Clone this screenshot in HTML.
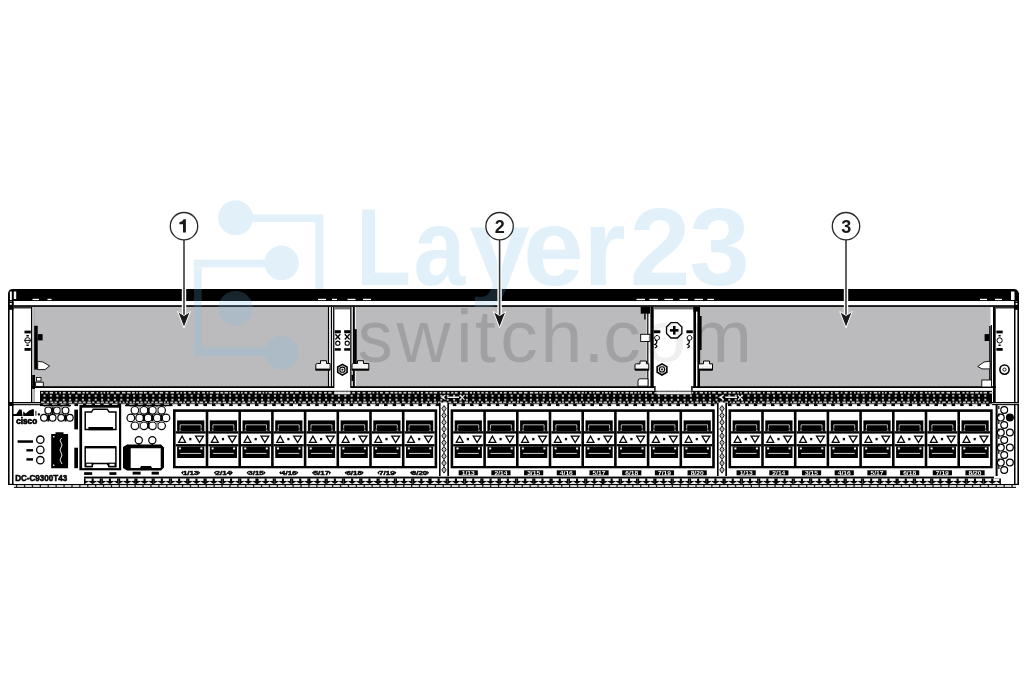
<!DOCTYPE html>
<html><head><meta charset="utf-8"><title>Switch front panel</title>
<style>html,body{margin:0;padding:0;background:#fff;overflow:hidden;}svg{display:block;will-change:transform;}
text{font-family:"Liberation Sans",sans-serif;}</style></head>
<body><svg width="1024" height="683" viewBox="0 0 1024 683">
<rect width="1024" height="683" fill="#fff"/>
<path d="M8,293.5 Q8.5,289.1 13,289.1 L1014,289.1 Q1018.5,289.1 1019,293.5 L1019,301.1 L8,301.1 Z" fill="#000"/>
<rect x="9.80" y="291.50" width="2.00" height="8.50" fill="#fff" />
<rect x="13.80" y="291.50" width="2.40" height="7.50" fill="#fff" />
<rect x="1011.00" y="291.50" width="3.50" height="8.50" fill="#fff" />
<rect x="32.50" y="298.80" width="6.50" height="1.30" fill="#fff" />
<rect x="47.50" y="298.80" width="4.00" height="1.30" fill="#fff" />
<rect x="318.00" y="298.80" width="8.00" height="1.30" fill="#fff" />
<rect x="332.00" y="298.80" width="5.00" height="1.30" fill="#fff" />
<rect x="347.50" y="298.80" width="8.00" height="1.30" fill="#fff" />
<rect x="363.00" y="298.80" width="8.00" height="1.30" fill="#fff" />
<rect x="636.50" y="298.80" width="8.50" height="1.30" fill="#fff" />
<rect x="649.40" y="298.80" width="8.60" height="1.30" fill="#fff" />
<rect x="664.40" y="298.80" width="8.60" height="1.30" fill="#fff" />
<rect x="679.50" y="298.80" width="8.50" height="1.30" fill="#fff" />
<rect x="694.50" y="298.80" width="8.50" height="1.30" fill="#fff" />
<rect x="707.40" y="298.80" width="6.60" height="1.30" fill="#fff" />
<rect x="980.00" y="298.80" width="7.00" height="1.30" fill="#fff" />
<rect x="995.00" y="298.80" width="7.00" height="1.30" fill="#fff" />
<rect x="13.40" y="301.10" width="1001.80" height="4.00" fill="#fff" />
<rect x="13.40" y="305.10" width="1001.80" height="1.90" fill="#1a1a1a" />
<rect x="8.00" y="293.00" width="1.60" height="192.00" fill="#000" />
<rect x="12.00" y="301.00" width="1.50" height="184.00" fill="#000" />
<rect x="8.00" y="483.80" width="6.00" height="1.20" fill="#000" />
<rect x="8.00" y="301.50" width="5.50" height="8.30" fill="#000" />
<rect x="9.80" y="303.00" width="2.00" height="1.80" fill="#fff" />
<rect x="13.50" y="307.20" width="17.50" height="1.20" fill="#000" />
<rect x="1017.40" y="293.00" width="1.60" height="192.00" fill="#000" />
<rect x="1014.00" y="301.00" width="1.50" height="184.00" fill="#000" />
<rect x="1014.00" y="483.80" width="5.00" height="1.20" fill="#000" />
<rect x="1014.00" y="301.50" width="5.00" height="8.30" fill="#000" />
<rect x="1015.60" y="303.00" width="1.80" height="1.80" fill="#fff" />
<rect x="996.00" y="307.20" width="18.00" height="1.20" fill="#000" />
<rect x="35.00" y="307.00" width="293.00" height="79.60" fill="#bbbbbe" />
<rect x="355.50" y="307.00" width="291.30" height="79.60" fill="#bbbbbe" />
<rect x="700.00" y="307.00" width="290.50" height="79.60" fill="#bbbbbe" />
<rect x="31.00" y="307.00" width="1.30" height="95.50" fill="#000" />
<rect x="33.40" y="307.00" width="1.40" height="95.50" fill="#999" />
<rect x="327.50" y="307.00" width="28.00" height="83.00" fill="#fff" />
<rect x="327.80" y="307.00" width="1.30" height="83.00" fill="#000" />
<rect x="330.80" y="307.00" width="1.30" height="83.00" fill="#000" />
<rect x="333.10" y="307.00" width="1.30" height="83.00" fill="#000" />
<rect x="350.20" y="307.00" width="1.30" height="83.00" fill="#000" />
<rect x="352.80" y="307.00" width="2.00" height="83.00" fill="#000" />
<rect x="334.40" y="306.90" width="15.80" height="2.50" fill="#777" />
<rect x="646.80" y="307.00" width="53.20" height="83.00" fill="#fff" />
<rect x="647.20" y="307.00" width="1.20" height="83.00" fill="#000" />
<rect x="650.40" y="307.00" width="3.30" height="83.00" fill="#000" />
<rect x="693.40" y="307.00" width="2.60" height="83.00" fill="#000" />
<rect x="697.40" y="307.00" width="2.60" height="83.00" fill="#000" />
<rect x="653.70" y="306.90" width="39.70" height="2.50" fill="#777" />
<rect x="990.80" y="325.00" width="1.10" height="61.00" fill="#000" />
<rect x="993.00" y="307.00" width="2.70" height="95.50" fill="#000" />
<rect x="31.00" y="386.20" width="965.00" height="1.80" fill="#000" />
<rect x="35.00" y="388.00" width="958.00" height="2.80" fill="#fff" />
<rect x="334.40" y="386.00" width="15.80" height="4.80" fill="#fff" />
<rect x="654.20" y="386.00" width="38.30" height="4.80" fill="#fff" />
<rect x="654.20" y="386.00" width="1.40" height="4.80" fill="#000" />
<rect x="691.20" y="386.00" width="1.40" height="4.80" fill="#000" />
<rect x="40.00" y="390.80" width="952.00" height="13.00" fill="#000" />
<rect x="41.00" y="391.90" width="2.20" height="1.70" fill="#c8c8c8" />
<rect x="45.60" y="391.90" width="2.20" height="1.70" fill="#c8c8c8" />
<rect x="49.60" y="391.90" width="3.40" height="1.70" fill="#c8c8c8" />
<rect x="55.40" y="391.90" width="1.60" height="1.70" fill="#c8c8c8" />
<rect x="59.40" y="391.90" width="1.60" height="1.70" fill="#c8c8c8" />
<rect x="62.80" y="391.90" width="2.80" height="1.70" fill="#c8c8c8" />
<rect x="68.00" y="391.90" width="2.20" height="1.70" fill="#c8c8c8" />
<rect x="71.60" y="391.90" width="3.40" height="1.70" fill="#c8c8c8" />
<rect x="77.40" y="391.90" width="3.40" height="1.70" fill="#c8c8c8" />
<rect x="82.60" y="391.90" width="2.20" height="1.70" fill="#c8c8c8" />
<rect x="86.20" y="391.90" width="2.20" height="1.70" fill="#c8c8c8" />
<rect x="90.80" y="391.90" width="3.40" height="1.70" fill="#c8c8c8" />
<rect x="96.60" y="391.90" width="1.60" height="1.70" fill="#c8c8c8" />
<rect x="100.60" y="391.90" width="1.60" height="1.70" fill="#c8c8c8" />
<rect x="103.60" y="391.90" width="1.60" height="1.70" fill="#c8c8c8" />
<rect x="107.00" y="391.90" width="1.60" height="1.70" fill="#c8c8c8" />
<rect x="110.40" y="391.90" width="3.40" height="1.70" fill="#c8c8c8" />
<rect x="116.20" y="391.90" width="3.40" height="1.70" fill="#c8c8c8" />
<rect x="122.00" y="391.90" width="3.40" height="1.70" fill="#c8c8c8" />
<rect x="127.20" y="391.90" width="3.40" height="1.70" fill="#c8c8c8" />
<rect x="132.00" y="391.90" width="2.80" height="1.70" fill="#c8c8c8" />
<rect x="136.20" y="391.90" width="1.60" height="1.70" fill="#c8c8c8" />
<rect x="139.20" y="391.90" width="3.40" height="1.70" fill="#c8c8c8" />
<rect x="144.00" y="391.90" width="2.80" height="1.70" fill="#c8c8c8" />
<rect x="149.20" y="391.90" width="3.40" height="1.70" fill="#c8c8c8" />
<rect x="155.00" y="391.90" width="2.80" height="1.70" fill="#c8c8c8" />
<rect x="159.60" y="391.90" width="3.40" height="1.70" fill="#c8c8c8" />
<rect x="165.40" y="391.90" width="2.80" height="1.70" fill="#c8c8c8" />
<rect x="170.60" y="391.90" width="3.40" height="1.70" fill="#c8c8c8" />
<rect x="176.40" y="391.90" width="2.20" height="1.70" fill="#c8c8c8" />
<rect x="180.40" y="391.90" width="1.60" height="1.70" fill="#c8c8c8" />
<rect x="183.80" y="391.90" width="2.20" height="1.70" fill="#c8c8c8" />
<rect x="188.40" y="391.90" width="2.80" height="1.70" fill="#c8c8c8" />
<rect x="193.60" y="391.90" width="1.60" height="1.70" fill="#c8c8c8" />
<rect x="197.60" y="391.90" width="2.20" height="1.70" fill="#c8c8c8" />
<rect x="202.20" y="391.90" width="2.80" height="1.70" fill="#c8c8c8" />
<rect x="206.80" y="391.90" width="1.60" height="1.70" fill="#c8c8c8" />
<rect x="209.80" y="391.90" width="3.40" height="1.70" fill="#c8c8c8" />
<rect x="215.60" y="391.90" width="3.40" height="1.70" fill="#c8c8c8" />
<rect x="220.40" y="391.90" width="2.80" height="1.70" fill="#c8c8c8" />
<rect x="224.60" y="391.90" width="3.40" height="1.70" fill="#c8c8c8" />
<rect x="229.40" y="391.90" width="1.60" height="1.70" fill="#c8c8c8" />
<rect x="232.80" y="391.90" width="3.40" height="1.70" fill="#c8c8c8" />
<rect x="238.00" y="391.90" width="1.60" height="1.70" fill="#c8c8c8" />
<rect x="241.00" y="391.90" width="1.60" height="1.70" fill="#c8c8c8" />
<rect x="244.40" y="391.90" width="2.80" height="1.70" fill="#c8c8c8" />
<rect x="249.60" y="391.90" width="2.80" height="1.70" fill="#c8c8c8" />
<rect x="254.80" y="391.90" width="2.20" height="1.70" fill="#c8c8c8" />
<rect x="258.40" y="391.90" width="2.80" height="1.70" fill="#c8c8c8" />
<rect x="262.60" y="391.90" width="1.60" height="1.70" fill="#c8c8c8" />
<rect x="265.60" y="391.90" width="1.60" height="1.70" fill="#c8c8c8" />
<rect x="268.60" y="391.90" width="3.40" height="1.70" fill="#c8c8c8" />
<rect x="273.80" y="391.90" width="2.80" height="1.70" fill="#c8c8c8" />
<rect x="278.00" y="391.90" width="1.60" height="1.70" fill="#c8c8c8" />
<rect x="281.40" y="391.90" width="2.80" height="1.70" fill="#c8c8c8" />
<rect x="286.00" y="391.90" width="2.20" height="1.70" fill="#c8c8c8" />
<rect x="290.00" y="391.90" width="3.40" height="1.70" fill="#c8c8c8" />
<rect x="295.20" y="391.90" width="3.40" height="1.70" fill="#c8c8c8" />
<rect x="301.00" y="391.90" width="1.60" height="1.70" fill="#c8c8c8" />
<rect x="305.00" y="391.90" width="2.80" height="1.70" fill="#c8c8c8" />
<rect x="309.60" y="391.90" width="2.20" height="1.70" fill="#c8c8c8" />
<rect x="313.60" y="391.90" width="3.40" height="1.70" fill="#c8c8c8" />
<rect x="318.80" y="391.90" width="2.80" height="1.70" fill="#c8c8c8" />
<rect x="324.00" y="391.90" width="2.80" height="1.70" fill="#c8c8c8" />
<rect x="328.20" y="391.90" width="3.40" height="1.70" fill="#c8c8c8" />
<rect x="334.00" y="391.90" width="2.80" height="1.70" fill="#c8c8c8" />
<rect x="338.20" y="391.90" width="3.40" height="1.70" fill="#c8c8c8" />
<rect x="344.00" y="391.90" width="2.20" height="1.70" fill="#c8c8c8" />
<rect x="347.60" y="391.90" width="2.80" height="1.70" fill="#c8c8c8" />
<rect x="352.20" y="391.90" width="2.80" height="1.70" fill="#c8c8c8" />
<rect x="357.40" y="391.90" width="2.80" height="1.70" fill="#c8c8c8" />
<rect x="362.60" y="391.90" width="2.80" height="1.70" fill="#c8c8c8" />
<rect x="367.80" y="391.90" width="3.40" height="1.70" fill="#c8c8c8" />
<rect x="372.60" y="391.90" width="1.60" height="1.70" fill="#c8c8c8" />
<rect x="376.60" y="391.90" width="1.60" height="1.70" fill="#c8c8c8" />
<rect x="380.00" y="391.90" width="2.80" height="1.70" fill="#c8c8c8" />
<rect x="385.20" y="391.90" width="3.40" height="1.70" fill="#c8c8c8" />
<rect x="390.40" y="391.90" width="2.80" height="1.70" fill="#c8c8c8" />
<rect x="394.60" y="391.90" width="2.80" height="1.70" fill="#c8c8c8" />
<rect x="398.80" y="391.90" width="2.80" height="1.70" fill="#c8c8c8" />
<rect x="403.40" y="391.90" width="2.80" height="1.70" fill="#c8c8c8" />
<rect x="408.00" y="391.90" width="3.40" height="1.70" fill="#c8c8c8" />
<rect x="412.80" y="391.90" width="1.60" height="1.70" fill="#c8c8c8" />
<rect x="416.80" y="391.90" width="2.20" height="1.70" fill="#c8c8c8" />
<rect x="420.80" y="391.90" width="2.20" height="1.70" fill="#c8c8c8" />
<rect x="425.40" y="391.90" width="2.80" height="1.70" fill="#c8c8c8" />
<rect x="429.60" y="391.90" width="2.80" height="1.70" fill="#c8c8c8" />
<rect x="433.80" y="391.90" width="3.40" height="1.70" fill="#c8c8c8" />
<rect x="439.60" y="391.90" width="1.60" height="1.70" fill="#c8c8c8" />
<rect x="442.60" y="391.90" width="2.80" height="1.70" fill="#c8c8c8" />
<rect x="447.20" y="391.90" width="2.20" height="1.70" fill="#c8c8c8" />
<rect x="451.20" y="391.90" width="2.20" height="1.70" fill="#c8c8c8" />
<rect x="454.80" y="391.90" width="2.80" height="1.70" fill="#c8c8c8" />
<rect x="460.00" y="391.90" width="2.20" height="1.70" fill="#c8c8c8" />
<rect x="464.60" y="391.90" width="3.40" height="1.70" fill="#c8c8c8" />
<rect x="469.80" y="391.90" width="2.20" height="1.70" fill="#c8c8c8" />
<rect x="473.40" y="391.90" width="1.60" height="1.70" fill="#c8c8c8" />
<rect x="477.40" y="391.90" width="2.20" height="1.70" fill="#c8c8c8" />
<rect x="481.40" y="391.90" width="2.20" height="1.70" fill="#c8c8c8" />
<rect x="485.40" y="391.90" width="2.80" height="1.70" fill="#c8c8c8" />
<rect x="490.60" y="391.90" width="1.60" height="1.70" fill="#c8c8c8" />
<rect x="494.60" y="391.90" width="2.80" height="1.70" fill="#c8c8c8" />
<rect x="499.80" y="391.90" width="2.20" height="1.70" fill="#c8c8c8" />
<rect x="503.80" y="391.90" width="2.80" height="1.70" fill="#c8c8c8" />
<rect x="509.00" y="391.90" width="2.80" height="1.70" fill="#c8c8c8" />
<rect x="513.60" y="391.90" width="2.80" height="1.70" fill="#c8c8c8" />
<rect x="518.80" y="391.90" width="3.40" height="1.70" fill="#c8c8c8" />
<rect x="524.00" y="391.90" width="3.40" height="1.70" fill="#c8c8c8" />
<rect x="529.80" y="391.90" width="3.40" height="1.70" fill="#c8c8c8" />
<rect x="534.60" y="391.90" width="3.40" height="1.70" fill="#c8c8c8" />
<rect x="539.40" y="391.90" width="2.20" height="1.70" fill="#c8c8c8" />
<rect x="543.00" y="391.90" width="3.40" height="1.70" fill="#c8c8c8" />
<rect x="548.80" y="391.90" width="3.40" height="1.70" fill="#c8c8c8" />
<rect x="554.60" y="391.90" width="2.20" height="1.70" fill="#c8c8c8" />
<rect x="558.20" y="391.90" width="3.40" height="1.70" fill="#c8c8c8" />
<rect x="564.00" y="391.90" width="2.80" height="1.70" fill="#c8c8c8" />
<rect x="569.20" y="391.90" width="2.80" height="1.70" fill="#c8c8c8" />
<rect x="573.40" y="391.90" width="1.60" height="1.70" fill="#c8c8c8" />
<rect x="577.40" y="391.90" width="2.80" height="1.70" fill="#c8c8c8" />
<rect x="581.60" y="391.90" width="2.20" height="1.70" fill="#c8c8c8" />
<rect x="585.20" y="391.90" width="1.60" height="1.70" fill="#c8c8c8" />
<rect x="589.20" y="391.90" width="2.20" height="1.70" fill="#c8c8c8" />
<rect x="593.20" y="391.90" width="1.60" height="1.70" fill="#c8c8c8" />
<rect x="596.20" y="391.90" width="3.40" height="1.70" fill="#c8c8c8" />
<rect x="602.00" y="391.90" width="1.60" height="1.70" fill="#c8c8c8" />
<rect x="605.00" y="391.90" width="2.80" height="1.70" fill="#c8c8c8" />
<rect x="609.20" y="391.90" width="1.60" height="1.70" fill="#c8c8c8" />
<rect x="613.20" y="391.90" width="3.40" height="1.70" fill="#c8c8c8" />
<rect x="618.00" y="391.90" width="1.60" height="1.70" fill="#c8c8c8" />
<rect x="621.40" y="391.90" width="2.20" height="1.70" fill="#c8c8c8" />
<rect x="625.40" y="391.90" width="3.40" height="1.70" fill="#c8c8c8" />
<rect x="630.20" y="391.90" width="2.80" height="1.70" fill="#c8c8c8" />
<rect x="634.40" y="391.90" width="2.20" height="1.70" fill="#c8c8c8" />
<rect x="638.00" y="391.90" width="1.60" height="1.70" fill="#c8c8c8" />
<rect x="641.00" y="391.90" width="2.20" height="1.70" fill="#c8c8c8" />
<rect x="645.00" y="391.90" width="2.20" height="1.70" fill="#c8c8c8" />
<rect x="648.60" y="391.90" width="3.40" height="1.70" fill="#c8c8c8" />
<rect x="654.40" y="391.90" width="3.40" height="1.70" fill="#c8c8c8" />
<rect x="659.20" y="391.90" width="2.80" height="1.70" fill="#c8c8c8" />
<rect x="663.40" y="391.90" width="2.80" height="1.70" fill="#c8c8c8" />
<rect x="668.60" y="391.90" width="3.40" height="1.70" fill="#c8c8c8" />
<rect x="673.40" y="391.90" width="3.40" height="1.70" fill="#c8c8c8" />
<rect x="678.60" y="391.90" width="1.60" height="1.70" fill="#c8c8c8" />
<rect x="681.60" y="391.90" width="2.20" height="1.70" fill="#c8c8c8" />
<rect x="685.20" y="391.90" width="1.60" height="1.70" fill="#c8c8c8" />
<rect x="688.20" y="391.90" width="1.60" height="1.70" fill="#c8c8c8" />
<rect x="691.60" y="391.90" width="1.60" height="1.70" fill="#c8c8c8" />
<rect x="695.60" y="391.90" width="1.60" height="1.70" fill="#c8c8c8" />
<rect x="699.60" y="391.90" width="3.40" height="1.70" fill="#c8c8c8" />
<rect x="704.80" y="391.90" width="2.20" height="1.70" fill="#c8c8c8" />
<rect x="708.80" y="391.90" width="1.60" height="1.70" fill="#c8c8c8" />
<rect x="712.20" y="391.90" width="3.40" height="1.70" fill="#c8c8c8" />
<rect x="718.00" y="391.90" width="3.40" height="1.70" fill="#c8c8c8" />
<rect x="723.80" y="391.90" width="2.80" height="1.70" fill="#c8c8c8" />
<rect x="728.40" y="391.90" width="2.80" height="1.70" fill="#c8c8c8" />
<rect x="732.60" y="391.90" width="2.80" height="1.70" fill="#c8c8c8" />
<rect x="737.20" y="391.90" width="1.60" height="1.70" fill="#c8c8c8" />
<rect x="740.20" y="391.90" width="1.60" height="1.70" fill="#c8c8c8" />
<rect x="744.20" y="391.90" width="3.40" height="1.70" fill="#c8c8c8" />
<rect x="749.00" y="391.90" width="2.20" height="1.70" fill="#c8c8c8" />
<rect x="752.60" y="391.90" width="2.80" height="1.70" fill="#c8c8c8" />
<rect x="757.20" y="391.90" width="3.40" height="1.70" fill="#c8c8c8" />
<rect x="763.00" y="391.90" width="1.60" height="1.70" fill="#c8c8c8" />
<rect x="767.00" y="391.90" width="3.40" height="1.70" fill="#c8c8c8" />
<rect x="771.80" y="391.90" width="2.80" height="1.70" fill="#c8c8c8" />
<rect x="777.00" y="391.90" width="3.40" height="1.70" fill="#c8c8c8" />
<rect x="782.80" y="391.90" width="2.80" height="1.70" fill="#c8c8c8" />
<rect x="787.40" y="391.90" width="3.40" height="1.70" fill="#c8c8c8" />
<rect x="792.60" y="391.90" width="1.60" height="1.70" fill="#c8c8c8" />
<rect x="795.60" y="391.90" width="2.20" height="1.70" fill="#c8c8c8" />
<rect x="800.20" y="391.90" width="2.80" height="1.70" fill="#c8c8c8" />
<rect x="805.40" y="391.90" width="1.60" height="1.70" fill="#c8c8c8" />
<rect x="808.80" y="391.90" width="2.20" height="1.70" fill="#c8c8c8" />
<rect x="812.80" y="391.90" width="2.20" height="1.70" fill="#c8c8c8" />
<rect x="816.40" y="391.90" width="2.80" height="1.70" fill="#c8c8c8" />
<rect x="821.00" y="391.90" width="2.80" height="1.70" fill="#c8c8c8" />
<rect x="825.20" y="391.90" width="3.40" height="1.70" fill="#c8c8c8" />
<rect x="831.00" y="391.90" width="1.60" height="1.70" fill="#c8c8c8" />
<rect x="835.00" y="391.90" width="3.40" height="1.70" fill="#c8c8c8" />
<rect x="840.80" y="391.90" width="1.60" height="1.70" fill="#c8c8c8" />
<rect x="844.80" y="391.90" width="2.80" height="1.70" fill="#c8c8c8" />
<rect x="850.00" y="391.90" width="1.60" height="1.70" fill="#c8c8c8" />
<rect x="854.00" y="391.90" width="1.60" height="1.70" fill="#c8c8c8" />
<rect x="857.40" y="391.90" width="2.20" height="1.70" fill="#c8c8c8" />
<rect x="861.00" y="391.90" width="3.40" height="1.70" fill="#c8c8c8" />
<rect x="865.80" y="391.90" width="1.60" height="1.70" fill="#c8c8c8" />
<rect x="869.80" y="391.90" width="1.60" height="1.70" fill="#c8c8c8" />
<rect x="873.80" y="391.90" width="3.40" height="1.70" fill="#c8c8c8" />
<rect x="878.60" y="391.90" width="1.60" height="1.70" fill="#c8c8c8" />
<rect x="882.00" y="391.90" width="1.60" height="1.70" fill="#c8c8c8" />
<rect x="885.00" y="391.90" width="1.60" height="1.70" fill="#c8c8c8" />
<rect x="889.00" y="391.90" width="3.40" height="1.70" fill="#c8c8c8" />
<rect x="894.80" y="391.90" width="2.80" height="1.70" fill="#c8c8c8" />
<rect x="900.00" y="391.90" width="2.80" height="1.70" fill="#c8c8c8" />
<rect x="904.20" y="391.90" width="1.60" height="1.70" fill="#c8c8c8" />
<rect x="908.20" y="391.90" width="2.20" height="1.70" fill="#c8c8c8" />
<rect x="911.80" y="391.90" width="1.60" height="1.70" fill="#c8c8c8" />
<rect x="915.80" y="391.90" width="1.60" height="1.70" fill="#c8c8c8" />
<rect x="919.80" y="391.90" width="2.80" height="1.70" fill="#c8c8c8" />
<rect x="925.00" y="391.90" width="2.20" height="1.70" fill="#c8c8c8" />
<rect x="928.60" y="391.90" width="2.20" height="1.70" fill="#c8c8c8" />
<rect x="932.20" y="391.90" width="2.20" height="1.70" fill="#c8c8c8" />
<rect x="936.20" y="391.90" width="3.40" height="1.70" fill="#c8c8c8" />
<rect x="941.40" y="391.90" width="2.80" height="1.70" fill="#c8c8c8" />
<rect x="946.60" y="391.90" width="3.40" height="1.70" fill="#c8c8c8" />
<rect x="951.80" y="391.90" width="3.40" height="1.70" fill="#c8c8c8" />
<rect x="956.60" y="391.90" width="3.40" height="1.70" fill="#c8c8c8" />
<rect x="962.40" y="391.90" width="2.20" height="1.70" fill="#c8c8c8" />
<rect x="966.40" y="391.90" width="2.20" height="1.70" fill="#c8c8c8" />
<rect x="970.40" y="391.90" width="3.40" height="1.70" fill="#c8c8c8" />
<rect x="975.20" y="391.90" width="3.40" height="1.70" fill="#c8c8c8" />
<rect x="980.00" y="391.90" width="2.20" height="1.70" fill="#c8c8c8" />
<rect x="983.60" y="391.90" width="3.40" height="1.70" fill="#c8c8c8" />
<rect x="989.40" y="391.90" width="3.40" height="1.70" fill="#c8c8c8" />
<rect x="43.50" y="394.80" width="2.00" height="1.90" fill="#c4c4c4" />
<rect x="49.90" y="394.80" width="2.00" height="1.90" fill="#c4c4c4" />
<rect x="56.30" y="394.80" width="2.00" height="1.90" fill="#c4c4c4" />
<rect x="62.70" y="394.80" width="2.00" height="1.90" fill="#c4c4c4" />
<rect x="69.10" y="394.80" width="2.00" height="1.90" fill="#c4c4c4" />
<rect x="75.50" y="394.80" width="2.00" height="1.90" fill="#c4c4c4" />
<rect x="81.90" y="394.80" width="2.00" height="1.90" fill="#c4c4c4" />
<rect x="88.30" y="394.80" width="2.00" height="1.90" fill="#c4c4c4" />
<rect x="94.70" y="394.80" width="2.00" height="1.90" fill="#c4c4c4" />
<rect x="101.10" y="394.80" width="2.00" height="1.90" fill="#c4c4c4" />
<rect x="107.50" y="394.80" width="2.00" height="1.90" fill="#c4c4c4" />
<rect x="113.90" y="394.80" width="2.00" height="1.90" fill="#c4c4c4" />
<rect x="120.30" y="394.80" width="2.00" height="1.90" fill="#c4c4c4" />
<rect x="126.70" y="394.80" width="2.00" height="1.90" fill="#c4c4c4" />
<rect x="133.10" y="394.80" width="2.00" height="1.90" fill="#c4c4c4" />
<rect x="139.50" y="394.80" width="2.00" height="1.90" fill="#c4c4c4" />
<rect x="145.90" y="394.80" width="2.00" height="1.90" fill="#c4c4c4" />
<rect x="152.30" y="394.80" width="2.00" height="1.90" fill="#c4c4c4" />
<rect x="158.70" y="394.80" width="2.00" height="1.90" fill="#c4c4c4" />
<rect x="165.10" y="394.80" width="2.00" height="1.90" fill="#c4c4c4" />
<rect x="171.50" y="394.80" width="2.00" height="1.90" fill="#c4c4c4" />
<rect x="177.90" y="394.80" width="2.00" height="1.90" fill="#c4c4c4" />
<rect x="184.30" y="394.80" width="2.00" height="1.90" fill="#c4c4c4" />
<rect x="190.70" y="394.80" width="2.00" height="1.90" fill="#c4c4c4" />
<rect x="197.10" y="394.80" width="2.00" height="1.90" fill="#c4c4c4" />
<rect x="203.50" y="394.80" width="2.00" height="1.90" fill="#c4c4c4" />
<rect x="209.90" y="394.80" width="2.00" height="1.90" fill="#c4c4c4" />
<rect x="216.30" y="394.80" width="2.00" height="1.90" fill="#c4c4c4" />
<rect x="222.70" y="394.80" width="2.00" height="1.90" fill="#c4c4c4" />
<rect x="229.10" y="394.80" width="2.00" height="1.90" fill="#c4c4c4" />
<rect x="235.50" y="394.80" width="2.00" height="1.90" fill="#c4c4c4" />
<rect x="241.90" y="394.80" width="2.00" height="1.90" fill="#c4c4c4" />
<rect x="248.30" y="394.80" width="2.00" height="1.90" fill="#c4c4c4" />
<rect x="254.70" y="394.80" width="2.00" height="1.90" fill="#c4c4c4" />
<rect x="261.10" y="394.80" width="2.00" height="1.90" fill="#c4c4c4" />
<rect x="267.50" y="394.80" width="2.00" height="1.90" fill="#c4c4c4" />
<rect x="273.90" y="394.80" width="2.00" height="1.90" fill="#c4c4c4" />
<rect x="280.30" y="394.80" width="2.00" height="1.90" fill="#c4c4c4" />
<rect x="286.70" y="394.80" width="2.00" height="1.90" fill="#c4c4c4" />
<rect x="293.10" y="394.80" width="2.00" height="1.90" fill="#c4c4c4" />
<rect x="299.50" y="394.80" width="2.00" height="1.90" fill="#c4c4c4" />
<rect x="305.90" y="394.80" width="2.00" height="1.90" fill="#c4c4c4" />
<rect x="312.30" y="394.80" width="2.00" height="1.90" fill="#c4c4c4" />
<rect x="318.70" y="394.80" width="2.00" height="1.90" fill="#c4c4c4" />
<rect x="325.10" y="394.80" width="2.00" height="1.90" fill="#c4c4c4" />
<rect x="331.50" y="394.80" width="2.00" height="1.90" fill="#c4c4c4" />
<rect x="337.90" y="394.80" width="2.00" height="1.90" fill="#c4c4c4" />
<rect x="344.30" y="394.80" width="2.00" height="1.90" fill="#c4c4c4" />
<rect x="350.70" y="394.80" width="2.00" height="1.90" fill="#c4c4c4" />
<rect x="357.10" y="394.80" width="2.00" height="1.90" fill="#c4c4c4" />
<rect x="363.50" y="394.80" width="2.00" height="1.90" fill="#c4c4c4" />
<rect x="369.90" y="394.80" width="2.00" height="1.90" fill="#c4c4c4" />
<rect x="376.30" y="394.80" width="2.00" height="1.90" fill="#c4c4c4" />
<rect x="382.70" y="394.80" width="2.00" height="1.90" fill="#c4c4c4" />
<rect x="389.10" y="394.80" width="2.00" height="1.90" fill="#c4c4c4" />
<rect x="395.50" y="394.80" width="2.00" height="1.90" fill="#c4c4c4" />
<rect x="401.90" y="394.80" width="2.00" height="1.90" fill="#c4c4c4" />
<rect x="408.30" y="394.80" width="2.00" height="1.90" fill="#c4c4c4" />
<rect x="414.70" y="394.80" width="2.00" height="1.90" fill="#c4c4c4" />
<rect x="421.10" y="394.80" width="2.00" height="1.90" fill="#c4c4c4" />
<rect x="427.50" y="394.80" width="2.00" height="1.90" fill="#c4c4c4" />
<rect x="433.90" y="394.80" width="2.00" height="1.90" fill="#c4c4c4" />
<rect x="440.30" y="394.80" width="2.00" height="1.90" fill="#c4c4c4" />
<rect x="446.70" y="394.80" width="2.00" height="1.90" fill="#c4c4c4" />
<rect x="453.10" y="394.80" width="2.00" height="1.90" fill="#c4c4c4" />
<rect x="459.50" y="394.80" width="2.00" height="1.90" fill="#c4c4c4" />
<rect x="465.90" y="394.80" width="2.00" height="1.90" fill="#c4c4c4" />
<rect x="472.30" y="394.80" width="2.00" height="1.90" fill="#c4c4c4" />
<rect x="478.70" y="394.80" width="2.00" height="1.90" fill="#c4c4c4" />
<rect x="485.10" y="394.80" width="2.00" height="1.90" fill="#c4c4c4" />
<rect x="491.50" y="394.80" width="2.00" height="1.90" fill="#c4c4c4" />
<rect x="497.90" y="394.80" width="2.00" height="1.90" fill="#c4c4c4" />
<rect x="504.30" y="394.80" width="2.00" height="1.90" fill="#c4c4c4" />
<rect x="510.70" y="394.80" width="2.00" height="1.90" fill="#c4c4c4" />
<rect x="517.10" y="394.80" width="2.00" height="1.90" fill="#c4c4c4" />
<rect x="523.50" y="394.80" width="2.00" height="1.90" fill="#c4c4c4" />
<rect x="529.90" y="394.80" width="2.00" height="1.90" fill="#c4c4c4" />
<rect x="536.30" y="394.80" width="2.00" height="1.90" fill="#c4c4c4" />
<rect x="542.70" y="394.80" width="2.00" height="1.90" fill="#c4c4c4" />
<rect x="549.10" y="394.80" width="2.00" height="1.90" fill="#c4c4c4" />
<rect x="555.50" y="394.80" width="2.00" height="1.90" fill="#c4c4c4" />
<rect x="561.90" y="394.80" width="2.00" height="1.90" fill="#c4c4c4" />
<rect x="568.30" y="394.80" width="2.00" height="1.90" fill="#c4c4c4" />
<rect x="574.70" y="394.80" width="2.00" height="1.90" fill="#c4c4c4" />
<rect x="581.10" y="394.80" width="2.00" height="1.90" fill="#c4c4c4" />
<rect x="587.50" y="394.80" width="2.00" height="1.90" fill="#c4c4c4" />
<rect x="593.90" y="394.80" width="2.00" height="1.90" fill="#c4c4c4" />
<rect x="600.30" y="394.80" width="2.00" height="1.90" fill="#c4c4c4" />
<rect x="606.70" y="394.80" width="2.00" height="1.90" fill="#c4c4c4" />
<rect x="613.10" y="394.80" width="2.00" height="1.90" fill="#c4c4c4" />
<rect x="619.50" y="394.80" width="2.00" height="1.90" fill="#c4c4c4" />
<rect x="625.90" y="394.80" width="2.00" height="1.90" fill="#c4c4c4" />
<rect x="632.30" y="394.80" width="2.00" height="1.90" fill="#c4c4c4" />
<rect x="638.70" y="394.80" width="2.00" height="1.90" fill="#c4c4c4" />
<rect x="645.10" y="394.80" width="2.00" height="1.90" fill="#c4c4c4" />
<rect x="651.50" y="394.80" width="2.00" height="1.90" fill="#c4c4c4" />
<rect x="657.90" y="394.80" width="2.00" height="1.90" fill="#c4c4c4" />
<rect x="664.30" y="394.80" width="2.00" height="1.90" fill="#c4c4c4" />
<rect x="670.70" y="394.80" width="2.00" height="1.90" fill="#c4c4c4" />
<rect x="677.10" y="394.80" width="2.00" height="1.90" fill="#c4c4c4" />
<rect x="683.50" y="394.80" width="2.00" height="1.90" fill="#c4c4c4" />
<rect x="689.90" y="394.80" width="2.00" height="1.90" fill="#c4c4c4" />
<rect x="696.30" y="394.80" width="2.00" height="1.90" fill="#c4c4c4" />
<rect x="702.70" y="394.80" width="2.00" height="1.90" fill="#c4c4c4" />
<rect x="709.10" y="394.80" width="2.00" height="1.90" fill="#c4c4c4" />
<rect x="715.50" y="394.80" width="2.00" height="1.90" fill="#c4c4c4" />
<rect x="721.90" y="394.80" width="2.00" height="1.90" fill="#c4c4c4" />
<rect x="728.30" y="394.80" width="2.00" height="1.90" fill="#c4c4c4" />
<rect x="734.70" y="394.80" width="2.00" height="1.90" fill="#c4c4c4" />
<rect x="741.10" y="394.80" width="2.00" height="1.90" fill="#c4c4c4" />
<rect x="747.50" y="394.80" width="2.00" height="1.90" fill="#c4c4c4" />
<rect x="753.90" y="394.80" width="2.00" height="1.90" fill="#c4c4c4" />
<rect x="760.30" y="394.80" width="2.00" height="1.90" fill="#c4c4c4" />
<rect x="766.70" y="394.80" width="2.00" height="1.90" fill="#c4c4c4" />
<rect x="773.10" y="394.80" width="2.00" height="1.90" fill="#c4c4c4" />
<rect x="779.50" y="394.80" width="2.00" height="1.90" fill="#c4c4c4" />
<rect x="785.90" y="394.80" width="2.00" height="1.90" fill="#c4c4c4" />
<rect x="792.30" y="394.80" width="2.00" height="1.90" fill="#c4c4c4" />
<rect x="798.70" y="394.80" width="2.00" height="1.90" fill="#c4c4c4" />
<rect x="805.10" y="394.80" width="2.00" height="1.90" fill="#c4c4c4" />
<rect x="811.50" y="394.80" width="2.00" height="1.90" fill="#c4c4c4" />
<rect x="817.90" y="394.80" width="2.00" height="1.90" fill="#c4c4c4" />
<rect x="824.30" y="394.80" width="2.00" height="1.90" fill="#c4c4c4" />
<rect x="830.70" y="394.80" width="2.00" height="1.90" fill="#c4c4c4" />
<rect x="837.10" y="394.80" width="2.00" height="1.90" fill="#c4c4c4" />
<rect x="843.50" y="394.80" width="2.00" height="1.90" fill="#c4c4c4" />
<rect x="849.90" y="394.80" width="2.00" height="1.90" fill="#c4c4c4" />
<rect x="856.30" y="394.80" width="2.00" height="1.90" fill="#c4c4c4" />
<rect x="862.70" y="394.80" width="2.00" height="1.90" fill="#c4c4c4" />
<rect x="869.10" y="394.80" width="2.00" height="1.90" fill="#c4c4c4" />
<rect x="875.50" y="394.80" width="2.00" height="1.90" fill="#c4c4c4" />
<rect x="881.90" y="394.80" width="2.00" height="1.90" fill="#c4c4c4" />
<rect x="888.30" y="394.80" width="2.00" height="1.90" fill="#c4c4c4" />
<rect x="894.70" y="394.80" width="2.00" height="1.90" fill="#c4c4c4" />
<rect x="901.10" y="394.80" width="2.00" height="1.90" fill="#c4c4c4" />
<rect x="907.50" y="394.80" width="2.00" height="1.90" fill="#c4c4c4" />
<rect x="913.90" y="394.80" width="2.00" height="1.90" fill="#c4c4c4" />
<rect x="920.30" y="394.80" width="2.00" height="1.90" fill="#c4c4c4" />
<rect x="926.70" y="394.80" width="2.00" height="1.90" fill="#c4c4c4" />
<rect x="933.10" y="394.80" width="2.00" height="1.90" fill="#c4c4c4" />
<rect x="939.50" y="394.80" width="2.00" height="1.90" fill="#c4c4c4" />
<rect x="945.90" y="394.80" width="2.00" height="1.90" fill="#c4c4c4" />
<rect x="952.30" y="394.80" width="2.00" height="1.90" fill="#c4c4c4" />
<rect x="958.70" y="394.80" width="2.00" height="1.90" fill="#c4c4c4" />
<rect x="965.10" y="394.80" width="2.00" height="1.90" fill="#c4c4c4" />
<rect x="971.50" y="394.80" width="2.00" height="1.90" fill="#c4c4c4" />
<rect x="977.90" y="394.80" width="2.00" height="1.90" fill="#c4c4c4" />
<rect x="984.30" y="394.80" width="2.00" height="1.90" fill="#c4c4c4" />
<rect x="43.50" y="398.80" width="2.00" height="1.90" fill="#c4c4c4" />
<rect x="49.90" y="398.80" width="2.00" height="1.90" fill="#c4c4c4" />
<rect x="56.30" y="398.80" width="2.00" height="1.90" fill="#c4c4c4" />
<rect x="62.70" y="398.80" width="2.00" height="1.90" fill="#c4c4c4" />
<rect x="69.10" y="398.80" width="2.00" height="1.90" fill="#c4c4c4" />
<rect x="75.50" y="398.80" width="2.00" height="1.90" fill="#c4c4c4" />
<rect x="81.90" y="398.80" width="2.00" height="1.90" fill="#c4c4c4" />
<rect x="88.30" y="398.80" width="2.00" height="1.90" fill="#c4c4c4" />
<rect x="94.70" y="398.80" width="2.00" height="1.90" fill="#c4c4c4" />
<rect x="101.10" y="398.80" width="2.00" height="1.90" fill="#c4c4c4" />
<rect x="107.50" y="398.80" width="2.00" height="1.90" fill="#c4c4c4" />
<rect x="113.90" y="398.80" width="2.00" height="1.90" fill="#c4c4c4" />
<rect x="120.30" y="398.80" width="2.00" height="1.90" fill="#c4c4c4" />
<rect x="126.70" y="398.80" width="2.00" height="1.90" fill="#c4c4c4" />
<rect x="133.10" y="398.80" width="2.00" height="1.90" fill="#c4c4c4" />
<rect x="139.50" y="398.80" width="2.00" height="1.90" fill="#c4c4c4" />
<rect x="145.90" y="398.80" width="2.00" height="1.90" fill="#c4c4c4" />
<rect x="152.30" y="398.80" width="2.00" height="1.90" fill="#c4c4c4" />
<rect x="158.70" y="398.80" width="2.00" height="1.90" fill="#c4c4c4" />
<rect x="165.10" y="398.80" width="2.00" height="1.90" fill="#c4c4c4" />
<rect x="171.50" y="398.80" width="2.00" height="1.90" fill="#c4c4c4" />
<rect x="177.90" y="398.80" width="2.00" height="1.90" fill="#c4c4c4" />
<rect x="184.30" y="398.80" width="2.00" height="1.90" fill="#c4c4c4" />
<rect x="190.70" y="398.80" width="2.00" height="1.90" fill="#c4c4c4" />
<rect x="197.10" y="398.80" width="2.00" height="1.90" fill="#c4c4c4" />
<rect x="203.50" y="398.80" width="2.00" height="1.90" fill="#c4c4c4" />
<rect x="209.90" y="398.80" width="2.00" height="1.90" fill="#c4c4c4" />
<rect x="216.30" y="398.80" width="2.00" height="1.90" fill="#c4c4c4" />
<rect x="222.70" y="398.80" width="2.00" height="1.90" fill="#c4c4c4" />
<rect x="229.10" y="398.80" width="2.00" height="1.90" fill="#c4c4c4" />
<rect x="235.50" y="398.80" width="2.00" height="1.90" fill="#c4c4c4" />
<rect x="241.90" y="398.80" width="2.00" height="1.90" fill="#c4c4c4" />
<rect x="248.30" y="398.80" width="2.00" height="1.90" fill="#c4c4c4" />
<rect x="254.70" y="398.80" width="2.00" height="1.90" fill="#c4c4c4" />
<rect x="261.10" y="398.80" width="2.00" height="1.90" fill="#c4c4c4" />
<rect x="267.50" y="398.80" width="2.00" height="1.90" fill="#c4c4c4" />
<rect x="273.90" y="398.80" width="2.00" height="1.90" fill="#c4c4c4" />
<rect x="280.30" y="398.80" width="2.00" height="1.90" fill="#c4c4c4" />
<rect x="286.70" y="398.80" width="2.00" height="1.90" fill="#c4c4c4" />
<rect x="293.10" y="398.80" width="2.00" height="1.90" fill="#c4c4c4" />
<rect x="299.50" y="398.80" width="2.00" height="1.90" fill="#c4c4c4" />
<rect x="305.90" y="398.80" width="2.00" height="1.90" fill="#c4c4c4" />
<rect x="312.30" y="398.80" width="2.00" height="1.90" fill="#c4c4c4" />
<rect x="318.70" y="398.80" width="2.00" height="1.90" fill="#c4c4c4" />
<rect x="325.10" y="398.80" width="2.00" height="1.90" fill="#c4c4c4" />
<rect x="331.50" y="398.80" width="2.00" height="1.90" fill="#c4c4c4" />
<rect x="337.90" y="398.80" width="2.00" height="1.90" fill="#c4c4c4" />
<rect x="344.30" y="398.80" width="2.00" height="1.90" fill="#c4c4c4" />
<rect x="350.70" y="398.80" width="2.00" height="1.90" fill="#c4c4c4" />
<rect x="357.10" y="398.80" width="2.00" height="1.90" fill="#c4c4c4" />
<rect x="363.50" y="398.80" width="2.00" height="1.90" fill="#c4c4c4" />
<rect x="369.90" y="398.80" width="2.00" height="1.90" fill="#c4c4c4" />
<rect x="376.30" y="398.80" width="2.00" height="1.90" fill="#c4c4c4" />
<rect x="382.70" y="398.80" width="2.00" height="1.90" fill="#c4c4c4" />
<rect x="389.10" y="398.80" width="2.00" height="1.90" fill="#c4c4c4" />
<rect x="395.50" y="398.80" width="2.00" height="1.90" fill="#c4c4c4" />
<rect x="401.90" y="398.80" width="2.00" height="1.90" fill="#c4c4c4" />
<rect x="408.30" y="398.80" width="2.00" height="1.90" fill="#c4c4c4" />
<rect x="414.70" y="398.80" width="2.00" height="1.90" fill="#c4c4c4" />
<rect x="421.10" y="398.80" width="2.00" height="1.90" fill="#c4c4c4" />
<rect x="427.50" y="398.80" width="2.00" height="1.90" fill="#c4c4c4" />
<rect x="433.90" y="398.80" width="2.00" height="1.90" fill="#c4c4c4" />
<rect x="440.30" y="398.80" width="2.00" height="1.90" fill="#c4c4c4" />
<rect x="446.70" y="398.80" width="2.00" height="1.90" fill="#c4c4c4" />
<rect x="453.10" y="398.80" width="2.00" height="1.90" fill="#c4c4c4" />
<rect x="459.50" y="398.80" width="2.00" height="1.90" fill="#c4c4c4" />
<rect x="465.90" y="398.80" width="2.00" height="1.90" fill="#c4c4c4" />
<rect x="472.30" y="398.80" width="2.00" height="1.90" fill="#c4c4c4" />
<rect x="478.70" y="398.80" width="2.00" height="1.90" fill="#c4c4c4" />
<rect x="485.10" y="398.80" width="2.00" height="1.90" fill="#c4c4c4" />
<rect x="491.50" y="398.80" width="2.00" height="1.90" fill="#c4c4c4" />
<rect x="497.90" y="398.80" width="2.00" height="1.90" fill="#c4c4c4" />
<rect x="504.30" y="398.80" width="2.00" height="1.90" fill="#c4c4c4" />
<rect x="510.70" y="398.80" width="2.00" height="1.90" fill="#c4c4c4" />
<rect x="517.10" y="398.80" width="2.00" height="1.90" fill="#c4c4c4" />
<rect x="523.50" y="398.80" width="2.00" height="1.90" fill="#c4c4c4" />
<rect x="529.90" y="398.80" width="2.00" height="1.90" fill="#c4c4c4" />
<rect x="536.30" y="398.80" width="2.00" height="1.90" fill="#c4c4c4" />
<rect x="542.70" y="398.80" width="2.00" height="1.90" fill="#c4c4c4" />
<rect x="549.10" y="398.80" width="2.00" height="1.90" fill="#c4c4c4" />
<rect x="555.50" y="398.80" width="2.00" height="1.90" fill="#c4c4c4" />
<rect x="561.90" y="398.80" width="2.00" height="1.90" fill="#c4c4c4" />
<rect x="568.30" y="398.80" width="2.00" height="1.90" fill="#c4c4c4" />
<rect x="574.70" y="398.80" width="2.00" height="1.90" fill="#c4c4c4" />
<rect x="581.10" y="398.80" width="2.00" height="1.90" fill="#c4c4c4" />
<rect x="587.50" y="398.80" width="2.00" height="1.90" fill="#c4c4c4" />
<rect x="593.90" y="398.80" width="2.00" height="1.90" fill="#c4c4c4" />
<rect x="600.30" y="398.80" width="2.00" height="1.90" fill="#c4c4c4" />
<rect x="606.70" y="398.80" width="2.00" height="1.90" fill="#c4c4c4" />
<rect x="613.10" y="398.80" width="2.00" height="1.90" fill="#c4c4c4" />
<rect x="619.50" y="398.80" width="2.00" height="1.90" fill="#c4c4c4" />
<rect x="625.90" y="398.80" width="2.00" height="1.90" fill="#c4c4c4" />
<rect x="632.30" y="398.80" width="2.00" height="1.90" fill="#c4c4c4" />
<rect x="638.70" y="398.80" width="2.00" height="1.90" fill="#c4c4c4" />
<rect x="645.10" y="398.80" width="2.00" height="1.90" fill="#c4c4c4" />
<rect x="651.50" y="398.80" width="2.00" height="1.90" fill="#c4c4c4" />
<rect x="657.90" y="398.80" width="2.00" height="1.90" fill="#c4c4c4" />
<rect x="664.30" y="398.80" width="2.00" height="1.90" fill="#c4c4c4" />
<rect x="670.70" y="398.80" width="2.00" height="1.90" fill="#c4c4c4" />
<rect x="677.10" y="398.80" width="2.00" height="1.90" fill="#c4c4c4" />
<rect x="683.50" y="398.80" width="2.00" height="1.90" fill="#c4c4c4" />
<rect x="689.90" y="398.80" width="2.00" height="1.90" fill="#c4c4c4" />
<rect x="696.30" y="398.80" width="2.00" height="1.90" fill="#c4c4c4" />
<rect x="702.70" y="398.80" width="2.00" height="1.90" fill="#c4c4c4" />
<rect x="709.10" y="398.80" width="2.00" height="1.90" fill="#c4c4c4" />
<rect x="715.50" y="398.80" width="2.00" height="1.90" fill="#c4c4c4" />
<rect x="721.90" y="398.80" width="2.00" height="1.90" fill="#c4c4c4" />
<rect x="728.30" y="398.80" width="2.00" height="1.90" fill="#c4c4c4" />
<rect x="734.70" y="398.80" width="2.00" height="1.90" fill="#c4c4c4" />
<rect x="741.10" y="398.80" width="2.00" height="1.90" fill="#c4c4c4" />
<rect x="747.50" y="398.80" width="2.00" height="1.90" fill="#c4c4c4" />
<rect x="753.90" y="398.80" width="2.00" height="1.90" fill="#c4c4c4" />
<rect x="760.30" y="398.80" width="2.00" height="1.90" fill="#c4c4c4" />
<rect x="766.70" y="398.80" width="2.00" height="1.90" fill="#c4c4c4" />
<rect x="773.10" y="398.80" width="2.00" height="1.90" fill="#c4c4c4" />
<rect x="779.50" y="398.80" width="2.00" height="1.90" fill="#c4c4c4" />
<rect x="785.90" y="398.80" width="2.00" height="1.90" fill="#c4c4c4" />
<rect x="792.30" y="398.80" width="2.00" height="1.90" fill="#c4c4c4" />
<rect x="798.70" y="398.80" width="2.00" height="1.90" fill="#c4c4c4" />
<rect x="805.10" y="398.80" width="2.00" height="1.90" fill="#c4c4c4" />
<rect x="811.50" y="398.80" width="2.00" height="1.90" fill="#c4c4c4" />
<rect x="817.90" y="398.80" width="2.00" height="1.90" fill="#c4c4c4" />
<rect x="824.30" y="398.80" width="2.00" height="1.90" fill="#c4c4c4" />
<rect x="830.70" y="398.80" width="2.00" height="1.90" fill="#c4c4c4" />
<rect x="837.10" y="398.80" width="2.00" height="1.90" fill="#c4c4c4" />
<rect x="843.50" y="398.80" width="2.00" height="1.90" fill="#c4c4c4" />
<rect x="849.90" y="398.80" width="2.00" height="1.90" fill="#c4c4c4" />
<rect x="856.30" y="398.80" width="2.00" height="1.90" fill="#c4c4c4" />
<rect x="862.70" y="398.80" width="2.00" height="1.90" fill="#c4c4c4" />
<rect x="869.10" y="398.80" width="2.00" height="1.90" fill="#c4c4c4" />
<rect x="875.50" y="398.80" width="2.00" height="1.90" fill="#c4c4c4" />
<rect x="881.90" y="398.80" width="2.00" height="1.90" fill="#c4c4c4" />
<rect x="888.30" y="398.80" width="2.00" height="1.90" fill="#c4c4c4" />
<rect x="894.70" y="398.80" width="2.00" height="1.90" fill="#c4c4c4" />
<rect x="901.10" y="398.80" width="2.00" height="1.90" fill="#c4c4c4" />
<rect x="907.50" y="398.80" width="2.00" height="1.90" fill="#c4c4c4" />
<rect x="913.90" y="398.80" width="2.00" height="1.90" fill="#c4c4c4" />
<rect x="920.30" y="398.80" width="2.00" height="1.90" fill="#c4c4c4" />
<rect x="926.70" y="398.80" width="2.00" height="1.90" fill="#c4c4c4" />
<rect x="933.10" y="398.80" width="2.00" height="1.90" fill="#c4c4c4" />
<rect x="939.50" y="398.80" width="2.00" height="1.90" fill="#c4c4c4" />
<rect x="945.90" y="398.80" width="2.00" height="1.90" fill="#c4c4c4" />
<rect x="952.30" y="398.80" width="2.00" height="1.90" fill="#c4c4c4" />
<rect x="958.70" y="398.80" width="2.00" height="1.90" fill="#c4c4c4" />
<rect x="965.10" y="398.80" width="2.00" height="1.90" fill="#c4c4c4" />
<rect x="971.50" y="398.80" width="2.00" height="1.90" fill="#c4c4c4" />
<rect x="977.90" y="398.80" width="2.00" height="1.90" fill="#c4c4c4" />
<rect x="984.30" y="398.80" width="2.00" height="1.90" fill="#c4c4c4" />
<rect x="41.00" y="401.50" width="3.40" height="1.60" fill="#c0c0c0" />
<rect x="46.80" y="401.50" width="2.20" height="1.60" fill="#c0c0c0" />
<rect x="50.40" y="401.50" width="2.80" height="1.60" fill="#c0c0c0" />
<rect x="54.60" y="401.50" width="2.20" height="1.60" fill="#c0c0c0" />
<rect x="59.20" y="401.50" width="2.80" height="1.60" fill="#c0c0c0" />
<rect x="63.40" y="401.50" width="2.80" height="1.60" fill="#c0c0c0" />
<rect x="68.60" y="401.50" width="3.40" height="1.60" fill="#c0c0c0" />
<rect x="74.40" y="401.50" width="2.80" height="1.60" fill="#c0c0c0" />
<rect x="78.60" y="401.50" width="2.80" height="1.60" fill="#c0c0c0" />
<rect x="82.80" y="401.50" width="2.80" height="1.60" fill="#c0c0c0" />
<rect x="87.40" y="401.50" width="3.40" height="1.60" fill="#c0c0c0" />
<rect x="92.20" y="401.50" width="2.20" height="1.60" fill="#c0c0c0" />
<rect x="96.80" y="401.50" width="2.80" height="1.60" fill="#c0c0c0" />
<rect x="101.00" y="401.50" width="2.80" height="1.60" fill="#c0c0c0" />
<rect x="105.60" y="401.50" width="2.20" height="1.60" fill="#c0c0c0" />
<rect x="109.60" y="401.50" width="3.40" height="1.60" fill="#c0c0c0" />
<rect x="115.40" y="401.50" width="2.20" height="1.60" fill="#c0c0c0" />
<rect x="119.40" y="401.50" width="1.60" height="1.60" fill="#c0c0c0" />
<rect x="122.80" y="401.50" width="1.60" height="1.60" fill="#c0c0c0" />
<rect x="126.20" y="401.50" width="1.60" height="1.60" fill="#c0c0c0" />
<rect x="129.60" y="401.50" width="2.20" height="1.60" fill="#c0c0c0" />
<rect x="133.20" y="401.50" width="1.60" height="1.60" fill="#c0c0c0" />
<rect x="136.20" y="401.50" width="2.80" height="1.60" fill="#c0c0c0" />
<rect x="140.40" y="401.50" width="2.20" height="1.60" fill="#c0c0c0" />
<rect x="144.40" y="401.50" width="2.20" height="1.60" fill="#c0c0c0" />
<rect x="148.00" y="401.50" width="1.60" height="1.60" fill="#c0c0c0" />
<rect x="151.40" y="401.50" width="2.20" height="1.60" fill="#c0c0c0" />
<rect x="155.00" y="401.50" width="2.80" height="1.60" fill="#c0c0c0" />
<rect x="159.20" y="401.50" width="3.40" height="1.60" fill="#c0c0c0" />
<rect x="164.00" y="401.50" width="1.60" height="1.60" fill="#c0c0c0" />
<rect x="167.00" y="401.50" width="1.60" height="1.60" fill="#c0c0c0" />
<rect x="170.40" y="401.50" width="2.80" height="1.60" fill="#c0c0c0" />
<rect x="174.60" y="401.50" width="2.80" height="1.60" fill="#c0c0c0" />
<rect x="179.20" y="401.50" width="2.80" height="1.60" fill="#c0c0c0" />
<rect x="183.40" y="401.50" width="1.60" height="1.60" fill="#c0c0c0" />
<rect x="186.80" y="401.50" width="2.80" height="1.60" fill="#c0c0c0" />
<rect x="191.40" y="401.50" width="3.40" height="1.60" fill="#c0c0c0" />
<rect x="196.60" y="401.50" width="1.60" height="1.60" fill="#c0c0c0" />
<rect x="199.60" y="401.50" width="3.40" height="1.60" fill="#c0c0c0" />
<rect x="204.80" y="401.50" width="2.20" height="1.60" fill="#c0c0c0" />
<rect x="209.40" y="401.50" width="2.80" height="1.60" fill="#c0c0c0" />
<rect x="213.60" y="401.50" width="2.80" height="1.60" fill="#c0c0c0" />
<rect x="217.80" y="401.50" width="3.40" height="1.60" fill="#c0c0c0" />
<rect x="222.60" y="401.50" width="3.40" height="1.60" fill="#c0c0c0" />
<rect x="228.40" y="401.50" width="2.80" height="1.60" fill="#c0c0c0" />
<rect x="232.60" y="401.50" width="2.80" height="1.60" fill="#c0c0c0" />
<rect x="237.80" y="401.50" width="2.80" height="1.60" fill="#c0c0c0" />
<rect x="242.40" y="401.50" width="2.80" height="1.60" fill="#c0c0c0" />
<rect x="247.60" y="401.50" width="2.80" height="1.60" fill="#c0c0c0" />
<rect x="251.80" y="401.50" width="2.80" height="1.60" fill="#c0c0c0" />
<rect x="257.00" y="401.50" width="1.60" height="1.60" fill="#c0c0c0" />
<rect x="261.00" y="401.50" width="3.40" height="1.60" fill="#c0c0c0" />
<rect x="266.80" y="401.50" width="2.80" height="1.60" fill="#c0c0c0" />
<rect x="271.00" y="401.50" width="2.80" height="1.60" fill="#c0c0c0" />
<rect x="276.20" y="401.50" width="2.20" height="1.60" fill="#c0c0c0" />
<rect x="280.80" y="401.50" width="2.20" height="1.60" fill="#c0c0c0" />
<rect x="284.40" y="401.50" width="2.80" height="1.60" fill="#c0c0c0" />
<rect x="289.60" y="401.50" width="3.40" height="1.60" fill="#c0c0c0" />
<rect x="294.40" y="401.50" width="1.60" height="1.60" fill="#c0c0c0" />
<rect x="298.40" y="401.50" width="2.20" height="1.60" fill="#c0c0c0" />
<rect x="302.40" y="401.50" width="3.40" height="1.60" fill="#c0c0c0" />
<rect x="308.20" y="401.50" width="2.80" height="1.60" fill="#c0c0c0" />
<rect x="313.40" y="401.50" width="2.20" height="1.60" fill="#c0c0c0" />
<rect x="317.40" y="401.50" width="3.40" height="1.60" fill="#c0c0c0" />
<rect x="322.60" y="401.50" width="2.20" height="1.60" fill="#c0c0c0" />
<rect x="327.20" y="401.50" width="1.60" height="1.60" fill="#c0c0c0" />
<rect x="330.20" y="401.50" width="2.20" height="1.60" fill="#c0c0c0" />
<rect x="334.80" y="401.50" width="3.40" height="1.60" fill="#c0c0c0" />
<rect x="340.00" y="401.50" width="1.60" height="1.60" fill="#c0c0c0" />
<rect x="343.40" y="401.50" width="2.80" height="1.60" fill="#c0c0c0" />
<rect x="348.00" y="401.50" width="1.60" height="1.60" fill="#c0c0c0" />
<rect x="351.00" y="401.50" width="1.60" height="1.60" fill="#c0c0c0" />
<rect x="354.40" y="401.50" width="2.80" height="1.60" fill="#c0c0c0" />
<rect x="358.60" y="401.50" width="2.80" height="1.60" fill="#c0c0c0" />
<rect x="363.20" y="401.50" width="3.40" height="1.60" fill="#c0c0c0" />
<rect x="368.40" y="401.50" width="1.60" height="1.60" fill="#c0c0c0" />
<rect x="371.80" y="401.50" width="3.40" height="1.60" fill="#c0c0c0" />
<rect x="376.60" y="401.50" width="2.20" height="1.60" fill="#c0c0c0" />
<rect x="380.60" y="401.50" width="1.60" height="1.60" fill="#c0c0c0" />
<rect x="384.60" y="401.50" width="1.60" height="1.60" fill="#c0c0c0" />
<rect x="388.60" y="401.50" width="1.60" height="1.60" fill="#c0c0c0" />
<rect x="391.60" y="401.50" width="2.20" height="1.60" fill="#c0c0c0" />
<rect x="396.20" y="401.50" width="3.40" height="1.60" fill="#c0c0c0" />
<rect x="402.00" y="401.50" width="3.40" height="1.60" fill="#c0c0c0" />
<rect x="407.80" y="401.50" width="2.20" height="1.60" fill="#c0c0c0" />
<rect x="412.40" y="401.50" width="2.20" height="1.60" fill="#c0c0c0" />
<rect x="416.40" y="401.50" width="2.20" height="1.60" fill="#c0c0c0" />
<rect x="421.00" y="401.50" width="2.20" height="1.60" fill="#c0c0c0" />
<rect x="425.60" y="401.50" width="2.20" height="1.60" fill="#c0c0c0" />
<rect x="429.20" y="401.50" width="2.80" height="1.60" fill="#c0c0c0" />
<rect x="433.80" y="401.50" width="2.80" height="1.60" fill="#c0c0c0" />
<rect x="438.00" y="401.50" width="3.40" height="1.60" fill="#c0c0c0" />
<rect x="443.20" y="401.50" width="3.40" height="1.60" fill="#c0c0c0" />
<rect x="448.40" y="401.50" width="2.80" height="1.60" fill="#c0c0c0" />
<rect x="453.60" y="401.50" width="3.40" height="1.60" fill="#c0c0c0" />
<rect x="459.40" y="401.50" width="2.80" height="1.60" fill="#c0c0c0" />
<rect x="464.60" y="401.50" width="3.40" height="1.60" fill="#c0c0c0" />
<rect x="469.40" y="401.50" width="2.20" height="1.60" fill="#c0c0c0" />
<rect x="474.00" y="401.50" width="1.60" height="1.60" fill="#c0c0c0" />
<rect x="477.00" y="401.50" width="2.20" height="1.60" fill="#c0c0c0" />
<rect x="481.00" y="401.50" width="2.20" height="1.60" fill="#c0c0c0" />
<rect x="485.60" y="401.50" width="3.40" height="1.60" fill="#c0c0c0" />
<rect x="490.40" y="401.50" width="2.20" height="1.60" fill="#c0c0c0" />
<rect x="495.00" y="401.50" width="2.20" height="1.60" fill="#c0c0c0" />
<rect x="498.60" y="401.50" width="3.40" height="1.60" fill="#c0c0c0" />
<rect x="503.40" y="401.50" width="2.80" height="1.60" fill="#c0c0c0" />
<rect x="508.60" y="401.50" width="2.20" height="1.60" fill="#c0c0c0" />
<rect x="512.20" y="401.50" width="3.40" height="1.60" fill="#c0c0c0" />
<rect x="517.00" y="401.50" width="1.60" height="1.60" fill="#c0c0c0" />
<rect x="520.00" y="401.50" width="2.80" height="1.60" fill="#c0c0c0" />
<rect x="525.20" y="401.50" width="2.20" height="1.60" fill="#c0c0c0" />
<rect x="529.80" y="401.50" width="1.60" height="1.60" fill="#c0c0c0" />
<rect x="533.20" y="401.50" width="1.60" height="1.60" fill="#c0c0c0" />
<rect x="536.60" y="401.50" width="2.80" height="1.60" fill="#c0c0c0" />
<rect x="541.20" y="401.50" width="2.80" height="1.60" fill="#c0c0c0" />
<rect x="546.40" y="401.50" width="2.20" height="1.60" fill="#c0c0c0" />
<rect x="550.00" y="401.50" width="1.60" height="1.60" fill="#c0c0c0" />
<rect x="554.00" y="401.50" width="1.60" height="1.60" fill="#c0c0c0" />
<rect x="558.00" y="401.50" width="2.80" height="1.60" fill="#c0c0c0" />
<rect x="562.20" y="401.50" width="1.60" height="1.60" fill="#c0c0c0" />
<rect x="565.20" y="401.50" width="3.40" height="1.60" fill="#c0c0c0" />
<rect x="571.00" y="401.50" width="2.20" height="1.60" fill="#c0c0c0" />
<rect x="575.00" y="401.50" width="2.80" height="1.60" fill="#c0c0c0" />
<rect x="579.20" y="401.50" width="1.60" height="1.60" fill="#c0c0c0" />
<rect x="582.60" y="401.50" width="1.60" height="1.60" fill="#c0c0c0" />
<rect x="585.60" y="401.50" width="2.20" height="1.60" fill="#c0c0c0" />
<rect x="589.60" y="401.50" width="3.40" height="1.60" fill="#c0c0c0" />
<rect x="594.80" y="401.50" width="1.60" height="1.60" fill="#c0c0c0" />
<rect x="598.80" y="401.50" width="3.40" height="1.60" fill="#c0c0c0" />
<rect x="603.60" y="401.50" width="3.40" height="1.60" fill="#c0c0c0" />
<rect x="608.80" y="401.50" width="1.60" height="1.60" fill="#c0c0c0" />
<rect x="612.20" y="401.50" width="3.40" height="1.60" fill="#c0c0c0" />
<rect x="618.00" y="401.50" width="3.40" height="1.60" fill="#c0c0c0" />
<rect x="623.20" y="401.50" width="2.20" height="1.60" fill="#c0c0c0" />
<rect x="627.20" y="401.50" width="1.60" height="1.60" fill="#c0c0c0" />
<rect x="631.20" y="401.50" width="2.80" height="1.60" fill="#c0c0c0" />
<rect x="635.80" y="401.50" width="2.80" height="1.60" fill="#c0c0c0" />
<rect x="640.40" y="401.50" width="2.80" height="1.60" fill="#c0c0c0" />
<rect x="645.60" y="401.50" width="3.40" height="1.60" fill="#c0c0c0" />
<rect x="650.40" y="401.50" width="1.60" height="1.60" fill="#c0c0c0" />
<rect x="653.40" y="401.50" width="2.80" height="1.60" fill="#c0c0c0" />
<rect x="658.00" y="401.50" width="2.20" height="1.60" fill="#c0c0c0" />
<rect x="662.00" y="401.50" width="2.20" height="1.60" fill="#c0c0c0" />
<rect x="665.60" y="401.50" width="2.20" height="1.60" fill="#c0c0c0" />
<rect x="669.20" y="401.50" width="2.20" height="1.60" fill="#c0c0c0" />
<rect x="673.80" y="401.50" width="3.40" height="1.60" fill="#c0c0c0" />
<rect x="679.60" y="401.50" width="2.20" height="1.60" fill="#c0c0c0" />
<rect x="684.20" y="401.50" width="1.60" height="1.60" fill="#c0c0c0" />
<rect x="687.20" y="401.50" width="1.60" height="1.60" fill="#c0c0c0" />
<rect x="691.20" y="401.50" width="2.20" height="1.60" fill="#c0c0c0" />
<rect x="695.20" y="401.50" width="3.40" height="1.60" fill="#c0c0c0" />
<rect x="700.00" y="401.50" width="1.60" height="1.60" fill="#c0c0c0" />
<rect x="703.00" y="401.50" width="3.40" height="1.60" fill="#c0c0c0" />
<rect x="708.20" y="401.50" width="2.80" height="1.60" fill="#c0c0c0" />
<rect x="712.80" y="401.50" width="1.60" height="1.60" fill="#c0c0c0" />
<rect x="716.80" y="401.50" width="1.60" height="1.60" fill="#c0c0c0" />
<rect x="719.80" y="401.50" width="3.40" height="1.60" fill="#c0c0c0" />
<rect x="724.60" y="401.50" width="3.40" height="1.60" fill="#c0c0c0" />
<rect x="729.80" y="401.50" width="1.60" height="1.60" fill="#c0c0c0" />
<rect x="732.80" y="401.50" width="2.20" height="1.60" fill="#c0c0c0" />
<rect x="736.40" y="401.50" width="3.40" height="1.60" fill="#c0c0c0" />
<rect x="741.60" y="401.50" width="2.20" height="1.60" fill="#c0c0c0" />
<rect x="745.20" y="401.50" width="2.80" height="1.60" fill="#c0c0c0" />
<rect x="750.40" y="401.50" width="1.60" height="1.60" fill="#c0c0c0" />
<rect x="753.80" y="401.50" width="1.60" height="1.60" fill="#c0c0c0" />
<rect x="757.80" y="401.50" width="1.60" height="1.60" fill="#c0c0c0" />
<rect x="761.80" y="401.50" width="2.80" height="1.60" fill="#c0c0c0" />
<rect x="766.40" y="401.50" width="3.40" height="1.60" fill="#c0c0c0" />
<rect x="771.60" y="401.50" width="3.40" height="1.60" fill="#c0c0c0" />
<rect x="776.40" y="401.50" width="2.80" height="1.60" fill="#c0c0c0" />
<rect x="780.60" y="401.50" width="2.80" height="1.60" fill="#c0c0c0" />
<rect x="785.80" y="401.50" width="2.80" height="1.60" fill="#c0c0c0" />
<rect x="790.40" y="401.50" width="1.60" height="1.60" fill="#c0c0c0" />
<rect x="793.40" y="401.50" width="3.40" height="1.60" fill="#c0c0c0" />
<rect x="798.20" y="401.50" width="1.60" height="1.60" fill="#c0c0c0" />
<rect x="801.20" y="401.50" width="1.60" height="1.60" fill="#c0c0c0" />
<rect x="805.20" y="401.50" width="1.60" height="1.60" fill="#c0c0c0" />
<rect x="808.20" y="401.50" width="2.20" height="1.60" fill="#c0c0c0" />
<rect x="812.80" y="401.50" width="1.60" height="1.60" fill="#c0c0c0" />
<rect x="816.20" y="401.50" width="1.60" height="1.60" fill="#c0c0c0" />
<rect x="819.20" y="401.50" width="2.80" height="1.60" fill="#c0c0c0" />
<rect x="823.40" y="401.50" width="3.40" height="1.60" fill="#c0c0c0" />
<rect x="828.60" y="401.50" width="3.40" height="1.60" fill="#c0c0c0" />
<rect x="833.80" y="401.50" width="1.60" height="1.60" fill="#c0c0c0" />
<rect x="837.20" y="401.50" width="2.80" height="1.60" fill="#c0c0c0" />
<rect x="842.40" y="401.50" width="3.40" height="1.60" fill="#c0c0c0" />
<rect x="847.20" y="401.50" width="2.80" height="1.60" fill="#c0c0c0" />
<rect x="851.40" y="401.50" width="3.40" height="1.60" fill="#c0c0c0" />
<rect x="856.20" y="401.50" width="3.40" height="1.60" fill="#c0c0c0" />
<rect x="862.00" y="401.50" width="2.80" height="1.60" fill="#c0c0c0" />
<rect x="867.20" y="401.50" width="3.40" height="1.60" fill="#c0c0c0" />
<rect x="872.00" y="401.50" width="3.40" height="1.60" fill="#c0c0c0" />
<rect x="877.80" y="401.50" width="2.80" height="1.60" fill="#c0c0c0" />
<rect x="882.00" y="401.50" width="2.80" height="1.60" fill="#c0c0c0" />
<rect x="886.60" y="401.50" width="3.40" height="1.60" fill="#c0c0c0" />
<rect x="891.40" y="401.50" width="3.40" height="1.60" fill="#c0c0c0" />
<rect x="897.20" y="401.50" width="3.40" height="1.60" fill="#c0c0c0" />
<rect x="902.40" y="401.50" width="2.80" height="1.60" fill="#c0c0c0" />
<rect x="906.60" y="401.50" width="3.40" height="1.60" fill="#c0c0c0" />
<rect x="911.80" y="401.50" width="1.60" height="1.60" fill="#c0c0c0" />
<rect x="914.80" y="401.50" width="2.20" height="1.60" fill="#c0c0c0" />
<rect x="919.40" y="401.50" width="1.60" height="1.60" fill="#c0c0c0" />
<rect x="922.80" y="401.50" width="1.60" height="1.60" fill="#c0c0c0" />
<rect x="926.80" y="401.50" width="1.60" height="1.60" fill="#c0c0c0" />
<rect x="930.20" y="401.50" width="2.20" height="1.60" fill="#c0c0c0" />
<rect x="934.80" y="401.50" width="1.60" height="1.60" fill="#c0c0c0" />
<rect x="938.80" y="401.50" width="1.60" height="1.60" fill="#c0c0c0" />
<rect x="942.20" y="401.50" width="3.40" height="1.60" fill="#c0c0c0" />
<rect x="948.00" y="401.50" width="2.80" height="1.60" fill="#c0c0c0" />
<rect x="952.60" y="401.50" width="1.60" height="1.60" fill="#c0c0c0" />
<rect x="955.60" y="401.50" width="2.20" height="1.60" fill="#c0c0c0" />
<rect x="959.60" y="401.50" width="1.60" height="1.60" fill="#c0c0c0" />
<rect x="963.00" y="401.50" width="2.80" height="1.60" fill="#c0c0c0" />
<rect x="967.20" y="401.50" width="3.40" height="1.60" fill="#c0c0c0" />
<rect x="972.00" y="401.50" width="2.20" height="1.60" fill="#c0c0c0" />
<rect x="975.60" y="401.50" width="1.60" height="1.60" fill="#c0c0c0" />
<rect x="978.60" y="401.50" width="2.20" height="1.60" fill="#c0c0c0" />
<rect x="983.20" y="401.50" width="1.60" height="1.60" fill="#c0c0c0" />
<rect x="986.20" y="401.50" width="2.20" height="1.60" fill="#c0c0c0" />
<rect x="40.00" y="403.80" width="3.60" height="2.50" fill="#000" />
<rect x="43.60" y="403.80" width="5.00" height="1.20" fill="#cfcfcf" />
<rect x="48.60" y="403.80" width="3.60" height="2.50" fill="#000" />
<rect x="52.20" y="403.80" width="5.00" height="1.20" fill="#cfcfcf" />
<rect x="57.20" y="403.80" width="3.60" height="2.50" fill="#000" />
<rect x="60.80" y="403.80" width="5.00" height="1.20" fill="#cfcfcf" />
<rect x="65.80" y="403.80" width="3.60" height="2.50" fill="#000" />
<rect x="69.40" y="403.80" width="5.00" height="1.20" fill="#cfcfcf" />
<rect x="74.40" y="403.80" width="3.60" height="2.50" fill="#000" />
<rect x="78.00" y="403.80" width="5.00" height="1.20" fill="#cfcfcf" />
<rect x="83.00" y="403.80" width="3.60" height="2.50" fill="#000" />
<rect x="86.60" y="403.80" width="5.00" height="1.20" fill="#cfcfcf" />
<rect x="91.60" y="403.80" width="3.60" height="2.50" fill="#000" />
<rect x="95.20" y="403.80" width="5.00" height="1.20" fill="#cfcfcf" />
<rect x="100.20" y="403.80" width="3.60" height="2.50" fill="#000" />
<rect x="103.80" y="403.80" width="5.00" height="1.20" fill="#cfcfcf" />
<rect x="108.80" y="403.80" width="3.60" height="2.50" fill="#000" />
<rect x="112.40" y="403.80" width="5.00" height="1.20" fill="#cfcfcf" />
<rect x="117.40" y="403.80" width="3.60" height="2.50" fill="#000" />
<rect x="121.00" y="403.80" width="5.00" height="1.20" fill="#cfcfcf" />
<rect x="126.00" y="403.80" width="3.60" height="2.50" fill="#000" />
<rect x="129.60" y="403.80" width="5.00" height="1.20" fill="#cfcfcf" />
<rect x="134.60" y="403.80" width="3.60" height="2.50" fill="#000" />
<rect x="138.20" y="403.80" width="5.00" height="1.20" fill="#cfcfcf" />
<rect x="143.20" y="403.80" width="3.60" height="2.50" fill="#000" />
<rect x="146.80" y="403.80" width="5.00" height="1.20" fill="#cfcfcf" />
<rect x="151.80" y="403.80" width="3.60" height="2.50" fill="#000" />
<rect x="155.40" y="403.80" width="5.00" height="1.20" fill="#cfcfcf" />
<rect x="160.40" y="403.80" width="3.60" height="2.50" fill="#000" />
<rect x="164.00" y="403.80" width="5.00" height="1.20" fill="#cfcfcf" />
<rect x="169.00" y="403.80" width="3.60" height="2.50" fill="#000" />
<rect x="172.60" y="403.80" width="5.00" height="1.20" fill="#cfcfcf" />
<rect x="177.60" y="403.80" width="3.60" height="2.50" fill="#000" />
<rect x="181.20" y="403.80" width="5.00" height="1.20" fill="#cfcfcf" />
<rect x="186.20" y="403.80" width="3.60" height="2.50" fill="#000" />
<rect x="189.80" y="403.80" width="5.00" height="1.20" fill="#cfcfcf" />
<rect x="194.80" y="403.80" width="3.60" height="2.50" fill="#000" />
<rect x="198.40" y="403.80" width="5.00" height="1.20" fill="#cfcfcf" />
<rect x="203.40" y="403.80" width="3.60" height="2.50" fill="#000" />
<rect x="207.00" y="403.80" width="5.00" height="1.20" fill="#cfcfcf" />
<rect x="212.00" y="403.80" width="3.60" height="2.50" fill="#000" />
<rect x="215.60" y="403.80" width="5.00" height="1.20" fill="#cfcfcf" />
<rect x="220.60" y="403.80" width="3.60" height="2.50" fill="#000" />
<rect x="224.20" y="403.80" width="5.00" height="1.20" fill="#cfcfcf" />
<rect x="229.20" y="403.80" width="3.60" height="2.50" fill="#000" />
<rect x="232.80" y="403.80" width="5.00" height="1.20" fill="#cfcfcf" />
<rect x="237.80" y="403.80" width="3.60" height="2.50" fill="#000" />
<rect x="241.40" y="403.80" width="5.00" height="1.20" fill="#cfcfcf" />
<rect x="246.40" y="403.80" width="3.60" height="2.50" fill="#000" />
<rect x="250.00" y="403.80" width="5.00" height="1.20" fill="#cfcfcf" />
<rect x="255.00" y="403.80" width="3.60" height="2.50" fill="#000" />
<rect x="258.60" y="403.80" width="5.00" height="1.20" fill="#cfcfcf" />
<rect x="263.60" y="403.80" width="3.60" height="2.50" fill="#000" />
<rect x="267.20" y="403.80" width="5.00" height="1.20" fill="#cfcfcf" />
<rect x="272.20" y="403.80" width="3.60" height="2.50" fill="#000" />
<rect x="275.80" y="403.80" width="5.00" height="1.20" fill="#cfcfcf" />
<rect x="280.80" y="403.80" width="3.60" height="2.50" fill="#000" />
<rect x="284.40" y="403.80" width="5.00" height="1.20" fill="#cfcfcf" />
<rect x="289.40" y="403.80" width="3.60" height="2.50" fill="#000" />
<rect x="293.00" y="403.80" width="5.00" height="1.20" fill="#cfcfcf" />
<rect x="298.00" y="403.80" width="3.60" height="2.50" fill="#000" />
<rect x="301.60" y="403.80" width="5.00" height="1.20" fill="#cfcfcf" />
<rect x="306.60" y="403.80" width="3.60" height="2.50" fill="#000" />
<rect x="310.20" y="403.80" width="5.00" height="1.20" fill="#cfcfcf" />
<rect x="315.20" y="403.80" width="3.60" height="2.50" fill="#000" />
<rect x="318.80" y="403.80" width="5.00" height="1.20" fill="#cfcfcf" />
<rect x="323.80" y="403.80" width="3.60" height="2.50" fill="#000" />
<rect x="327.40" y="403.80" width="5.00" height="1.20" fill="#cfcfcf" />
<rect x="332.40" y="403.80" width="3.60" height="2.50" fill="#000" />
<rect x="336.00" y="403.80" width="5.00" height="1.20" fill="#cfcfcf" />
<rect x="341.00" y="403.80" width="3.60" height="2.50" fill="#000" />
<rect x="344.60" y="403.80" width="5.00" height="1.20" fill="#cfcfcf" />
<rect x="349.60" y="403.80" width="3.60" height="2.50" fill="#000" />
<rect x="353.20" y="403.80" width="5.00" height="1.20" fill="#cfcfcf" />
<rect x="358.20" y="403.80" width="3.60" height="2.50" fill="#000" />
<rect x="361.80" y="403.80" width="5.00" height="1.20" fill="#cfcfcf" />
<rect x="366.80" y="403.80" width="3.60" height="2.50" fill="#000" />
<rect x="370.40" y="403.80" width="5.00" height="1.20" fill="#cfcfcf" />
<rect x="375.40" y="403.80" width="3.60" height="2.50" fill="#000" />
<rect x="379.00" y="403.80" width="5.00" height="1.20" fill="#cfcfcf" />
<rect x="384.00" y="403.80" width="3.60" height="2.50" fill="#000" />
<rect x="387.60" y="403.80" width="5.00" height="1.20" fill="#cfcfcf" />
<rect x="392.60" y="403.80" width="3.60" height="2.50" fill="#000" />
<rect x="396.20" y="403.80" width="5.00" height="1.20" fill="#cfcfcf" />
<rect x="401.20" y="403.80" width="3.60" height="2.50" fill="#000" />
<rect x="404.80" y="403.80" width="5.00" height="1.20" fill="#cfcfcf" />
<rect x="409.80" y="403.80" width="3.60" height="2.50" fill="#000" />
<rect x="413.40" y="403.80" width="5.00" height="1.20" fill="#cfcfcf" />
<rect x="418.40" y="403.80" width="3.60" height="2.50" fill="#000" />
<rect x="422.00" y="403.80" width="5.00" height="1.20" fill="#cfcfcf" />
<rect x="427.00" y="403.80" width="3.60" height="2.50" fill="#000" />
<rect x="430.60" y="403.80" width="5.00" height="1.20" fill="#cfcfcf" />
<rect x="435.60" y="403.80" width="3.60" height="2.50" fill="#000" />
<rect x="439.20" y="403.80" width="5.00" height="1.20" fill="#cfcfcf" />
<rect x="444.20" y="403.80" width="3.60" height="2.50" fill="#000" />
<rect x="447.80" y="403.80" width="5.00" height="1.20" fill="#cfcfcf" />
<rect x="452.80" y="403.80" width="3.60" height="2.50" fill="#000" />
<rect x="456.40" y="403.80" width="5.00" height="1.20" fill="#cfcfcf" />
<rect x="461.40" y="403.80" width="3.60" height="2.50" fill="#000" />
<rect x="465.00" y="403.80" width="5.00" height="1.20" fill="#cfcfcf" />
<rect x="470.00" y="403.80" width="3.60" height="2.50" fill="#000" />
<rect x="473.60" y="403.80" width="5.00" height="1.20" fill="#cfcfcf" />
<rect x="478.60" y="403.80" width="3.60" height="2.50" fill="#000" />
<rect x="482.20" y="403.80" width="5.00" height="1.20" fill="#cfcfcf" />
<rect x="487.20" y="403.80" width="3.60" height="2.50" fill="#000" />
<rect x="490.80" y="403.80" width="5.00" height="1.20" fill="#cfcfcf" />
<rect x="495.80" y="403.80" width="3.60" height="2.50" fill="#000" />
<rect x="499.40" y="403.80" width="5.00" height="1.20" fill="#cfcfcf" />
<rect x="504.40" y="403.80" width="3.60" height="2.50" fill="#000" />
<rect x="508.00" y="403.80" width="5.00" height="1.20" fill="#cfcfcf" />
<rect x="513.00" y="403.80" width="3.60" height="2.50" fill="#000" />
<rect x="516.60" y="403.80" width="5.00" height="1.20" fill="#cfcfcf" />
<rect x="521.60" y="403.80" width="3.60" height="2.50" fill="#000" />
<rect x="525.20" y="403.80" width="5.00" height="1.20" fill="#cfcfcf" />
<rect x="530.20" y="403.80" width="3.60" height="2.50" fill="#000" />
<rect x="533.80" y="403.80" width="5.00" height="1.20" fill="#cfcfcf" />
<rect x="538.80" y="403.80" width="3.60" height="2.50" fill="#000" />
<rect x="542.40" y="403.80" width="5.00" height="1.20" fill="#cfcfcf" />
<rect x="547.40" y="403.80" width="3.60" height="2.50" fill="#000" />
<rect x="551.00" y="403.80" width="5.00" height="1.20" fill="#cfcfcf" />
<rect x="556.00" y="403.80" width="3.60" height="2.50" fill="#000" />
<rect x="559.60" y="403.80" width="5.00" height="1.20" fill="#cfcfcf" />
<rect x="564.60" y="403.80" width="3.60" height="2.50" fill="#000" />
<rect x="568.20" y="403.80" width="5.00" height="1.20" fill="#cfcfcf" />
<rect x="573.20" y="403.80" width="3.60" height="2.50" fill="#000" />
<rect x="576.80" y="403.80" width="5.00" height="1.20" fill="#cfcfcf" />
<rect x="581.80" y="403.80" width="3.60" height="2.50" fill="#000" />
<rect x="585.40" y="403.80" width="5.00" height="1.20" fill="#cfcfcf" />
<rect x="590.40" y="403.80" width="3.60" height="2.50" fill="#000" />
<rect x="594.00" y="403.80" width="5.00" height="1.20" fill="#cfcfcf" />
<rect x="599.00" y="403.80" width="3.60" height="2.50" fill="#000" />
<rect x="602.60" y="403.80" width="5.00" height="1.20" fill="#cfcfcf" />
<rect x="607.60" y="403.80" width="3.60" height="2.50" fill="#000" />
<rect x="611.20" y="403.80" width="5.00" height="1.20" fill="#cfcfcf" />
<rect x="616.20" y="403.80" width="3.60" height="2.50" fill="#000" />
<rect x="619.80" y="403.80" width="5.00" height="1.20" fill="#cfcfcf" />
<rect x="624.80" y="403.80" width="3.60" height="2.50" fill="#000" />
<rect x="628.40" y="403.80" width="5.00" height="1.20" fill="#cfcfcf" />
<rect x="633.40" y="403.80" width="3.60" height="2.50" fill="#000" />
<rect x="637.00" y="403.80" width="5.00" height="1.20" fill="#cfcfcf" />
<rect x="642.00" y="403.80" width="3.60" height="2.50" fill="#000" />
<rect x="645.60" y="403.80" width="5.00" height="1.20" fill="#cfcfcf" />
<rect x="650.60" y="403.80" width="3.60" height="2.50" fill="#000" />
<rect x="654.20" y="403.80" width="5.00" height="1.20" fill="#cfcfcf" />
<rect x="659.20" y="403.80" width="3.60" height="2.50" fill="#000" />
<rect x="662.80" y="403.80" width="5.00" height="1.20" fill="#cfcfcf" />
<rect x="667.80" y="403.80" width="3.60" height="2.50" fill="#000" />
<rect x="671.40" y="403.80" width="5.00" height="1.20" fill="#cfcfcf" />
<rect x="676.40" y="403.80" width="3.60" height="2.50" fill="#000" />
<rect x="680.00" y="403.80" width="5.00" height="1.20" fill="#cfcfcf" />
<rect x="685.00" y="403.80" width="3.60" height="2.50" fill="#000" />
<rect x="688.60" y="403.80" width="5.00" height="1.20" fill="#cfcfcf" />
<rect x="693.60" y="403.80" width="3.60" height="2.50" fill="#000" />
<rect x="697.20" y="403.80" width="5.00" height="1.20" fill="#cfcfcf" />
<rect x="702.20" y="403.80" width="3.60" height="2.50" fill="#000" />
<rect x="705.80" y="403.80" width="5.00" height="1.20" fill="#cfcfcf" />
<rect x="710.80" y="403.80" width="3.60" height="2.50" fill="#000" />
<rect x="714.40" y="403.80" width="5.00" height="1.20" fill="#cfcfcf" />
<rect x="719.40" y="403.80" width="3.60" height="2.50" fill="#000" />
<rect x="723.00" y="403.80" width="5.00" height="1.20" fill="#cfcfcf" />
<rect x="728.00" y="403.80" width="3.60" height="2.50" fill="#000" />
<rect x="731.60" y="403.80" width="5.00" height="1.20" fill="#cfcfcf" />
<rect x="736.60" y="403.80" width="3.60" height="2.50" fill="#000" />
<rect x="740.20" y="403.80" width="5.00" height="1.20" fill="#cfcfcf" />
<rect x="745.20" y="403.80" width="3.60" height="2.50" fill="#000" />
<rect x="748.80" y="403.80" width="5.00" height="1.20" fill="#cfcfcf" />
<rect x="753.80" y="403.80" width="3.60" height="2.50" fill="#000" />
<rect x="757.40" y="403.80" width="5.00" height="1.20" fill="#cfcfcf" />
<rect x="762.40" y="403.80" width="3.60" height="2.50" fill="#000" />
<rect x="766.00" y="403.80" width="5.00" height="1.20" fill="#cfcfcf" />
<rect x="771.00" y="403.80" width="3.60" height="2.50" fill="#000" />
<rect x="774.60" y="403.80" width="5.00" height="1.20" fill="#cfcfcf" />
<rect x="779.60" y="403.80" width="3.60" height="2.50" fill="#000" />
<rect x="783.20" y="403.80" width="5.00" height="1.20" fill="#cfcfcf" />
<rect x="788.20" y="403.80" width="3.60" height="2.50" fill="#000" />
<rect x="791.80" y="403.80" width="5.00" height="1.20" fill="#cfcfcf" />
<rect x="796.80" y="403.80" width="3.60" height="2.50" fill="#000" />
<rect x="800.40" y="403.80" width="5.00" height="1.20" fill="#cfcfcf" />
<rect x="805.40" y="403.80" width="3.60" height="2.50" fill="#000" />
<rect x="809.00" y="403.80" width="5.00" height="1.20" fill="#cfcfcf" />
<rect x="814.00" y="403.80" width="3.60" height="2.50" fill="#000" />
<rect x="817.60" y="403.80" width="5.00" height="1.20" fill="#cfcfcf" />
<rect x="822.60" y="403.80" width="3.60" height="2.50" fill="#000" />
<rect x="826.20" y="403.80" width="5.00" height="1.20" fill="#cfcfcf" />
<rect x="831.20" y="403.80" width="3.60" height="2.50" fill="#000" />
<rect x="834.80" y="403.80" width="5.00" height="1.20" fill="#cfcfcf" />
<rect x="839.80" y="403.80" width="3.60" height="2.50" fill="#000" />
<rect x="843.40" y="403.80" width="5.00" height="1.20" fill="#cfcfcf" />
<rect x="848.40" y="403.80" width="3.60" height="2.50" fill="#000" />
<rect x="852.00" y="403.80" width="5.00" height="1.20" fill="#cfcfcf" />
<rect x="857.00" y="403.80" width="3.60" height="2.50" fill="#000" />
<rect x="860.60" y="403.80" width="5.00" height="1.20" fill="#cfcfcf" />
<rect x="865.60" y="403.80" width="3.60" height="2.50" fill="#000" />
<rect x="869.20" y="403.80" width="5.00" height="1.20" fill="#cfcfcf" />
<rect x="874.20" y="403.80" width="3.60" height="2.50" fill="#000" />
<rect x="877.80" y="403.80" width="5.00" height="1.20" fill="#cfcfcf" />
<rect x="882.80" y="403.80" width="3.60" height="2.50" fill="#000" />
<rect x="886.40" y="403.80" width="5.00" height="1.20" fill="#cfcfcf" />
<rect x="891.40" y="403.80" width="3.60" height="2.50" fill="#000" />
<rect x="895.00" y="403.80" width="5.00" height="1.20" fill="#cfcfcf" />
<rect x="900.00" y="403.80" width="3.60" height="2.50" fill="#000" />
<rect x="903.60" y="403.80" width="5.00" height="1.20" fill="#cfcfcf" />
<rect x="908.60" y="403.80" width="3.60" height="2.50" fill="#000" />
<rect x="912.20" y="403.80" width="5.00" height="1.20" fill="#cfcfcf" />
<rect x="917.20" y="403.80" width="3.60" height="2.50" fill="#000" />
<rect x="920.80" y="403.80" width="5.00" height="1.20" fill="#cfcfcf" />
<rect x="925.80" y="403.80" width="3.60" height="2.50" fill="#000" />
<rect x="929.40" y="403.80" width="5.00" height="1.20" fill="#cfcfcf" />
<rect x="934.40" y="403.80" width="3.60" height="2.50" fill="#000" />
<rect x="938.00" y="403.80" width="5.00" height="1.20" fill="#cfcfcf" />
<rect x="943.00" y="403.80" width="3.60" height="2.50" fill="#000" />
<rect x="946.60" y="403.80" width="5.00" height="1.20" fill="#cfcfcf" />
<rect x="951.60" y="403.80" width="3.60" height="2.50" fill="#000" />
<rect x="955.20" y="403.80" width="5.00" height="1.20" fill="#cfcfcf" />
<rect x="960.20" y="403.80" width="3.60" height="2.50" fill="#000" />
<rect x="963.80" y="403.80" width="5.00" height="1.20" fill="#cfcfcf" />
<rect x="968.80" y="403.80" width="3.60" height="2.50" fill="#000" />
<rect x="972.40" y="403.80" width="5.00" height="1.20" fill="#cfcfcf" />
<rect x="977.40" y="403.80" width="3.60" height="2.50" fill="#000" />
<rect x="981.00" y="403.80" width="5.00" height="1.20" fill="#cfcfcf" />
<rect x="986.00" y="403.80" width="3.60" height="2.50" fill="#000" />
<rect x="989.60" y="403.80" width="5.00" height="1.20" fill="#cfcfcf" />
<rect x="40.00" y="406.30" width="952.00" height="2.70" fill="#fff" />
<rect x="334.40" y="391.60" width="15.80" height="2.70" fill="#e4e4e4" />
<rect x="656.60" y="391.60" width="34.70" height="2.70" fill="#e4e4e4" />
<rect x="8.00" y="402.00" width="32.00" height="1.10" fill="#000" />
<rect x="8.00" y="403.10" width="32.00" height="1.00" fill="#aaa" />
<rect x="8.00" y="404.10" width="32.00" height="1.10" fill="#000" />
<rect x="992.00" y="402.00" width="27.00" height="1.10" fill="#000" />
<rect x="992.00" y="403.10" width="27.00" height="1.00" fill="#aaa" />
<rect x="992.00" y="404.10" width="27.00" height="1.10" fill="#000" />
<rect x="8.00" y="402.00" width="5.50" height="4.00" fill="#000" />
<rect x="12.00" y="484.00" width="1004.00" height="1.00" fill="#000" />
<rect x="14.00" y="485.00" width="1002.00" height="2.10" fill="#d4d4d4" />
<rect x="16.00" y="485.00" width="1.30" height="2.10" fill="#222" />
<rect x="23.90" y="485.00" width="1.30" height="2.10" fill="#222" />
<rect x="31.80" y="485.00" width="1.30" height="2.10" fill="#222" />
<rect x="39.70" y="485.00" width="1.30" height="2.10" fill="#222" />
<rect x="47.60" y="485.00" width="1.30" height="2.10" fill="#222" />
<rect x="55.50" y="485.00" width="1.30" height="2.10" fill="#222" />
<rect x="63.40" y="485.00" width="1.30" height="2.10" fill="#222" />
<rect x="71.30" y="485.00" width="1.30" height="2.10" fill="#222" />
<rect x="79.20" y="485.00" width="1.30" height="2.10" fill="#222" />
<rect x="87.10" y="485.00" width="1.30" height="2.10" fill="#222" />
<rect x="95.00" y="485.00" width="1.30" height="2.10" fill="#222" />
<rect x="102.90" y="485.00" width="1.30" height="2.10" fill="#222" />
<rect x="110.80" y="485.00" width="1.30" height="2.10" fill="#222" />
<rect x="118.70" y="485.00" width="1.30" height="2.10" fill="#222" />
<rect x="126.60" y="485.00" width="1.30" height="2.10" fill="#222" />
<rect x="134.50" y="485.00" width="1.30" height="2.10" fill="#222" />
<rect x="142.40" y="485.00" width="1.30" height="2.10" fill="#222" />
<rect x="150.30" y="485.00" width="1.30" height="2.10" fill="#222" />
<rect x="158.20" y="485.00" width="1.30" height="2.10" fill="#222" />
<rect x="166.10" y="485.00" width="1.30" height="2.10" fill="#222" />
<rect x="174.00" y="485.00" width="1.30" height="2.10" fill="#222" />
<rect x="181.90" y="485.00" width="1.30" height="2.10" fill="#222" />
<rect x="189.80" y="485.00" width="1.30" height="2.10" fill="#222" />
<rect x="197.70" y="485.00" width="1.30" height="2.10" fill="#222" />
<rect x="205.60" y="485.00" width="1.30" height="2.10" fill="#222" />
<rect x="213.50" y="485.00" width="1.30" height="2.10" fill="#222" />
<rect x="221.40" y="485.00" width="1.30" height="2.10" fill="#222" />
<rect x="229.30" y="485.00" width="1.30" height="2.10" fill="#222" />
<rect x="237.20" y="485.00" width="1.30" height="2.10" fill="#222" />
<rect x="245.10" y="485.00" width="1.30" height="2.10" fill="#222" />
<rect x="253.00" y="485.00" width="1.30" height="2.10" fill="#222" />
<rect x="260.90" y="485.00" width="1.30" height="2.10" fill="#222" />
<rect x="268.80" y="485.00" width="1.30" height="2.10" fill="#222" />
<rect x="276.70" y="485.00" width="1.30" height="2.10" fill="#222" />
<rect x="284.60" y="485.00" width="1.30" height="2.10" fill="#222" />
<rect x="292.50" y="485.00" width="1.30" height="2.10" fill="#222" />
<rect x="300.40" y="485.00" width="1.30" height="2.10" fill="#222" />
<rect x="308.30" y="485.00" width="1.30" height="2.10" fill="#222" />
<rect x="316.20" y="485.00" width="1.30" height="2.10" fill="#222" />
<rect x="324.10" y="485.00" width="1.30" height="2.10" fill="#222" />
<rect x="332.00" y="485.00" width="1.30" height="2.10" fill="#222" />
<rect x="339.90" y="485.00" width="1.30" height="2.10" fill="#222" />
<rect x="347.80" y="485.00" width="1.30" height="2.10" fill="#222" />
<rect x="355.70" y="485.00" width="1.30" height="2.10" fill="#222" />
<rect x="363.60" y="485.00" width="1.30" height="2.10" fill="#222" />
<rect x="371.50" y="485.00" width="1.30" height="2.10" fill="#222" />
<rect x="379.40" y="485.00" width="1.30" height="2.10" fill="#222" />
<rect x="387.30" y="485.00" width="1.30" height="2.10" fill="#222" />
<rect x="395.20" y="485.00" width="1.30" height="2.10" fill="#222" />
<rect x="403.10" y="485.00" width="1.30" height="2.10" fill="#222" />
<rect x="411.00" y="485.00" width="1.30" height="2.10" fill="#222" />
<rect x="418.90" y="485.00" width="1.30" height="2.10" fill="#222" />
<rect x="426.80" y="485.00" width="1.30" height="2.10" fill="#222" />
<rect x="434.70" y="485.00" width="1.30" height="2.10" fill="#222" />
<rect x="442.60" y="485.00" width="1.30" height="2.10" fill="#222" />
<rect x="450.50" y="485.00" width="1.30" height="2.10" fill="#222" />
<rect x="458.40" y="485.00" width="1.30" height="2.10" fill="#222" />
<rect x="466.30" y="485.00" width="1.30" height="2.10" fill="#222" />
<rect x="474.20" y="485.00" width="1.30" height="2.10" fill="#222" />
<rect x="482.10" y="485.00" width="1.30" height="2.10" fill="#222" />
<rect x="490.00" y="485.00" width="1.30" height="2.10" fill="#222" />
<rect x="497.90" y="485.00" width="1.30" height="2.10" fill="#222" />
<rect x="505.80" y="485.00" width="1.30" height="2.10" fill="#222" />
<rect x="513.70" y="485.00" width="1.30" height="2.10" fill="#222" />
<rect x="521.60" y="485.00" width="1.30" height="2.10" fill="#222" />
<rect x="529.50" y="485.00" width="1.30" height="2.10" fill="#222" />
<rect x="537.40" y="485.00" width="1.30" height="2.10" fill="#222" />
<rect x="545.30" y="485.00" width="1.30" height="2.10" fill="#222" />
<rect x="553.20" y="485.00" width="1.30" height="2.10" fill="#222" />
<rect x="561.10" y="485.00" width="1.30" height="2.10" fill="#222" />
<rect x="569.00" y="485.00" width="1.30" height="2.10" fill="#222" />
<rect x="576.90" y="485.00" width="1.30" height="2.10" fill="#222" />
<rect x="584.80" y="485.00" width="1.30" height="2.10" fill="#222" />
<rect x="592.70" y="485.00" width="1.30" height="2.10" fill="#222" />
<rect x="600.60" y="485.00" width="1.30" height="2.10" fill="#222" />
<rect x="608.50" y="485.00" width="1.30" height="2.10" fill="#222" />
<rect x="616.40" y="485.00" width="1.30" height="2.10" fill="#222" />
<rect x="624.30" y="485.00" width="1.30" height="2.10" fill="#222" />
<rect x="632.20" y="485.00" width="1.30" height="2.10" fill="#222" />
<rect x="640.10" y="485.00" width="1.30" height="2.10" fill="#222" />
<rect x="648.00" y="485.00" width="1.30" height="2.10" fill="#222" />
<rect x="655.90" y="485.00" width="1.30" height="2.10" fill="#222" />
<rect x="663.80" y="485.00" width="1.30" height="2.10" fill="#222" />
<rect x="671.70" y="485.00" width="1.30" height="2.10" fill="#222" />
<rect x="679.60" y="485.00" width="1.30" height="2.10" fill="#222" />
<rect x="687.50" y="485.00" width="1.30" height="2.10" fill="#222" />
<rect x="695.40" y="485.00" width="1.30" height="2.10" fill="#222" />
<rect x="703.30" y="485.00" width="1.30" height="2.10" fill="#222" />
<rect x="711.20" y="485.00" width="1.30" height="2.10" fill="#222" />
<rect x="719.10" y="485.00" width="1.30" height="2.10" fill="#222" />
<rect x="727.00" y="485.00" width="1.30" height="2.10" fill="#222" />
<rect x="734.90" y="485.00" width="1.30" height="2.10" fill="#222" />
<rect x="742.80" y="485.00" width="1.30" height="2.10" fill="#222" />
<rect x="750.70" y="485.00" width="1.30" height="2.10" fill="#222" />
<rect x="758.60" y="485.00" width="1.30" height="2.10" fill="#222" />
<rect x="766.50" y="485.00" width="1.30" height="2.10" fill="#222" />
<rect x="774.40" y="485.00" width="1.30" height="2.10" fill="#222" />
<rect x="782.30" y="485.00" width="1.30" height="2.10" fill="#222" />
<rect x="790.20" y="485.00" width="1.30" height="2.10" fill="#222" />
<rect x="798.10" y="485.00" width="1.30" height="2.10" fill="#222" />
<rect x="806.00" y="485.00" width="1.30" height="2.10" fill="#222" />
<rect x="813.90" y="485.00" width="1.30" height="2.10" fill="#222" />
<rect x="821.80" y="485.00" width="1.30" height="2.10" fill="#222" />
<rect x="829.70" y="485.00" width="1.30" height="2.10" fill="#222" />
<rect x="837.60" y="485.00" width="1.30" height="2.10" fill="#222" />
<rect x="845.50" y="485.00" width="1.30" height="2.10" fill="#222" />
<rect x="853.40" y="485.00" width="1.30" height="2.10" fill="#222" />
<rect x="861.30" y="485.00" width="1.30" height="2.10" fill="#222" />
<rect x="869.20" y="485.00" width="1.30" height="2.10" fill="#222" />
<rect x="877.10" y="485.00" width="1.30" height="2.10" fill="#222" />
<rect x="885.00" y="485.00" width="1.30" height="2.10" fill="#222" />
<rect x="892.90" y="485.00" width="1.30" height="2.10" fill="#222" />
<rect x="900.80" y="485.00" width="1.30" height="2.10" fill="#222" />
<rect x="908.70" y="485.00" width="1.30" height="2.10" fill="#222" />
<rect x="916.60" y="485.00" width="1.30" height="2.10" fill="#222" />
<rect x="924.50" y="485.00" width="1.30" height="2.10" fill="#222" />
<rect x="932.40" y="485.00" width="1.30" height="2.10" fill="#222" />
<rect x="940.30" y="485.00" width="1.30" height="2.10" fill="#222" />
<rect x="948.20" y="485.00" width="1.30" height="2.10" fill="#222" />
<rect x="956.10" y="485.00" width="1.30" height="2.10" fill="#222" />
<rect x="964.00" y="485.00" width="1.30" height="2.10" fill="#222" />
<rect x="971.90" y="485.00" width="1.30" height="2.10" fill="#222" />
<rect x="979.80" y="485.00" width="1.30" height="2.10" fill="#222" />
<rect x="987.70" y="485.00" width="1.30" height="2.10" fill="#222" />
<rect x="995.60" y="485.00" width="1.30" height="2.10" fill="#222" />
<rect x="1003.50" y="485.00" width="1.30" height="2.10" fill="#222" />
<rect x="1011.40" y="485.00" width="1.30" height="2.10" fill="#222" />
<rect x="14.00" y="487.10" width="1002.00" height="0.90" fill="#000" />
<path d="M13,415.9 L13,413.9 L16.3,413.9 L19.2,409.4 L21.6,409.4 L22.6,415.9 Z" fill="#000"/>
<path d="M23.2,415.9 L23.2,411.6 L25.8,413.6 L29.2,410.6 L32.4,409.3 L33.9,409.3 L33.9,415.9 Z" fill="#000"/>
<rect x="35.20" y="410.80" width="1.30" height="4.80" fill="#444" />
<circle cx="38.90" cy="414.40" r="1.15" fill="#000" stroke="#000" stroke-width="0.2"/>
<text x="16.2" y="424.0" font-family="Liberation Sans" font-weight="bold" font-size="8.6" fill="#000" stroke="#000" stroke-width="0.7" textLength="21" lengthAdjust="spacingAndGlyphs">cisco</text>
<circle cx="40.30" cy="439.70" r="3.7" fill="#fff" stroke="#000" stroke-width="1.3"/>
<circle cx="40.30" cy="449.90" r="3.7" fill="#fff" stroke="#000" stroke-width="1.3"/>
<circle cx="40.30" cy="460.20" r="3.7" fill="#fff" stroke="#000" stroke-width="1.3"/>
<rect x="17.60" y="440.30" width="15.40" height="2.50" fill="#000" />
<rect x="26.40" y="449.10" width="6.60" height="2.40" fill="#000" />
<rect x="26.40" y="458.20" width="6.60" height="2.40" fill="#000" />
<path d="M51.2,434 L55.5,434 L55.5,432.3 L63.5,432.3 L63.5,434 L68.1,434 L68.1,468.2 L51.2,468.2 Z" fill="#000"/>
<path d="M61.8,438 L60,440 L62,445 L60,450 L62,455 L60,460 L62,464" stroke="#fff" stroke-width="0.9" fill="none"/>
<rect x="53.00" y="436.00" width="1.40" height="1.40" fill="#fff" />
<rect x="53.00" y="464.50" width="1.40" height="1.40" fill="#fff" />
<text x="15.2" y="481" font-family="Liberation Sans" font-weight="bold" font-size="8.8" fill="#000" stroke="#000" stroke-width="0.55" textLength="52" lengthAdjust="spacingAndGlyphs">DC-C9300T43</text>
<rect x="74.30" y="409.60" width="3.70" height="19.80" fill="#000" />
<rect x="74.30" y="447.70" width="3.70" height="20.50" fill="#000" />
<circle cx="48.30" cy="410.40" r="3.4" fill="#fff" stroke="#000" stroke-width="1.2"/>
<circle cx="56.90" cy="410.40" r="3.4" fill="#fff" stroke="#000" stroke-width="1.2"/>
<circle cx="65.50" cy="410.40" r="3.4" fill="#fff" stroke="#000" stroke-width="1.2"/>
<circle cx="44.00" cy="417.80" r="3.4" fill="#fff" stroke="#000" stroke-width="1.2"/>
<circle cx="52.60" cy="417.80" r="3.4" fill="#fff" stroke="#000" stroke-width="1.2"/>
<circle cx="61.20" cy="417.80" r="3.4" fill="#fff" stroke="#000" stroke-width="1.2"/>
<circle cx="69.80" cy="417.80" r="3.4" fill="#fff" stroke="#000" stroke-width="1.2"/>
<rect x="51.60" y="407.20" width="2.00" height="7.00" fill="#000" />
<rect x="60.40" y="407.20" width="1.60" height="7.00" fill="#888" />
<rect x="47.30" y="414.50" width="2.00" height="7.00" fill="#000" />
<rect x="64.50" y="414.50" width="2.00" height="7.00" fill="#000" />
<path d="M44.0,406.3 Q48.3,403.9 52.6,406.3" fill="none" stroke="#000" stroke-width="1.2"/>
<path d="M52.6,406.3 Q56.9,403.9 61.2,406.3" fill="none" stroke="#000" stroke-width="1.2"/>
<path d="M61.2,406.3 Q65.5,403.9 69.8,406.3" fill="none" stroke="#000" stroke-width="1.2"/>
<rect x="42.60" y="404.80" width="28.40" height="1.40" fill="#000" />
<rect x="79.40" y="405.00" width="41.80" height="65.30" fill="#000" />
<rect x="82.10" y="407.70" width="36.90" height="60.40" fill="#fff" />
<path d="M85.2,412.1 L91.5,412.1 L93.3,409.2 L107.3,409.2 L109.1,412.1 L115.9,412.1 L115.9,429.5 L85.2,429.5 Z" fill="#fff" stroke="#000" stroke-width="1.5"/>
<rect x="88.40" y="427.00" width="24.60" height="3.20" fill="#000" />
<path d="M85.2,447 L115.9,447 L115.9,466.5 L109.1,466.5 L107.3,463.6 L93.3,463.6 L91.5,466.5 L85.2,466.5 Z" fill="#fff" stroke="#000" stroke-width="1.5"/>
<rect x="85.00" y="446.00" width="31.00" height="2.40" fill="#000" />
<rect x="85.00" y="462.60" width="8.00" height="4.70" fill="#000" />
<rect x="86.50" y="463.80" width="5.00" height="2.00" fill="#fff" />
<rect x="108.00" y="462.60" width="8.00" height="4.70" fill="#000" />
<rect x="109.50" y="463.80" width="5.00" height="2.00" fill="#fff" />
<path d="M123,447 L127,444.6 L161,444.6 L164,447.5 L164,467.5 L161,470.6 L127,470.6 L123,468 Z" fill="#000"/>
<path d="M130.7,448.3 L160.7,448.3 L160.7,468 L152,468 L151,466 L141,466 L140,468 L130.7,468 Z" fill="#fff"/>
<circle cx="138.80" cy="440.20" r="3.6" fill="#fff" stroke="#000" stroke-width="1.2"/>
<rect x="138.10" y="443.50" width="1.40" height="1.50" fill="#000" />
<circle cx="152.30" cy="440.20" r="3.6" fill="#fff" stroke="#000" stroke-width="1.2"/>
<rect x="151.60" y="443.50" width="1.40" height="1.50" fill="#000" />
<circle cx="134.90" cy="410.30" r="3.8" fill="#fff" stroke="#000" stroke-width="1.2"/>
<circle cx="134.90" cy="425.80" r="3.8" fill="#fff" stroke="#000" stroke-width="1.2"/>
<circle cx="144.00" cy="410.30" r="3.8" fill="#fff" stroke="#000" stroke-width="1.2"/>
<circle cx="144.00" cy="425.80" r="3.8" fill="#fff" stroke="#000" stroke-width="1.2"/>
<circle cx="152.50" cy="410.30" r="3.8" fill="#fff" stroke="#000" stroke-width="1.2"/>
<circle cx="152.50" cy="425.80" r="3.8" fill="#fff" stroke="#000" stroke-width="1.2"/>
<circle cx="161.60" cy="410.30" r="3.8" fill="#fff" stroke="#000" stroke-width="1.2"/>
<circle cx="161.60" cy="425.80" r="3.8" fill="#fff" stroke="#000" stroke-width="1.2"/>
<circle cx="130.80" cy="417.90" r="3.8" fill="#fff" stroke="#000" stroke-width="1.2"/>
<circle cx="139.60" cy="417.90" r="3.8" fill="#fff" stroke="#000" stroke-width="1.2"/>
<circle cx="148.10" cy="417.90" r="3.8" fill="#fff" stroke="#000" stroke-width="1.2"/>
<circle cx="157.20" cy="417.90" r="3.8" fill="#fff" stroke="#000" stroke-width="1.2"/>
<circle cx="166.00" cy="417.90" r="3.8" fill="#fff" stroke="#000" stroke-width="1.2"/>
<rect x="125.00" y="404.80" width="46.00" height="1.40" fill="#000" />
<rect x="147.40" y="407.50" width="2.00" height="6.50" fill="#000" />
<rect x="143.00" y="414.50" width="2.00" height="6.50" fill="#000" />
<rect x="151.30" y="414.50" width="2.00" height="6.50" fill="#000" />
<rect x="160.50" y="414.50" width="2.00" height="6.50" fill="#000" />
<rect x="147.40" y="422.00" width="2.00" height="6.50" fill="#000" />
<rect x="138.80" y="407.50" width="1.60" height="6.50" fill="#888" />
<rect x="156.40" y="407.50" width="1.60" height="6.50" fill="#888" />
<rect x="138.80" y="422.00" width="1.60" height="6.50" fill="#888" />
<rect x="156.40" y="422.00" width="1.60" height="6.50" fill="#888" />
<path d="M130.4,406.2 Q134.9,403.8 139.4,406.2" fill="none" stroke="#000" stroke-width="1.2"/>
<path d="M139.5,406.2 Q144.0,403.8 148.5,406.2" fill="none" stroke="#000" stroke-width="1.2"/>
<path d="M148.0,406.2 Q152.5,403.8 157.0,406.2" fill="none" stroke="#000" stroke-width="1.2"/>
<path d="M157.1,406.2 Q161.6,403.8 166.1,406.2" fill="none" stroke="#000" stroke-width="1.2"/>
<rect x="84.10" y="472.20" width="8.10" height="2.70" fill="#000" />
<rect x="109.40" y="472.20" width="7.00" height="2.70" fill="#000" />
<rect x="132.60" y="471.70" width="8.00" height="2.90" fill="#000" />
<rect x="151.60" y="471.70" width="7.30" height="2.90" fill="#000" />
<rect x="173.00" y="409.30" width="264.20" height="59.00" fill="#000" />
<rect x="175.60" y="411.90" width="30.10" height="54.10" fill="#fff" />
<rect x="177.10" y="420.40" width="27.20" height="10.80" fill="#000" />
<rect x="175.60" y="431.20" width="30.10" height="2.40" fill="#000" />
<rect x="175.60" y="444.10" width="30.10" height="2.30" fill="#000" />
<rect x="177.10" y="446.40" width="27.20" height="11.60" fill="#000" />
<path d="M180.20,428.6 L180.20,424.8 L201.10,424.8 L201.10,428.6" stroke="#c8c8c8" stroke-width="0.9" fill="none"/>
<rect x="179.20" y="429.60" width="1.60" height="1.20" fill="#bbb" />
<rect x="200.50" y="429.60" width="1.60" height="1.20" fill="#bbb" />
<rect x="180.20" y="452.90" width="20.90" height="1.00" fill="#d0d0d0" />
<rect x="178.90" y="447.50" width="2.00" height="1.90" fill="#fff" />
<rect x="200.40" y="447.50" width="2.00" height="1.90" fill="#fff" />
<path d="M178.70,442.3 L182.10,436.2 L185.50,442.3 Z" fill="#fff" stroke="#000" stroke-width="1.3"/>
<rect x="189.20" y="437.90" width="2.20" height="2.40" fill="#000" />
<path d="M195.60,436.2 L203.40,436.2 L199.50,442.6 Z" fill="#fff" stroke="#000" stroke-width="1.3"/>
<text x="190.65" y="475.2" text-anchor="middle" font-family="Liberation Sans" font-weight="bold" font-size="6.2" fill="#000" stroke="#000" stroke-width="0.45" textLength="15.5" lengthAdjust="spacingAndGlyphs">1/13</text>
<path d="M181.05,472.8 L183.05,470.8 L183.05,474.8 Z M200.25,472.8 L198.25,470.8 L198.25,474.8 Z" fill="#000"/>
<rect x="208.30" y="411.90" width="30.10" height="54.10" fill="#fff" />
<rect x="209.80" y="420.40" width="27.20" height="10.80" fill="#000" />
<rect x="208.30" y="431.20" width="30.10" height="2.40" fill="#000" />
<rect x="208.30" y="444.10" width="30.10" height="2.30" fill="#000" />
<rect x="209.80" y="446.40" width="27.20" height="11.60" fill="#000" />
<path d="M212.90,428.6 L212.90,424.8 L233.80,424.8 L233.80,428.6" stroke="#c8c8c8" stroke-width="0.9" fill="none"/>
<rect x="211.90" y="429.60" width="1.60" height="1.20" fill="#bbb" />
<rect x="233.20" y="429.60" width="1.60" height="1.20" fill="#bbb" />
<rect x="212.90" y="452.90" width="20.90" height="1.00" fill="#d0d0d0" />
<rect x="211.60" y="447.50" width="2.00" height="1.90" fill="#fff" />
<rect x="233.10" y="447.50" width="2.00" height="1.90" fill="#fff" />
<path d="M211.40,442.3 L214.80,436.2 L218.20,442.3 Z" fill="#fff" stroke="#000" stroke-width="1.3"/>
<rect x="221.90" y="437.90" width="2.20" height="2.40" fill="#000" />
<path d="M228.30,436.2 L236.10,436.2 L232.20,442.6 Z" fill="#fff" stroke="#000" stroke-width="1.3"/>
<text x="223.35" y="475.2" text-anchor="middle" font-family="Liberation Sans" font-weight="bold" font-size="6.2" fill="#000" stroke="#000" stroke-width="0.45" textLength="15.5" lengthAdjust="spacingAndGlyphs">2/14</text>
<path d="M213.75,472.8 L215.75,470.8 L215.75,474.8 Z M232.95,472.8 L230.95,470.8 L230.95,474.8 Z" fill="#000"/>
<rect x="241.00" y="411.90" width="30.10" height="54.10" fill="#fff" />
<rect x="242.50" y="420.40" width="27.20" height="10.80" fill="#000" />
<rect x="241.00" y="431.20" width="30.10" height="2.40" fill="#000" />
<rect x="241.00" y="444.10" width="30.10" height="2.30" fill="#000" />
<rect x="242.50" y="446.40" width="27.20" height="11.60" fill="#000" />
<path d="M245.60,428.6 L245.60,424.8 L266.50,424.8 L266.50,428.6" stroke="#c8c8c8" stroke-width="0.9" fill="none"/>
<rect x="244.60" y="429.60" width="1.60" height="1.20" fill="#bbb" />
<rect x="265.90" y="429.60" width="1.60" height="1.20" fill="#bbb" />
<rect x="245.60" y="452.90" width="20.90" height="1.00" fill="#d0d0d0" />
<rect x="244.30" y="447.50" width="2.00" height="1.90" fill="#fff" />
<rect x="265.80" y="447.50" width="2.00" height="1.90" fill="#fff" />
<path d="M244.10,442.3 L247.50,436.2 L250.90,442.3 Z" fill="#fff" stroke="#000" stroke-width="1.3"/>
<rect x="254.60" y="437.90" width="2.20" height="2.40" fill="#000" />
<path d="M261.00,436.2 L268.80,436.2 L264.90,442.6 Z" fill="#fff" stroke="#000" stroke-width="1.3"/>
<text x="256.05" y="475.2" text-anchor="middle" font-family="Liberation Sans" font-weight="bold" font-size="6.2" fill="#000" stroke="#000" stroke-width="0.45" textLength="15.5" lengthAdjust="spacingAndGlyphs">3/15</text>
<path d="M246.45,472.8 L248.45,470.8 L248.45,474.8 Z M265.65,472.8 L263.65,470.8 L263.65,474.8 Z" fill="#000"/>
<rect x="273.70" y="411.90" width="30.10" height="54.10" fill="#fff" />
<rect x="275.20" y="420.40" width="27.20" height="10.80" fill="#000" />
<rect x="273.70" y="431.20" width="30.10" height="2.40" fill="#000" />
<rect x="273.70" y="444.10" width="30.10" height="2.30" fill="#000" />
<rect x="275.20" y="446.40" width="27.20" height="11.60" fill="#000" />
<path d="M278.30,428.6 L278.30,424.8 L299.20,424.8 L299.20,428.6" stroke="#c8c8c8" stroke-width="0.9" fill="none"/>
<rect x="277.30" y="429.60" width="1.60" height="1.20" fill="#bbb" />
<rect x="298.60" y="429.60" width="1.60" height="1.20" fill="#bbb" />
<rect x="278.30" y="452.90" width="20.90" height="1.00" fill="#d0d0d0" />
<rect x="277.00" y="447.50" width="2.00" height="1.90" fill="#fff" />
<rect x="298.50" y="447.50" width="2.00" height="1.90" fill="#fff" />
<path d="M276.80,442.3 L280.20,436.2 L283.60,442.3 Z" fill="#fff" stroke="#000" stroke-width="1.3"/>
<rect x="287.30" y="437.90" width="2.20" height="2.40" fill="#000" />
<path d="M293.70,436.2 L301.50,436.2 L297.60,442.6 Z" fill="#fff" stroke="#000" stroke-width="1.3"/>
<text x="288.75" y="475.2" text-anchor="middle" font-family="Liberation Sans" font-weight="bold" font-size="6.2" fill="#000" stroke="#000" stroke-width="0.45" textLength="15.5" lengthAdjust="spacingAndGlyphs">4/16</text>
<path d="M279.15,472.8 L281.15,470.8 L281.15,474.8 Z M298.35,472.8 L296.35,470.8 L296.35,474.8 Z" fill="#000"/>
<rect x="306.40" y="411.90" width="30.10" height="54.10" fill="#fff" />
<rect x="307.90" y="420.40" width="27.20" height="10.80" fill="#000" />
<rect x="306.40" y="431.20" width="30.10" height="2.40" fill="#000" />
<rect x="306.40" y="444.10" width="30.10" height="2.30" fill="#000" />
<rect x="307.90" y="446.40" width="27.20" height="11.60" fill="#000" />
<path d="M311.00,428.6 L311.00,424.8 L331.90,424.8 L331.90,428.6" stroke="#c8c8c8" stroke-width="0.9" fill="none"/>
<rect x="310.00" y="429.60" width="1.60" height="1.20" fill="#bbb" />
<rect x="331.30" y="429.60" width="1.60" height="1.20" fill="#bbb" />
<rect x="311.00" y="452.90" width="20.90" height="1.00" fill="#d0d0d0" />
<rect x="309.70" y="447.50" width="2.00" height="1.90" fill="#fff" />
<rect x="331.20" y="447.50" width="2.00" height="1.90" fill="#fff" />
<path d="M309.50,442.3 L312.90,436.2 L316.30,442.3 Z" fill="#fff" stroke="#000" stroke-width="1.3"/>
<rect x="320.00" y="437.90" width="2.20" height="2.40" fill="#000" />
<path d="M326.40,436.2 L334.20,436.2 L330.30,442.6 Z" fill="#fff" stroke="#000" stroke-width="1.3"/>
<text x="321.45" y="475.2" text-anchor="middle" font-family="Liberation Sans" font-weight="bold" font-size="6.2" fill="#000" stroke="#000" stroke-width="0.45" textLength="15.5" lengthAdjust="spacingAndGlyphs">5/17</text>
<path d="M311.85,472.8 L313.85,470.8 L313.85,474.8 Z M331.05,472.8 L329.05,470.8 L329.05,474.8 Z" fill="#000"/>
<rect x="339.10" y="411.90" width="30.10" height="54.10" fill="#fff" />
<rect x="340.60" y="420.40" width="27.20" height="10.80" fill="#000" />
<rect x="339.10" y="431.20" width="30.10" height="2.40" fill="#000" />
<rect x="339.10" y="444.10" width="30.10" height="2.30" fill="#000" />
<rect x="340.60" y="446.40" width="27.20" height="11.60" fill="#000" />
<path d="M343.70,428.6 L343.70,424.8 L364.60,424.8 L364.60,428.6" stroke="#c8c8c8" stroke-width="0.9" fill="none"/>
<rect x="342.70" y="429.60" width="1.60" height="1.20" fill="#bbb" />
<rect x="364.00" y="429.60" width="1.60" height="1.20" fill="#bbb" />
<rect x="343.70" y="452.90" width="20.90" height="1.00" fill="#d0d0d0" />
<rect x="342.40" y="447.50" width="2.00" height="1.90" fill="#fff" />
<rect x="363.90" y="447.50" width="2.00" height="1.90" fill="#fff" />
<path d="M342.20,442.3 L345.60,436.2 L349.00,442.3 Z" fill="#fff" stroke="#000" stroke-width="1.3"/>
<rect x="352.70" y="437.90" width="2.20" height="2.40" fill="#000" />
<path d="M359.10,436.2 L366.90,436.2 L363.00,442.6 Z" fill="#fff" stroke="#000" stroke-width="1.3"/>
<text x="354.15" y="475.2" text-anchor="middle" font-family="Liberation Sans" font-weight="bold" font-size="6.2" fill="#000" stroke="#000" stroke-width="0.45" textLength="15.5" lengthAdjust="spacingAndGlyphs">6/18</text>
<path d="M344.55,472.8 L346.55,470.8 L346.55,474.8 Z M363.75,472.8 L361.75,470.8 L361.75,474.8 Z" fill="#000"/>
<rect x="371.80" y="411.90" width="30.10" height="54.10" fill="#fff" />
<rect x="373.30" y="420.40" width="27.20" height="10.80" fill="#000" />
<rect x="371.80" y="431.20" width="30.10" height="2.40" fill="#000" />
<rect x="371.80" y="444.10" width="30.10" height="2.30" fill="#000" />
<rect x="373.30" y="446.40" width="27.20" height="11.60" fill="#000" />
<path d="M376.40,428.6 L376.40,424.8 L397.30,424.8 L397.30,428.6" stroke="#c8c8c8" stroke-width="0.9" fill="none"/>
<rect x="375.40" y="429.60" width="1.60" height="1.20" fill="#bbb" />
<rect x="396.70" y="429.60" width="1.60" height="1.20" fill="#bbb" />
<rect x="376.40" y="452.90" width="20.90" height="1.00" fill="#d0d0d0" />
<rect x="375.10" y="447.50" width="2.00" height="1.90" fill="#fff" />
<rect x="396.60" y="447.50" width="2.00" height="1.90" fill="#fff" />
<path d="M374.90,442.3 L378.30,436.2 L381.70,442.3 Z" fill="#fff" stroke="#000" stroke-width="1.3"/>
<rect x="385.40" y="437.90" width="2.20" height="2.40" fill="#000" />
<path d="M391.80,436.2 L399.60,436.2 L395.70,442.6 Z" fill="#fff" stroke="#000" stroke-width="1.3"/>
<text x="386.85" y="475.2" text-anchor="middle" font-family="Liberation Sans" font-weight="bold" font-size="6.2" fill="#000" stroke="#000" stroke-width="0.45" textLength="15.5" lengthAdjust="spacingAndGlyphs">7/19</text>
<path d="M377.25,472.8 L379.25,470.8 L379.25,474.8 Z M396.45,472.8 L394.45,470.8 L394.45,474.8 Z" fill="#000"/>
<rect x="404.50" y="411.90" width="30.10" height="54.10" fill="#fff" />
<rect x="406.00" y="420.40" width="27.20" height="10.80" fill="#000" />
<rect x="404.50" y="431.20" width="30.10" height="2.40" fill="#000" />
<rect x="404.50" y="444.10" width="30.10" height="2.30" fill="#000" />
<rect x="406.00" y="446.40" width="27.20" height="11.60" fill="#000" />
<path d="M409.10,428.6 L409.10,424.8 L430.00,424.8 L430.00,428.6" stroke="#c8c8c8" stroke-width="0.9" fill="none"/>
<rect x="408.10" y="429.60" width="1.60" height="1.20" fill="#bbb" />
<rect x="429.40" y="429.60" width="1.60" height="1.20" fill="#bbb" />
<rect x="409.10" y="452.90" width="20.90" height="1.00" fill="#d0d0d0" />
<rect x="407.80" y="447.50" width="2.00" height="1.90" fill="#fff" />
<rect x="429.30" y="447.50" width="2.00" height="1.90" fill="#fff" />
<path d="M407.60,442.3 L411.00,436.2 L414.40,442.3 Z" fill="#fff" stroke="#000" stroke-width="1.3"/>
<rect x="418.10" y="437.90" width="2.20" height="2.40" fill="#000" />
<path d="M424.50,436.2 L432.30,436.2 L428.40,442.6 Z" fill="#fff" stroke="#000" stroke-width="1.3"/>
<text x="419.55" y="475.2" text-anchor="middle" font-family="Liberation Sans" font-weight="bold" font-size="6.2" fill="#000" stroke="#000" stroke-width="0.45" textLength="15.5" lengthAdjust="spacingAndGlyphs">8/20</text>
<path d="M409.95,472.8 L411.95,470.8 L411.95,474.8 Z M429.15,472.8 L427.15,470.8 L427.15,474.8 Z" fill="#000"/>
<rect x="450.60" y="409.30" width="264.20" height="59.00" fill="#000" />
<rect x="453.20" y="411.90" width="30.10" height="54.10" fill="#fff" />
<rect x="454.70" y="420.40" width="27.20" height="10.80" fill="#000" />
<rect x="453.20" y="431.20" width="30.10" height="2.40" fill="#000" />
<rect x="453.20" y="444.10" width="30.10" height="2.30" fill="#000" />
<rect x="454.70" y="446.40" width="27.20" height="11.60" fill="#000" />
<path d="M457.80,428.6 L457.80,424.8 L478.70,424.8 L478.70,428.6" stroke="#c8c8c8" stroke-width="0.9" fill="none"/>
<rect x="456.80" y="429.60" width="1.60" height="1.20" fill="#bbb" />
<rect x="478.10" y="429.60" width="1.60" height="1.20" fill="#bbb" />
<rect x="457.80" y="452.90" width="20.90" height="1.00" fill="#d0d0d0" />
<rect x="456.50" y="447.50" width="2.00" height="1.90" fill="#fff" />
<rect x="478.00" y="447.50" width="2.00" height="1.90" fill="#fff" />
<path d="M456.30,442.3 L459.70,436.2 L463.10,442.3 Z" fill="#fff" stroke="#000" stroke-width="1.3"/>
<rect x="466.80" y="437.90" width="2.20" height="2.40" fill="#000" />
<path d="M473.20,436.2 L481.00,436.2 L477.10,442.6 Z" fill="#fff" stroke="#000" stroke-width="1.3"/>
<path d="M458.65,470.3 L477.85,470.3 L477.85,475.3 L458.65,475.3 Z" fill="#000"/>
<text x="468.25" y="474.7" text-anchor="middle" font-family="Liberation Sans" font-weight="bold" font-size="5.2" fill="#fff" textLength="13" lengthAdjust="spacingAndGlyphs">1/13</text>
<rect x="485.90" y="411.90" width="30.10" height="54.10" fill="#fff" />
<rect x="487.40" y="420.40" width="27.20" height="10.80" fill="#000" />
<rect x="485.90" y="431.20" width="30.10" height="2.40" fill="#000" />
<rect x="485.90" y="444.10" width="30.10" height="2.30" fill="#000" />
<rect x="487.40" y="446.40" width="27.20" height="11.60" fill="#000" />
<path d="M490.50,428.6 L490.50,424.8 L511.40,424.8 L511.40,428.6" stroke="#c8c8c8" stroke-width="0.9" fill="none"/>
<rect x="489.50" y="429.60" width="1.60" height="1.20" fill="#bbb" />
<rect x="510.80" y="429.60" width="1.60" height="1.20" fill="#bbb" />
<rect x="490.50" y="452.90" width="20.90" height="1.00" fill="#d0d0d0" />
<rect x="489.20" y="447.50" width="2.00" height="1.90" fill="#fff" />
<rect x="510.70" y="447.50" width="2.00" height="1.90" fill="#fff" />
<path d="M489.00,442.3 L492.40,436.2 L495.80,442.3 Z" fill="#fff" stroke="#000" stroke-width="1.3"/>
<rect x="499.50" y="437.90" width="2.20" height="2.40" fill="#000" />
<path d="M505.90,436.2 L513.70,436.2 L509.80,442.6 Z" fill="#fff" stroke="#000" stroke-width="1.3"/>
<path d="M491.35,470.3 L510.55,470.3 L510.55,475.3 L491.35,475.3 Z" fill="#000"/>
<text x="500.95" y="474.7" text-anchor="middle" font-family="Liberation Sans" font-weight="bold" font-size="5.2" fill="#fff" textLength="13" lengthAdjust="spacingAndGlyphs">2/14</text>
<rect x="518.60" y="411.90" width="30.10" height="54.10" fill="#fff" />
<rect x="520.10" y="420.40" width="27.20" height="10.80" fill="#000" />
<rect x="518.60" y="431.20" width="30.10" height="2.40" fill="#000" />
<rect x="518.60" y="444.10" width="30.10" height="2.30" fill="#000" />
<rect x="520.10" y="446.40" width="27.20" height="11.60" fill="#000" />
<path d="M523.20,428.6 L523.20,424.8 L544.10,424.8 L544.10,428.6" stroke="#c8c8c8" stroke-width="0.9" fill="none"/>
<rect x="522.20" y="429.60" width="1.60" height="1.20" fill="#bbb" />
<rect x="543.50" y="429.60" width="1.60" height="1.20" fill="#bbb" />
<rect x="523.20" y="452.90" width="20.90" height="1.00" fill="#d0d0d0" />
<rect x="521.90" y="447.50" width="2.00" height="1.90" fill="#fff" />
<rect x="543.40" y="447.50" width="2.00" height="1.90" fill="#fff" />
<path d="M521.70,442.3 L525.10,436.2 L528.50,442.3 Z" fill="#fff" stroke="#000" stroke-width="1.3"/>
<rect x="532.20" y="437.90" width="2.20" height="2.40" fill="#000" />
<path d="M538.60,436.2 L546.40,436.2 L542.50,442.6 Z" fill="#fff" stroke="#000" stroke-width="1.3"/>
<path d="M524.05,470.3 L543.25,470.3 L543.25,475.3 L524.05,475.3 Z" fill="#000"/>
<text x="533.65" y="474.7" text-anchor="middle" font-family="Liberation Sans" font-weight="bold" font-size="5.2" fill="#fff" textLength="13" lengthAdjust="spacingAndGlyphs">3/15</text>
<rect x="551.30" y="411.90" width="30.10" height="54.10" fill="#fff" />
<rect x="552.80" y="420.40" width="27.20" height="10.80" fill="#000" />
<rect x="551.30" y="431.20" width="30.10" height="2.40" fill="#000" />
<rect x="551.30" y="444.10" width="30.10" height="2.30" fill="#000" />
<rect x="552.80" y="446.40" width="27.20" height="11.60" fill="#000" />
<path d="M555.90,428.6 L555.90,424.8 L576.80,424.8 L576.80,428.6" stroke="#c8c8c8" stroke-width="0.9" fill="none"/>
<rect x="554.90" y="429.60" width="1.60" height="1.20" fill="#bbb" />
<rect x="576.20" y="429.60" width="1.60" height="1.20" fill="#bbb" />
<rect x="555.90" y="452.90" width="20.90" height="1.00" fill="#d0d0d0" />
<rect x="554.60" y="447.50" width="2.00" height="1.90" fill="#fff" />
<rect x="576.10" y="447.50" width="2.00" height="1.90" fill="#fff" />
<path d="M554.40,442.3 L557.80,436.2 L561.20,442.3 Z" fill="#fff" stroke="#000" stroke-width="1.3"/>
<rect x="564.90" y="437.90" width="2.20" height="2.40" fill="#000" />
<path d="M571.30,436.2 L579.10,436.2 L575.20,442.6 Z" fill="#fff" stroke="#000" stroke-width="1.3"/>
<path d="M556.75,470.3 L575.95,470.3 L575.95,475.3 L556.75,475.3 Z" fill="#000"/>
<text x="566.35" y="474.7" text-anchor="middle" font-family="Liberation Sans" font-weight="bold" font-size="5.2" fill="#fff" textLength="13" lengthAdjust="spacingAndGlyphs">4/16</text>
<rect x="584.00" y="411.90" width="30.10" height="54.10" fill="#fff" />
<rect x="585.50" y="420.40" width="27.20" height="10.80" fill="#000" />
<rect x="584.00" y="431.20" width="30.10" height="2.40" fill="#000" />
<rect x="584.00" y="444.10" width="30.10" height="2.30" fill="#000" />
<rect x="585.50" y="446.40" width="27.20" height="11.60" fill="#000" />
<path d="M588.60,428.6 L588.60,424.8 L609.50,424.8 L609.50,428.6" stroke="#c8c8c8" stroke-width="0.9" fill="none"/>
<rect x="587.60" y="429.60" width="1.60" height="1.20" fill="#bbb" />
<rect x="608.90" y="429.60" width="1.60" height="1.20" fill="#bbb" />
<rect x="588.60" y="452.90" width="20.90" height="1.00" fill="#d0d0d0" />
<rect x="587.30" y="447.50" width="2.00" height="1.90" fill="#fff" />
<rect x="608.80" y="447.50" width="2.00" height="1.90" fill="#fff" />
<path d="M587.10,442.3 L590.50,436.2 L593.90,442.3 Z" fill="#fff" stroke="#000" stroke-width="1.3"/>
<rect x="597.60" y="437.90" width="2.20" height="2.40" fill="#000" />
<path d="M604.00,436.2 L611.80,436.2 L607.90,442.6 Z" fill="#fff" stroke="#000" stroke-width="1.3"/>
<path d="M589.45,470.3 L608.65,470.3 L608.65,475.3 L589.45,475.3 Z" fill="#000"/>
<text x="599.05" y="474.7" text-anchor="middle" font-family="Liberation Sans" font-weight="bold" font-size="5.2" fill="#fff" textLength="13" lengthAdjust="spacingAndGlyphs">5/17</text>
<rect x="616.70" y="411.90" width="30.10" height="54.10" fill="#fff" />
<rect x="618.20" y="420.40" width="27.20" height="10.80" fill="#000" />
<rect x="616.70" y="431.20" width="30.10" height="2.40" fill="#000" />
<rect x="616.70" y="444.10" width="30.10" height="2.30" fill="#000" />
<rect x="618.20" y="446.40" width="27.20" height="11.60" fill="#000" />
<path d="M621.30,428.6 L621.30,424.8 L642.20,424.8 L642.20,428.6" stroke="#c8c8c8" stroke-width="0.9" fill="none"/>
<rect x="620.30" y="429.60" width="1.60" height="1.20" fill="#bbb" />
<rect x="641.60" y="429.60" width="1.60" height="1.20" fill="#bbb" />
<rect x="621.30" y="452.90" width="20.90" height="1.00" fill="#d0d0d0" />
<rect x="620.00" y="447.50" width="2.00" height="1.90" fill="#fff" />
<rect x="641.50" y="447.50" width="2.00" height="1.90" fill="#fff" />
<path d="M619.80,442.3 L623.20,436.2 L626.60,442.3 Z" fill="#fff" stroke="#000" stroke-width="1.3"/>
<rect x="630.30" y="437.90" width="2.20" height="2.40" fill="#000" />
<path d="M636.70,436.2 L644.50,436.2 L640.60,442.6 Z" fill="#fff" stroke="#000" stroke-width="1.3"/>
<path d="M622.15,470.3 L641.35,470.3 L641.35,475.3 L622.15,475.3 Z" fill="#000"/>
<text x="631.75" y="474.7" text-anchor="middle" font-family="Liberation Sans" font-weight="bold" font-size="5.2" fill="#fff" textLength="13" lengthAdjust="spacingAndGlyphs">6/18</text>
<rect x="649.40" y="411.90" width="30.10" height="54.10" fill="#fff" />
<rect x="650.90" y="420.40" width="27.20" height="10.80" fill="#000" />
<rect x="649.40" y="431.20" width="30.10" height="2.40" fill="#000" />
<rect x="649.40" y="444.10" width="30.10" height="2.30" fill="#000" />
<rect x="650.90" y="446.40" width="27.20" height="11.60" fill="#000" />
<path d="M654.00,428.6 L654.00,424.8 L674.90,424.8 L674.90,428.6" stroke="#c8c8c8" stroke-width="0.9" fill="none"/>
<rect x="653.00" y="429.60" width="1.60" height="1.20" fill="#bbb" />
<rect x="674.30" y="429.60" width="1.60" height="1.20" fill="#bbb" />
<rect x="654.00" y="452.90" width="20.90" height="1.00" fill="#d0d0d0" />
<rect x="652.70" y="447.50" width="2.00" height="1.90" fill="#fff" />
<rect x="674.20" y="447.50" width="2.00" height="1.90" fill="#fff" />
<path d="M652.50,442.3 L655.90,436.2 L659.30,442.3 Z" fill="#fff" stroke="#000" stroke-width="1.3"/>
<rect x="663.00" y="437.90" width="2.20" height="2.40" fill="#000" />
<path d="M669.40,436.2 L677.20,436.2 L673.30,442.6 Z" fill="#fff" stroke="#000" stroke-width="1.3"/>
<path d="M654.85,470.3 L674.05,470.3 L674.05,475.3 L654.85,475.3 Z" fill="#000"/>
<text x="664.45" y="474.7" text-anchor="middle" font-family="Liberation Sans" font-weight="bold" font-size="5.2" fill="#fff" textLength="13" lengthAdjust="spacingAndGlyphs">7/19</text>
<rect x="682.10" y="411.90" width="30.10" height="54.10" fill="#fff" />
<rect x="683.60" y="420.40" width="27.20" height="10.80" fill="#000" />
<rect x="682.10" y="431.20" width="30.10" height="2.40" fill="#000" />
<rect x="682.10" y="444.10" width="30.10" height="2.30" fill="#000" />
<rect x="683.60" y="446.40" width="27.20" height="11.60" fill="#000" />
<path d="M686.70,428.6 L686.70,424.8 L707.60,424.8 L707.60,428.6" stroke="#c8c8c8" stroke-width="0.9" fill="none"/>
<rect x="685.70" y="429.60" width="1.60" height="1.20" fill="#bbb" />
<rect x="707.00" y="429.60" width="1.60" height="1.20" fill="#bbb" />
<rect x="686.70" y="452.90" width="20.90" height="1.00" fill="#d0d0d0" />
<rect x="685.40" y="447.50" width="2.00" height="1.90" fill="#fff" />
<rect x="706.90" y="447.50" width="2.00" height="1.90" fill="#fff" />
<path d="M685.20,442.3 L688.60,436.2 L692.00,442.3 Z" fill="#fff" stroke="#000" stroke-width="1.3"/>
<rect x="695.70" y="437.90" width="2.20" height="2.40" fill="#000" />
<path d="M702.10,436.2 L709.90,436.2 L706.00,442.6 Z" fill="#fff" stroke="#000" stroke-width="1.3"/>
<path d="M687.55,470.3 L706.75,470.3 L706.75,475.3 L687.55,475.3 Z" fill="#000"/>
<text x="697.15" y="474.7" text-anchor="middle" font-family="Liberation Sans" font-weight="bold" font-size="5.2" fill="#fff" textLength="13" lengthAdjust="spacingAndGlyphs">8/20</text>
<rect x="728.50" y="409.30" width="264.20" height="59.00" fill="#000" />
<rect x="731.10" y="411.90" width="30.10" height="54.10" fill="#fff" />
<rect x="732.60" y="420.40" width="27.20" height="10.80" fill="#000" />
<rect x="731.10" y="431.20" width="30.10" height="2.40" fill="#000" />
<rect x="731.10" y="444.10" width="30.10" height="2.30" fill="#000" />
<rect x="732.60" y="446.40" width="27.20" height="11.60" fill="#000" />
<path d="M735.70,428.6 L735.70,424.8 L756.60,424.8 L756.60,428.6" stroke="#c8c8c8" stroke-width="0.9" fill="none"/>
<rect x="734.70" y="429.60" width="1.60" height="1.20" fill="#bbb" />
<rect x="756.00" y="429.60" width="1.60" height="1.20" fill="#bbb" />
<rect x="735.70" y="452.90" width="20.90" height="1.00" fill="#d0d0d0" />
<rect x="734.40" y="447.50" width="2.00" height="1.90" fill="#fff" />
<rect x="755.90" y="447.50" width="2.00" height="1.90" fill="#fff" />
<path d="M734.20,442.3 L737.60,436.2 L741.00,442.3 Z" fill="#fff" stroke="#000" stroke-width="1.3"/>
<rect x="744.70" y="437.90" width="2.20" height="2.40" fill="#000" />
<path d="M751.10,436.2 L758.90,436.2 L755.00,442.6 Z" fill="#fff" stroke="#000" stroke-width="1.3"/>
<path d="M736.55,470.3 L755.75,470.3 L755.75,475.3 L736.55,475.3 Z" fill="#000"/>
<text x="746.15" y="474.7" text-anchor="middle" font-family="Liberation Sans" font-weight="bold" font-size="5.2" fill="#fff" textLength="13" lengthAdjust="spacingAndGlyphs">1/13</text>
<rect x="763.80" y="411.90" width="30.10" height="54.10" fill="#fff" />
<rect x="765.30" y="420.40" width="27.20" height="10.80" fill="#000" />
<rect x="763.80" y="431.20" width="30.10" height="2.40" fill="#000" />
<rect x="763.80" y="444.10" width="30.10" height="2.30" fill="#000" />
<rect x="765.30" y="446.40" width="27.20" height="11.60" fill="#000" />
<path d="M768.40,428.6 L768.40,424.8 L789.30,424.8 L789.30,428.6" stroke="#c8c8c8" stroke-width="0.9" fill="none"/>
<rect x="767.40" y="429.60" width="1.60" height="1.20" fill="#bbb" />
<rect x="788.70" y="429.60" width="1.60" height="1.20" fill="#bbb" />
<rect x="768.40" y="452.90" width="20.90" height="1.00" fill="#d0d0d0" />
<rect x="767.10" y="447.50" width="2.00" height="1.90" fill="#fff" />
<rect x="788.60" y="447.50" width="2.00" height="1.90" fill="#fff" />
<path d="M766.90,442.3 L770.30,436.2 L773.70,442.3 Z" fill="#fff" stroke="#000" stroke-width="1.3"/>
<rect x="777.40" y="437.90" width="2.20" height="2.40" fill="#000" />
<path d="M783.80,436.2 L791.60,436.2 L787.70,442.6 Z" fill="#fff" stroke="#000" stroke-width="1.3"/>
<path d="M769.25,470.3 L788.45,470.3 L788.45,475.3 L769.25,475.3 Z" fill="#000"/>
<text x="778.85" y="474.7" text-anchor="middle" font-family="Liberation Sans" font-weight="bold" font-size="5.2" fill="#fff" textLength="13" lengthAdjust="spacingAndGlyphs">2/14</text>
<rect x="796.50" y="411.90" width="30.10" height="54.10" fill="#fff" />
<rect x="798.00" y="420.40" width="27.20" height="10.80" fill="#000" />
<rect x="796.50" y="431.20" width="30.10" height="2.40" fill="#000" />
<rect x="796.50" y="444.10" width="30.10" height="2.30" fill="#000" />
<rect x="798.00" y="446.40" width="27.20" height="11.60" fill="#000" />
<path d="M801.10,428.6 L801.10,424.8 L822.00,424.8 L822.00,428.6" stroke="#c8c8c8" stroke-width="0.9" fill="none"/>
<rect x="800.10" y="429.60" width="1.60" height="1.20" fill="#bbb" />
<rect x="821.40" y="429.60" width="1.60" height="1.20" fill="#bbb" />
<rect x="801.10" y="452.90" width="20.90" height="1.00" fill="#d0d0d0" />
<rect x="799.80" y="447.50" width="2.00" height="1.90" fill="#fff" />
<rect x="821.30" y="447.50" width="2.00" height="1.90" fill="#fff" />
<path d="M799.60,442.3 L803.00,436.2 L806.40,442.3 Z" fill="#fff" stroke="#000" stroke-width="1.3"/>
<rect x="810.10" y="437.90" width="2.20" height="2.40" fill="#000" />
<path d="M816.50,436.2 L824.30,436.2 L820.40,442.6 Z" fill="#fff" stroke="#000" stroke-width="1.3"/>
<path d="M801.95,470.3 L821.15,470.3 L821.15,475.3 L801.95,475.3 Z" fill="#000"/>
<text x="811.55" y="474.7" text-anchor="middle" font-family="Liberation Sans" font-weight="bold" font-size="5.2" fill="#fff" textLength="13" lengthAdjust="spacingAndGlyphs">3/15</text>
<rect x="829.20" y="411.90" width="30.10" height="54.10" fill="#fff" />
<rect x="830.70" y="420.40" width="27.20" height="10.80" fill="#000" />
<rect x="829.20" y="431.20" width="30.10" height="2.40" fill="#000" />
<rect x="829.20" y="444.10" width="30.10" height="2.30" fill="#000" />
<rect x="830.70" y="446.40" width="27.20" height="11.60" fill="#000" />
<path d="M833.80,428.6 L833.80,424.8 L854.70,424.8 L854.70,428.6" stroke="#c8c8c8" stroke-width="0.9" fill="none"/>
<rect x="832.80" y="429.60" width="1.60" height="1.20" fill="#bbb" />
<rect x="854.10" y="429.60" width="1.60" height="1.20" fill="#bbb" />
<rect x="833.80" y="452.90" width="20.90" height="1.00" fill="#d0d0d0" />
<rect x="832.50" y="447.50" width="2.00" height="1.90" fill="#fff" />
<rect x="854.00" y="447.50" width="2.00" height="1.90" fill="#fff" />
<path d="M832.30,442.3 L835.70,436.2 L839.10,442.3 Z" fill="#fff" stroke="#000" stroke-width="1.3"/>
<rect x="842.80" y="437.90" width="2.20" height="2.40" fill="#000" />
<path d="M849.20,436.2 L857.00,436.2 L853.10,442.6 Z" fill="#fff" stroke="#000" stroke-width="1.3"/>
<path d="M834.65,470.3 L853.85,470.3 L853.85,475.3 L834.65,475.3 Z" fill="#000"/>
<text x="844.25" y="474.7" text-anchor="middle" font-family="Liberation Sans" font-weight="bold" font-size="5.2" fill="#fff" textLength="13" lengthAdjust="spacingAndGlyphs">4/16</text>
<rect x="861.90" y="411.90" width="30.10" height="54.10" fill="#fff" />
<rect x="863.40" y="420.40" width="27.20" height="10.80" fill="#000" />
<rect x="861.90" y="431.20" width="30.10" height="2.40" fill="#000" />
<rect x="861.90" y="444.10" width="30.10" height="2.30" fill="#000" />
<rect x="863.40" y="446.40" width="27.20" height="11.60" fill="#000" />
<path d="M866.50,428.6 L866.50,424.8 L887.40,424.8 L887.40,428.6" stroke="#c8c8c8" stroke-width="0.9" fill="none"/>
<rect x="865.50" y="429.60" width="1.60" height="1.20" fill="#bbb" />
<rect x="886.80" y="429.60" width="1.60" height="1.20" fill="#bbb" />
<rect x="866.50" y="452.90" width="20.90" height="1.00" fill="#d0d0d0" />
<rect x="865.20" y="447.50" width="2.00" height="1.90" fill="#fff" />
<rect x="886.70" y="447.50" width="2.00" height="1.90" fill="#fff" />
<path d="M865.00,442.3 L868.40,436.2 L871.80,442.3 Z" fill="#fff" stroke="#000" stroke-width="1.3"/>
<rect x="875.50" y="437.90" width="2.20" height="2.40" fill="#000" />
<path d="M881.90,436.2 L889.70,436.2 L885.80,442.6 Z" fill="#fff" stroke="#000" stroke-width="1.3"/>
<path d="M867.35,470.3 L886.55,470.3 L886.55,475.3 L867.35,475.3 Z" fill="#000"/>
<text x="876.95" y="474.7" text-anchor="middle" font-family="Liberation Sans" font-weight="bold" font-size="5.2" fill="#fff" textLength="13" lengthAdjust="spacingAndGlyphs">5/17</text>
<rect x="894.60" y="411.90" width="30.10" height="54.10" fill="#fff" />
<rect x="896.10" y="420.40" width="27.20" height="10.80" fill="#000" />
<rect x="894.60" y="431.20" width="30.10" height="2.40" fill="#000" />
<rect x="894.60" y="444.10" width="30.10" height="2.30" fill="#000" />
<rect x="896.10" y="446.40" width="27.20" height="11.60" fill="#000" />
<path d="M899.20,428.6 L899.20,424.8 L920.10,424.8 L920.10,428.6" stroke="#c8c8c8" stroke-width="0.9" fill="none"/>
<rect x="898.20" y="429.60" width="1.60" height="1.20" fill="#bbb" />
<rect x="919.50" y="429.60" width="1.60" height="1.20" fill="#bbb" />
<rect x="899.20" y="452.90" width="20.90" height="1.00" fill="#d0d0d0" />
<rect x="897.90" y="447.50" width="2.00" height="1.90" fill="#fff" />
<rect x="919.40" y="447.50" width="2.00" height="1.90" fill="#fff" />
<path d="M897.70,442.3 L901.10,436.2 L904.50,442.3 Z" fill="#fff" stroke="#000" stroke-width="1.3"/>
<rect x="908.20" y="437.90" width="2.20" height="2.40" fill="#000" />
<path d="M914.60,436.2 L922.40,436.2 L918.50,442.6 Z" fill="#fff" stroke="#000" stroke-width="1.3"/>
<path d="M900.05,470.3 L919.25,470.3 L919.25,475.3 L900.05,475.3 Z" fill="#000"/>
<text x="909.65" y="474.7" text-anchor="middle" font-family="Liberation Sans" font-weight="bold" font-size="5.2" fill="#fff" textLength="13" lengthAdjust="spacingAndGlyphs">6/18</text>
<rect x="927.30" y="411.90" width="30.10" height="54.10" fill="#fff" />
<rect x="928.80" y="420.40" width="27.20" height="10.80" fill="#000" />
<rect x="927.30" y="431.20" width="30.10" height="2.40" fill="#000" />
<rect x="927.30" y="444.10" width="30.10" height="2.30" fill="#000" />
<rect x="928.80" y="446.40" width="27.20" height="11.60" fill="#000" />
<path d="M931.90,428.6 L931.90,424.8 L952.80,424.8 L952.80,428.6" stroke="#c8c8c8" stroke-width="0.9" fill="none"/>
<rect x="930.90" y="429.60" width="1.60" height="1.20" fill="#bbb" />
<rect x="952.20" y="429.60" width="1.60" height="1.20" fill="#bbb" />
<rect x="931.90" y="452.90" width="20.90" height="1.00" fill="#d0d0d0" />
<rect x="930.60" y="447.50" width="2.00" height="1.90" fill="#fff" />
<rect x="952.10" y="447.50" width="2.00" height="1.90" fill="#fff" />
<path d="M930.40,442.3 L933.80,436.2 L937.20,442.3 Z" fill="#fff" stroke="#000" stroke-width="1.3"/>
<rect x="940.90" y="437.90" width="2.20" height="2.40" fill="#000" />
<path d="M947.30,436.2 L955.10,436.2 L951.20,442.6 Z" fill="#fff" stroke="#000" stroke-width="1.3"/>
<path d="M932.75,470.3 L951.95,470.3 L951.95,475.3 L932.75,475.3 Z" fill="#000"/>
<text x="942.35" y="474.7" text-anchor="middle" font-family="Liberation Sans" font-weight="bold" font-size="5.2" fill="#fff" textLength="13" lengthAdjust="spacingAndGlyphs">7/19</text>
<rect x="960.00" y="411.90" width="30.10" height="54.10" fill="#fff" />
<rect x="961.50" y="420.40" width="27.20" height="10.80" fill="#000" />
<rect x="960.00" y="431.20" width="30.10" height="2.40" fill="#000" />
<rect x="960.00" y="444.10" width="30.10" height="2.30" fill="#000" />
<rect x="961.50" y="446.40" width="27.20" height="11.60" fill="#000" />
<path d="M964.60,428.6 L964.60,424.8 L985.50,424.8 L985.50,428.6" stroke="#c8c8c8" stroke-width="0.9" fill="none"/>
<rect x="963.60" y="429.60" width="1.60" height="1.20" fill="#bbb" />
<rect x="984.90" y="429.60" width="1.60" height="1.20" fill="#bbb" />
<rect x="964.60" y="452.90" width="20.90" height="1.00" fill="#d0d0d0" />
<rect x="963.30" y="447.50" width="2.00" height="1.90" fill="#fff" />
<rect x="984.80" y="447.50" width="2.00" height="1.90" fill="#fff" />
<path d="M963.10,442.3 L966.50,436.2 L969.90,442.3 Z" fill="#fff" stroke="#000" stroke-width="1.3"/>
<rect x="973.60" y="437.90" width="2.20" height="2.40" fill="#000" />
<path d="M980.00,436.2 L987.80,436.2 L983.90,442.6 Z" fill="#fff" stroke="#000" stroke-width="1.3"/>
<path d="M965.45,470.3 L984.65,470.3 L984.65,475.3 L965.45,475.3 Z" fill="#000"/>
<text x="975.05" y="474.7" text-anchor="middle" font-family="Liberation Sans" font-weight="bold" font-size="5.2" fill="#fff" textLength="13" lengthAdjust="spacingAndGlyphs">8/20</text>
<rect x="439.00" y="402.60" width="10.00" height="73.40" fill="#fff" />
<rect x="439.00" y="402.60" width="1.60" height="73.40" fill="#000" />
<rect x="447.30" y="402.60" width="1.70" height="73.40" fill="#000" />
<path d="M444.0,405.5 L446.2,408.7 L444.0,411.9 L441.8,408.7 Z" fill="#bbb" stroke="#000" stroke-width="0.9"/>
<path d="M444.0,412.3 L446.2,415.5 L444.0,418.7 L441.8,415.5 Z" fill="#bbb" stroke="#000" stroke-width="0.9"/>
<path d="M444.0,419.1 L446.2,422.3 L444.0,425.5 L441.8,422.3 Z" fill="#bbb" stroke="#000" stroke-width="0.9"/>
<path d="M444.0,425.9 L446.2,429.1 L444.0,432.3 L441.8,429.1 Z" fill="#bbb" stroke="#000" stroke-width="0.9"/>
<path d="M444.0,432.7 L446.2,435.9 L444.0,439.1 L441.8,435.9 Z" fill="#bbb" stroke="#000" stroke-width="0.9"/>
<path d="M444.0,439.5 L446.2,442.7 L444.0,445.9 L441.8,442.7 Z" fill="#bbb" stroke="#000" stroke-width="0.9"/>
<path d="M444.0,446.3 L446.2,449.5 L444.0,452.7 L441.8,449.5 Z" fill="#bbb" stroke="#000" stroke-width="0.9"/>
<path d="M444.0,453.1 L446.2,456.3 L444.0,459.5 L441.8,456.3 Z" fill="#bbb" stroke="#000" stroke-width="0.9"/>
<path d="M444.0,459.9 L446.2,463.1 L444.0,466.3 L441.8,463.1 Z" fill="#bbb" stroke="#000" stroke-width="0.9"/>
<path d="M444.0,466.7 L446.2,469.9 L444.0,473.1 L441.8,469.9 Z" fill="#bbb" stroke="#000" stroke-width="0.9"/>
<path d="M440.5,397.3 L445.5,394.6 L445.5,396.5 L459.0,396.5 L459.0,398.1 L445.5,398.1 L445.5,400 Z" fill="#f2f2f2"/>
<path d="M460.0,394.8 L464.5,399.8 M464.5,394.8 L460.0,399.8" stroke="#f2f2f2" stroke-width="1.1"/>
<circle cx="445.80" cy="397.30" r="1.3" fill="#000" stroke="#000" stroke-width="0.3"/>
<rect x="717.00" y="402.60" width="10.00" height="73.40" fill="#fff" />
<rect x="717.00" y="402.60" width="1.60" height="73.40" fill="#000" />
<rect x="725.30" y="402.60" width="1.70" height="73.40" fill="#000" />
<path d="M722.0,405.5 L724.2,408.7 L722.0,411.9 L719.8,408.7 Z" fill="#bbb" stroke="#000" stroke-width="0.9"/>
<path d="M722.0,412.3 L724.2,415.5 L722.0,418.7 L719.8,415.5 Z" fill="#bbb" stroke="#000" stroke-width="0.9"/>
<path d="M722.0,419.1 L724.2,422.3 L722.0,425.5 L719.8,422.3 Z" fill="#bbb" stroke="#000" stroke-width="0.9"/>
<path d="M722.0,425.9 L724.2,429.1 L722.0,432.3 L719.8,429.1 Z" fill="#bbb" stroke="#000" stroke-width="0.9"/>
<path d="M722.0,432.7 L724.2,435.9 L722.0,439.1 L719.8,435.9 Z" fill="#bbb" stroke="#000" stroke-width="0.9"/>
<path d="M722.0,439.5 L724.2,442.7 L722.0,445.9 L719.8,442.7 Z" fill="#bbb" stroke="#000" stroke-width="0.9"/>
<path d="M722.0,446.3 L724.2,449.5 L722.0,452.7 L719.8,449.5 Z" fill="#bbb" stroke="#000" stroke-width="0.9"/>
<path d="M722.0,453.1 L724.2,456.3 L722.0,459.5 L719.8,456.3 Z" fill="#bbb" stroke="#000" stroke-width="0.9"/>
<path d="M722.0,459.9 L724.2,463.1 L722.0,466.3 L719.8,463.1 Z" fill="#bbb" stroke="#000" stroke-width="0.9"/>
<path d="M722.0,466.7 L724.2,469.9 L722.0,473.1 L719.8,469.9 Z" fill="#bbb" stroke="#000" stroke-width="0.9"/>
<path d="M718.5,397.3 L723.5,394.6 L723.5,396.5 L737.0,396.5 L737.0,398.1 L723.5,398.1 L723.5,400 Z" fill="#f2f2f2"/>
<path d="M738.0,394.8 L742.5,399.8 M742.5,394.8 L738.0,399.8" stroke="#f2f2f2" stroke-width="1.1"/>
<circle cx="723.80" cy="397.30" r="1.3" fill="#000" stroke="#000" stroke-width="0.3"/>
<rect x="84.00" y="476.60" width="910.00" height="1.90" fill="#000" />
<rect x="84.00" y="478.50" width="17.30" height="5.50" fill="#000" />
<rect x="85.60" y="478.60" width="6.00" height="2.30" fill="#fff" />
<rect x="93.70" y="478.60" width="6.00" height="2.30" fill="#fff" />
<path d="M84.50,483.9 L88.60,481.2 L92.70,483.9 Z M92.60,483.9 L96.70,481.2 L100.80,483.9 Z" fill="#e8e8e8"/>
<rect x="101.30" y="478.50" width="17.30" height="5.50" fill="#000" />
<rect x="102.90" y="478.60" width="6.00" height="2.30" fill="#fff" />
<rect x="111.00" y="478.60" width="6.00" height="2.30" fill="#fff" />
<path d="M101.80,483.9 L105.90,481.2 L110.00,483.9 Z M109.90,483.9 L114.00,481.2 L118.10,483.9 Z" fill="#e8e8e8"/>
<rect x="118.60" y="478.50" width="17.30" height="5.50" fill="#000" />
<rect x="120.20" y="478.60" width="6.00" height="2.30" fill="#fff" />
<rect x="128.30" y="478.60" width="6.00" height="2.30" fill="#fff" />
<path d="M119.10,483.9 L123.20,481.2 L127.30,483.9 Z M127.20,483.9 L131.30,481.2 L135.40,483.9 Z" fill="#e8e8e8"/>
<rect x="135.90" y="478.50" width="17.30" height="5.50" fill="#000" />
<rect x="137.50" y="478.60" width="6.00" height="2.30" fill="#fff" />
<rect x="145.60" y="478.60" width="6.00" height="2.30" fill="#fff" />
<path d="M136.40,483.9 L140.50,481.2 L144.60,483.9 Z M144.50,483.9 L148.60,481.2 L152.70,483.9 Z" fill="#e8e8e8"/>
<rect x="153.20" y="478.50" width="17.30" height="5.50" fill="#000" />
<rect x="154.80" y="478.60" width="6.00" height="2.30" fill="#fff" />
<rect x="162.90" y="478.60" width="6.00" height="2.30" fill="#fff" />
<path d="M153.70,483.9 L157.80,481.2 L161.90,483.9 Z M161.80,483.9 L165.90,481.2 L170.00,483.9 Z" fill="#e8e8e8"/>
<rect x="170.50" y="478.50" width="17.30" height="5.50" fill="#000" />
<rect x="172.10" y="478.60" width="6.00" height="2.30" fill="#fff" />
<rect x="180.20" y="478.60" width="6.00" height="2.30" fill="#fff" />
<path d="M171.00,483.9 L175.10,481.2 L179.20,483.9 Z M179.10,483.9 L183.20,481.2 L187.30,483.9 Z" fill="#e8e8e8"/>
<rect x="187.80" y="478.50" width="17.30" height="5.50" fill="#000" />
<rect x="189.40" y="478.60" width="6.00" height="2.30" fill="#fff" />
<rect x="197.50" y="478.60" width="6.00" height="2.30" fill="#fff" />
<path d="M188.30,483.9 L192.40,481.2 L196.50,483.9 Z M196.40,483.9 L200.50,481.2 L204.60,483.9 Z" fill="#e8e8e8"/>
<rect x="205.10" y="478.50" width="17.30" height="5.50" fill="#000" />
<rect x="206.70" y="478.60" width="6.00" height="2.30" fill="#fff" />
<rect x="214.80" y="478.60" width="6.00" height="2.30" fill="#fff" />
<path d="M205.60,483.9 L209.70,481.2 L213.80,483.9 Z M213.70,483.9 L217.80,481.2 L221.90,483.9 Z" fill="#e8e8e8"/>
<rect x="222.40" y="478.50" width="17.30" height="5.50" fill="#000" />
<rect x="224.00" y="478.60" width="6.00" height="2.30" fill="#fff" />
<rect x="232.10" y="478.60" width="6.00" height="2.30" fill="#fff" />
<path d="M222.90,483.9 L227.00,481.2 L231.10,483.9 Z M231.00,483.9 L235.10,481.2 L239.20,483.9 Z" fill="#e8e8e8"/>
<rect x="239.70" y="478.50" width="17.30" height="5.50" fill="#000" />
<rect x="241.30" y="478.60" width="6.00" height="2.30" fill="#fff" />
<rect x="249.40" y="478.60" width="6.00" height="2.30" fill="#fff" />
<path d="M240.20,483.9 L244.30,481.2 L248.40,483.9 Z M248.30,483.9 L252.40,481.2 L256.50,483.9 Z" fill="#e8e8e8"/>
<rect x="257.00" y="478.50" width="17.30" height="5.50" fill="#000" />
<rect x="258.60" y="478.60" width="6.00" height="2.30" fill="#fff" />
<rect x="266.70" y="478.60" width="6.00" height="2.30" fill="#fff" />
<path d="M257.50,483.9 L261.60,481.2 L265.70,483.9 Z M265.60,483.9 L269.70,481.2 L273.80,483.9 Z" fill="#e8e8e8"/>
<rect x="274.30" y="478.50" width="17.30" height="5.50" fill="#000" />
<rect x="275.90" y="478.60" width="6.00" height="2.30" fill="#fff" />
<rect x="284.00" y="478.60" width="6.00" height="2.30" fill="#fff" />
<path d="M274.80,483.9 L278.90,481.2 L283.00,483.9 Z M282.90,483.9 L287.00,481.2 L291.10,483.9 Z" fill="#e8e8e8"/>
<rect x="291.60" y="478.50" width="17.30" height="5.50" fill="#000" />
<rect x="293.20" y="478.60" width="6.00" height="2.30" fill="#fff" />
<rect x="301.30" y="478.60" width="6.00" height="2.30" fill="#fff" />
<path d="M292.10,483.9 L296.20,481.2 L300.30,483.9 Z M300.20,483.9 L304.30,481.2 L308.40,483.9 Z" fill="#e8e8e8"/>
<rect x="308.90" y="478.50" width="17.30" height="5.50" fill="#000" />
<rect x="310.50" y="478.60" width="6.00" height="2.30" fill="#fff" />
<rect x="318.60" y="478.60" width="6.00" height="2.30" fill="#fff" />
<path d="M309.40,483.9 L313.50,481.2 L317.60,483.9 Z M317.50,483.9 L321.60,481.2 L325.70,483.9 Z" fill="#e8e8e8"/>
<rect x="326.20" y="478.50" width="17.30" height="5.50" fill="#000" />
<rect x="327.80" y="478.60" width="6.00" height="2.30" fill="#fff" />
<rect x="335.90" y="478.60" width="6.00" height="2.30" fill="#fff" />
<path d="M326.70,483.9 L330.80,481.2 L334.90,483.9 Z M334.80,483.9 L338.90,481.2 L343.00,483.9 Z" fill="#e8e8e8"/>
<rect x="343.50" y="478.50" width="17.30" height="5.50" fill="#000" />
<rect x="345.10" y="478.60" width="6.00" height="2.30" fill="#fff" />
<rect x="353.20" y="478.60" width="6.00" height="2.30" fill="#fff" />
<path d="M344.00,483.9 L348.10,481.2 L352.20,483.9 Z M352.10,483.9 L356.20,481.2 L360.30,483.9 Z" fill="#e8e8e8"/>
<rect x="360.80" y="478.50" width="17.30" height="5.50" fill="#000" />
<rect x="362.40" y="478.60" width="6.00" height="2.30" fill="#fff" />
<rect x="370.50" y="478.60" width="6.00" height="2.30" fill="#fff" />
<path d="M361.30,483.9 L365.40,481.2 L369.50,483.9 Z M369.40,483.9 L373.50,481.2 L377.60,483.9 Z" fill="#e8e8e8"/>
<rect x="378.10" y="478.50" width="17.30" height="5.50" fill="#000" />
<rect x="379.70" y="478.60" width="6.00" height="2.30" fill="#fff" />
<rect x="387.80" y="478.60" width="6.00" height="2.30" fill="#fff" />
<path d="M378.60,483.9 L382.70,481.2 L386.80,483.9 Z M386.70,483.9 L390.80,481.2 L394.90,483.9 Z" fill="#e8e8e8"/>
<rect x="395.40" y="478.50" width="17.30" height="5.50" fill="#000" />
<rect x="397.00" y="478.60" width="6.00" height="2.30" fill="#fff" />
<rect x="405.10" y="478.60" width="6.00" height="2.30" fill="#fff" />
<path d="M395.90,483.9 L400.00,481.2 L404.10,483.9 Z M404.00,483.9 L408.10,481.2 L412.20,483.9 Z" fill="#e8e8e8"/>
<rect x="412.70" y="478.50" width="17.30" height="5.50" fill="#000" />
<rect x="414.30" y="478.60" width="6.00" height="2.30" fill="#fff" />
<rect x="422.40" y="478.60" width="6.00" height="2.30" fill="#fff" />
<path d="M413.20,483.9 L417.30,481.2 L421.40,483.9 Z M421.30,483.9 L425.40,481.2 L429.50,483.9 Z" fill="#e8e8e8"/>
<rect x="430.00" y="478.50" width="17.30" height="5.50" fill="#000" />
<rect x="431.60" y="478.60" width="6.00" height="2.30" fill="#fff" />
<rect x="439.70" y="478.60" width="6.00" height="2.30" fill="#fff" />
<path d="M430.50,483.9 L434.60,481.2 L438.70,483.9 Z M438.60,483.9 L442.70,481.2 L446.80,483.9 Z" fill="#e8e8e8"/>
<rect x="447.30" y="478.50" width="17.30" height="5.50" fill="#000" />
<rect x="448.90" y="478.60" width="6.00" height="2.30" fill="#fff" />
<rect x="457.00" y="478.60" width="6.00" height="2.30" fill="#fff" />
<path d="M447.80,483.9 L451.90,481.2 L456.00,483.9 Z M455.90,483.9 L460.00,481.2 L464.10,483.9 Z" fill="#e8e8e8"/>
<rect x="464.60" y="478.50" width="17.30" height="5.50" fill="#000" />
<rect x="466.20" y="478.60" width="6.00" height="2.30" fill="#fff" />
<rect x="474.30" y="478.60" width="6.00" height="2.30" fill="#fff" />
<path d="M465.10,483.9 L469.20,481.2 L473.30,483.9 Z M473.20,483.9 L477.30,481.2 L481.40,483.9 Z" fill="#e8e8e8"/>
<rect x="481.90" y="478.50" width="17.30" height="5.50" fill="#000" />
<rect x="483.50" y="478.60" width="6.00" height="2.30" fill="#fff" />
<rect x="491.60" y="478.60" width="6.00" height="2.30" fill="#fff" />
<path d="M482.40,483.9 L486.50,481.2 L490.60,483.9 Z M490.50,483.9 L494.60,481.2 L498.70,483.9 Z" fill="#e8e8e8"/>
<rect x="499.20" y="478.50" width="17.30" height="5.50" fill="#000" />
<rect x="500.80" y="478.60" width="6.00" height="2.30" fill="#fff" />
<rect x="508.90" y="478.60" width="6.00" height="2.30" fill="#fff" />
<path d="M499.70,483.9 L503.80,481.2 L507.90,483.9 Z M507.80,483.9 L511.90,481.2 L516.00,483.9 Z" fill="#e8e8e8"/>
<rect x="516.50" y="478.50" width="17.30" height="5.50" fill="#000" />
<rect x="518.10" y="478.60" width="6.00" height="2.30" fill="#fff" />
<rect x="526.20" y="478.60" width="6.00" height="2.30" fill="#fff" />
<path d="M517.00,483.9 L521.10,481.2 L525.20,483.9 Z M525.10,483.9 L529.20,481.2 L533.30,483.9 Z" fill="#e8e8e8"/>
<rect x="533.80" y="478.50" width="17.30" height="5.50" fill="#000" />
<rect x="535.40" y="478.60" width="6.00" height="2.30" fill="#fff" />
<rect x="543.50" y="478.60" width="6.00" height="2.30" fill="#fff" />
<path d="M534.30,483.9 L538.40,481.2 L542.50,483.9 Z M542.40,483.9 L546.50,481.2 L550.60,483.9 Z" fill="#e8e8e8"/>
<rect x="551.10" y="478.50" width="17.30" height="5.50" fill="#000" />
<rect x="552.70" y="478.60" width="6.00" height="2.30" fill="#fff" />
<rect x="560.80" y="478.60" width="6.00" height="2.30" fill="#fff" />
<path d="M551.60,483.9 L555.70,481.2 L559.80,483.9 Z M559.70,483.9 L563.80,481.2 L567.90,483.9 Z" fill="#e8e8e8"/>
<rect x="568.40" y="478.50" width="17.30" height="5.50" fill="#000" />
<rect x="570.00" y="478.60" width="6.00" height="2.30" fill="#fff" />
<rect x="578.10" y="478.60" width="6.00" height="2.30" fill="#fff" />
<path d="M568.90,483.9 L573.00,481.2 L577.10,483.9 Z M577.00,483.9 L581.10,481.2 L585.20,483.9 Z" fill="#e8e8e8"/>
<rect x="585.70" y="478.50" width="17.30" height="5.50" fill="#000" />
<rect x="587.30" y="478.60" width="6.00" height="2.30" fill="#fff" />
<rect x="595.40" y="478.60" width="6.00" height="2.30" fill="#fff" />
<path d="M586.20,483.9 L590.30,481.2 L594.40,483.9 Z M594.30,483.9 L598.40,481.2 L602.50,483.9 Z" fill="#e8e8e8"/>
<rect x="603.00" y="478.50" width="17.30" height="5.50" fill="#000" />
<rect x="604.60" y="478.60" width="6.00" height="2.30" fill="#fff" />
<rect x="612.70" y="478.60" width="6.00" height="2.30" fill="#fff" />
<path d="M603.50,483.9 L607.60,481.2 L611.70,483.9 Z M611.60,483.9 L615.70,481.2 L619.80,483.9 Z" fill="#e8e8e8"/>
<rect x="620.30" y="478.50" width="17.30" height="5.50" fill="#000" />
<rect x="621.90" y="478.60" width="6.00" height="2.30" fill="#fff" />
<rect x="630.00" y="478.60" width="6.00" height="2.30" fill="#fff" />
<path d="M620.80,483.9 L624.90,481.2 L629.00,483.9 Z M628.90,483.9 L633.00,481.2 L637.10,483.9 Z" fill="#e8e8e8"/>
<rect x="637.60" y="478.50" width="17.30" height="5.50" fill="#000" />
<rect x="639.20" y="478.60" width="6.00" height="2.30" fill="#fff" />
<rect x="647.30" y="478.60" width="6.00" height="2.30" fill="#fff" />
<path d="M638.10,483.9 L642.20,481.2 L646.30,483.9 Z M646.20,483.9 L650.30,481.2 L654.40,483.9 Z" fill="#e8e8e8"/>
<rect x="654.90" y="478.50" width="17.30" height="5.50" fill="#000" />
<rect x="656.50" y="478.60" width="6.00" height="2.30" fill="#fff" />
<rect x="664.60" y="478.60" width="6.00" height="2.30" fill="#fff" />
<path d="M655.40,483.9 L659.50,481.2 L663.60,483.9 Z M663.50,483.9 L667.60,481.2 L671.70,483.9 Z" fill="#e8e8e8"/>
<rect x="672.20" y="478.50" width="17.30" height="5.50" fill="#000" />
<rect x="673.80" y="478.60" width="6.00" height="2.30" fill="#fff" />
<rect x="681.90" y="478.60" width="6.00" height="2.30" fill="#fff" />
<path d="M672.70,483.9 L676.80,481.2 L680.90,483.9 Z M680.80,483.9 L684.90,481.2 L689.00,483.9 Z" fill="#e8e8e8"/>
<rect x="689.50" y="478.50" width="17.30" height="5.50" fill="#000" />
<rect x="691.10" y="478.60" width="6.00" height="2.30" fill="#fff" />
<rect x="699.20" y="478.60" width="6.00" height="2.30" fill="#fff" />
<path d="M690.00,483.9 L694.10,481.2 L698.20,483.9 Z M698.10,483.9 L702.20,481.2 L706.30,483.9 Z" fill="#e8e8e8"/>
<rect x="706.80" y="478.50" width="17.30" height="5.50" fill="#000" />
<rect x="708.40" y="478.60" width="6.00" height="2.30" fill="#fff" />
<rect x="716.50" y="478.60" width="6.00" height="2.30" fill="#fff" />
<path d="M707.30,483.9 L711.40,481.2 L715.50,483.9 Z M715.40,483.9 L719.50,481.2 L723.60,483.9 Z" fill="#e8e8e8"/>
<rect x="724.10" y="478.50" width="17.30" height="5.50" fill="#000" />
<rect x="725.70" y="478.60" width="6.00" height="2.30" fill="#fff" />
<rect x="733.80" y="478.60" width="6.00" height="2.30" fill="#fff" />
<path d="M724.60,483.9 L728.70,481.2 L732.80,483.9 Z M732.70,483.9 L736.80,481.2 L740.90,483.9 Z" fill="#e8e8e8"/>
<rect x="741.40" y="478.50" width="17.30" height="5.50" fill="#000" />
<rect x="743.00" y="478.60" width="6.00" height="2.30" fill="#fff" />
<rect x="751.10" y="478.60" width="6.00" height="2.30" fill="#fff" />
<path d="M741.90,483.9 L746.00,481.2 L750.10,483.9 Z M750.00,483.9 L754.10,481.2 L758.20,483.9 Z" fill="#e8e8e8"/>
<rect x="758.70" y="478.50" width="17.30" height="5.50" fill="#000" />
<rect x="760.30" y="478.60" width="6.00" height="2.30" fill="#fff" />
<rect x="768.40" y="478.60" width="6.00" height="2.30" fill="#fff" />
<path d="M759.20,483.9 L763.30,481.2 L767.40,483.9 Z M767.30,483.9 L771.40,481.2 L775.50,483.9 Z" fill="#e8e8e8"/>
<rect x="776.00" y="478.50" width="17.30" height="5.50" fill="#000" />
<rect x="777.60" y="478.60" width="6.00" height="2.30" fill="#fff" />
<rect x="785.70" y="478.60" width="6.00" height="2.30" fill="#fff" />
<path d="M776.50,483.9 L780.60,481.2 L784.70,483.9 Z M784.60,483.9 L788.70,481.2 L792.80,483.9 Z" fill="#e8e8e8"/>
<rect x="793.30" y="478.50" width="17.30" height="5.50" fill="#000" />
<rect x="794.90" y="478.60" width="6.00" height="2.30" fill="#fff" />
<rect x="803.00" y="478.60" width="6.00" height="2.30" fill="#fff" />
<path d="M793.80,483.9 L797.90,481.2 L802.00,483.9 Z M801.90,483.9 L806.00,481.2 L810.10,483.9 Z" fill="#e8e8e8"/>
<rect x="810.60" y="478.50" width="17.30" height="5.50" fill="#000" />
<rect x="812.20" y="478.60" width="6.00" height="2.30" fill="#fff" />
<rect x="820.30" y="478.60" width="6.00" height="2.30" fill="#fff" />
<path d="M811.10,483.9 L815.20,481.2 L819.30,483.9 Z M819.20,483.9 L823.30,481.2 L827.40,483.9 Z" fill="#e8e8e8"/>
<rect x="827.90" y="478.50" width="17.30" height="5.50" fill="#000" />
<rect x="829.50" y="478.60" width="6.00" height="2.30" fill="#fff" />
<rect x="837.60" y="478.60" width="6.00" height="2.30" fill="#fff" />
<path d="M828.40,483.9 L832.50,481.2 L836.60,483.9 Z M836.50,483.9 L840.60,481.2 L844.70,483.9 Z" fill="#e8e8e8"/>
<rect x="845.20" y="478.50" width="17.30" height="5.50" fill="#000" />
<rect x="846.80" y="478.60" width="6.00" height="2.30" fill="#fff" />
<rect x="854.90" y="478.60" width="6.00" height="2.30" fill="#fff" />
<path d="M845.70,483.9 L849.80,481.2 L853.90,483.9 Z M853.80,483.9 L857.90,481.2 L862.00,483.9 Z" fill="#e8e8e8"/>
<rect x="862.50" y="478.50" width="17.30" height="5.50" fill="#000" />
<rect x="864.10" y="478.60" width="6.00" height="2.30" fill="#fff" />
<rect x="872.20" y="478.60" width="6.00" height="2.30" fill="#fff" />
<path d="M863.00,483.9 L867.10,481.2 L871.20,483.9 Z M871.10,483.9 L875.20,481.2 L879.30,483.9 Z" fill="#e8e8e8"/>
<rect x="879.80" y="478.50" width="17.30" height="5.50" fill="#000" />
<rect x="881.40" y="478.60" width="6.00" height="2.30" fill="#fff" />
<rect x="889.50" y="478.60" width="6.00" height="2.30" fill="#fff" />
<path d="M880.30,483.9 L884.40,481.2 L888.50,483.9 Z M888.40,483.9 L892.50,481.2 L896.60,483.9 Z" fill="#e8e8e8"/>
<rect x="897.10" y="478.50" width="17.30" height="5.50" fill="#000" />
<rect x="898.70" y="478.60" width="6.00" height="2.30" fill="#fff" />
<rect x="906.80" y="478.60" width="6.00" height="2.30" fill="#fff" />
<path d="M897.60,483.9 L901.70,481.2 L905.80,483.9 Z M905.70,483.9 L909.80,481.2 L913.90,483.9 Z" fill="#e8e8e8"/>
<rect x="914.40" y="478.50" width="17.30" height="5.50" fill="#000" />
<rect x="916.00" y="478.60" width="6.00" height="2.30" fill="#fff" />
<rect x="924.10" y="478.60" width="6.00" height="2.30" fill="#fff" />
<path d="M914.90,483.9 L919.00,481.2 L923.10,483.9 Z M923.00,483.9 L927.10,481.2 L931.20,483.9 Z" fill="#e8e8e8"/>
<rect x="931.70" y="478.50" width="17.30" height="5.50" fill="#000" />
<rect x="933.30" y="478.60" width="6.00" height="2.30" fill="#fff" />
<rect x="941.40" y="478.60" width="6.00" height="2.30" fill="#fff" />
<path d="M932.20,483.9 L936.30,481.2 L940.40,483.9 Z M940.30,483.9 L944.40,481.2 L948.50,483.9 Z" fill="#e8e8e8"/>
<rect x="949.00" y="478.50" width="17.30" height="5.50" fill="#000" />
<rect x="950.60" y="478.60" width="6.00" height="2.30" fill="#fff" />
<rect x="958.70" y="478.60" width="6.00" height="2.30" fill="#fff" />
<path d="M949.50,483.9 L953.60,481.2 L957.70,483.9 Z M957.60,483.9 L961.70,481.2 L965.80,483.9 Z" fill="#e8e8e8"/>
<rect x="966.30" y="478.50" width="17.30" height="5.50" fill="#000" />
<rect x="967.90" y="478.60" width="6.00" height="2.30" fill="#fff" />
<rect x="976.00" y="478.60" width="6.00" height="2.30" fill="#fff" />
<path d="M966.80,483.9 L970.90,481.2 L975.00,483.9 Z M974.90,483.9 L979.00,481.2 L983.10,483.9 Z" fill="#e8e8e8"/>
<rect x="983.60" y="478.50" width="17.30" height="5.50" fill="#000" />
<rect x="985.20" y="478.60" width="6.00" height="2.30" fill="#fff" />
<rect x="993.30" y="478.60" width="6.00" height="2.30" fill="#fff" />
<path d="M984.10,483.9 L988.20,481.2 L992.30,483.9 Z M992.20,483.9 L996.30,481.2 L1000.40,483.9 Z" fill="#e8e8e8"/>
<rect x="995.60" y="404.50" width="2.00" height="71.50" fill="#000" />
<circle cx="1004.20" cy="410.00" r="3.4" fill="#fff" stroke="#000" stroke-width="1.2"/>
<circle cx="1004.20" cy="425.00" r="3.4" fill="#fff" stroke="#000" stroke-width="1.2"/>
<circle cx="1004.20" cy="440.00" r="3.4" fill="#fff" stroke="#000" stroke-width="1.2"/>
<circle cx="1004.20" cy="455.00" r="3.4" fill="#fff" stroke="#000" stroke-width="1.2"/>
<circle cx="1004.20" cy="470.00" r="3.4" fill="#fff" stroke="#000" stroke-width="1.2"/>
<circle cx="1000.80" cy="417.60" r="3.4" fill="#fff" stroke="#000" stroke-width="1.2"/>
<circle cx="1009.90" cy="417.50" r="3.4" fill="#000" stroke="#000" stroke-width="1.2"/>
<circle cx="1000.80" cy="432.60" r="3.4" fill="#fff" stroke="#000" stroke-width="1.2"/>
<circle cx="1009.90" cy="432.50" r="3.4" fill="#fff" stroke="#000" stroke-width="1.2"/>
<circle cx="1000.80" cy="447.60" r="3.4" fill="#fff" stroke="#000" stroke-width="1.2"/>
<circle cx="1009.90" cy="447.50" r="3.4" fill="#fff" stroke="#000" stroke-width="1.2"/>
<circle cx="1000.80" cy="462.60" r="3.4" fill="#fff" stroke="#000" stroke-width="1.2"/>
<circle cx="1009.90" cy="462.50" r="3.4" fill="#fff" stroke="#000" stroke-width="1.2"/>
<rect x="998.20" y="406.00" width="1.20" height="3.00" fill="#000" />
<rect x="998.20" y="413.50" width="1.20" height="3.00" fill="#000" />
<rect x="998.20" y="421.00" width="1.20" height="3.00" fill="#000" />
<rect x="998.20" y="428.50" width="1.20" height="3.00" fill="#000" />
<rect x="998.20" y="436.00" width="1.20" height="3.00" fill="#000" />
<rect x="998.20" y="443.50" width="1.20" height="3.00" fill="#000" />
<rect x="998.20" y="451.00" width="1.20" height="3.00" fill="#000" />
<rect x="998.20" y="458.50" width="1.20" height="3.00" fill="#000" />
<rect x="998.20" y="466.00" width="1.20" height="3.00" fill="#000" />
<rect x="34.20" y="325.80" width="3.50" height="43.80" fill="#000" />
<rect x="32.20" y="375.00" width="2.80" height="14.00" fill="#000" />
<rect x="37.70" y="334.10" width="4.90" height="6.30" fill="#000" />
<path d="M37.7,361.3 L43,362 L49.6,366 L45,369.6 L37.7,369.6 Z" fill="#fff" stroke="#000" stroke-width="0.9"/>
<rect x="35.60" y="382.20" width="7.70" height="4.20" fill="#fff" stroke="#000" stroke-width="0.9"/>
<rect x="36.50" y="377.50" width="4.50" height="3.50" fill="#fff" stroke="#000" stroke-width="0.8"/>
<rect x="24.50" y="330.60" width="6.30" height="2.80" fill="#000" />
<rect x="24.50" y="348.00" width="6.30" height="2.80" fill="#000" />
<circle cx="27.60" cy="340.40" r="2.8" fill="#fff" stroke="#000" stroke-width="1.0"/>
<rect x="24.60" y="339.90" width="6.00" height="1.00" fill="#000" />
<rect x="26.40" y="335.00" width="2.40" height="1.50" fill="#000" />
<rect x="26.40" y="344.50" width="2.40" height="1.50" fill="#000" />
<path d="M315.8,370.2 L315.8,364.8 Q315.8,363.5 317.3,363.5 L320.5,363.5 L320.5,360.7 L326.5,360.7 L326.5,363.5 L330.1,363.5 L330.1,370.2 Z" fill="#f4f4f4" stroke="#000" stroke-width="1.0"/>
<rect x="315.80" y="368.60" width="14.30" height="1.60" fill="#000" />
<path d="M352.0,370.2 L352.0,364.8 Q352.0,363.5 353.5,363.5 L357.5,363.5 L357.5,360.7 L363.5,360.7 L363.5,363.5 L368.8,363.5 L368.8,370.2 Z" fill="#f4f4f4" stroke="#000" stroke-width="1.0"/>
<rect x="352.00" y="368.60" width="16.80" height="1.60" fill="#000" />
<polygon points="347.08,372.40 342.40,375.10 337.72,372.40 337.72,367.00 342.40,364.30 347.08,367.00" fill="#ddd" stroke="#000" stroke-width="1.6"/>
<circle cx="342.40" cy="369.70" r="2.6" fill="#fff" stroke="#000" stroke-width="1.1"/>
<circle cx="342.40" cy="369.70" r="0.9" fill="#000" stroke="#000" stroke-width="0.2"/>
<rect x="334.80" y="330.20" width="6.00" height="3.10" fill="#000" />
<rect x="334.80" y="348.20" width="6.00" height="2.50" fill="#000" />
<path d="M335.40000000000003,334.3 L340.2,339.5 M340.2,334.3 L335.40000000000003,339.5" stroke="#000" stroke-width="1.3"/>
<circle cx="337.80" cy="343.20" r="2.1" fill="#fff" stroke="#000" stroke-width="1.1"/>
<rect x="344.20" y="330.20" width="6.00" height="3.10" fill="#000" />
<rect x="344.20" y="348.20" width="6.00" height="2.50" fill="#000" />
<path d="M344.8,334.3 L349.59999999999997,339.5 M349.59999999999997,334.3 L344.8,339.5" stroke="#000" stroke-width="1.3"/>
<circle cx="347.20" cy="343.20" r="2.1" fill="#fff" stroke="#000" stroke-width="1.1"/>
<rect x="354.20" y="329.20" width="2.50" height="33.80" fill="#000" />
<rect x="351.50" y="374.80" width="1.50" height="6.20" fill="#000" />
<polygon points="681.87,333.48 677.38,337.97 671.02,337.97 666.53,333.48 666.53,327.12 671.02,322.63 677.38,322.63 681.87,327.12" fill="#fff" stroke="#000" stroke-width="1.35"/>
<rect x="669.90" y="329.10" width="8.60" height="2.50" fill="#000" />
<rect x="673.00" y="326.00" width="2.50" height="8.60" fill="#000" />
<polygon points="666.85,372.20 662.00,375.00 657.15,372.20 657.15,366.60 662.00,363.80 666.85,366.60" fill="#ddd" stroke="#000" stroke-width="1.6"/>
<circle cx="662.00" cy="369.40" r="2.6" fill="#fff" stroke="#000" stroke-width="1.1"/>
<circle cx="662.00" cy="369.40" r="0.9" fill="#000" stroke="#000" stroke-width="0.2"/>
<path d="M635.0,370.2 L635.0,365.1 Q635.0,363.8 636.5,363.8 L640.0,363.8 L640.0,361.0 L646.5,361.0 L646.5,363.8 L648.8,363.8 L648.8,370.2 Z" fill="#f4f4f4" stroke="#000" stroke-width="1.0"/>
<rect x="635.00" y="368.60" width="13.80" height="1.60" fill="#000" />
<path d="M698.4,370.2 L698.4,365.1 Q698.4,363.8 699.9,363.8 L703.5,363.8 L703.5,361.0 L709.5,361.0 L709.5,363.8 L712.5,363.8 L712.5,370.2 Z" fill="#f4f4f4" stroke="#000" stroke-width="1.0"/>
<rect x="698.40" y="368.60" width="14.10" height="1.60" fill="#000" />
<rect x="653.90" y="330.30" width="6.40" height="2.90" fill="#000" />
<path d="M657.1,335.5 A2.4,2.4 0 1 1 657.0,335.5 Z" fill="none" stroke="#000" stroke-width="1.0"/>
<path d="M654.9,340 Q658.9,341.5 654.9,344.5 Q658.9,346 654.9,348" fill="none" stroke="#000" stroke-width="1.3"/>
<rect x="686.40" y="330.30" width="6.40" height="2.90" fill="#000" />
<path d="M689.6,335.5 A2.4,2.4 0 1 1 689.5,335.5 Z" fill="none" stroke="#000" stroke-width="1.0"/>
<path d="M687.4,340 Q691.4,341.5 687.4,344.5 Q691.4,346 687.4,348" fill="none" stroke="#000" stroke-width="1.3"/>
<rect x="640.70" y="334.30" width="9.30" height="7.20" fill="#fff" stroke="#000" stroke-width="0.9"/>
<path d="M638,386.2 L638,381 Q638,378.8 640.2,378.8 L648,378.8 L648,386.2 Z" fill="#fff" stroke="#000" stroke-width="0.9"/>
<rect x="640.70" y="307.00" width="9.30" height="6.70" fill="#000" />
<rect x="644.20" y="313.70" width="1.40" height="5.80" fill="#000" />
<rect x="693.40" y="307.00" width="6.60" height="4.60" fill="#000" />
<rect x="699.60" y="316.00" width="2.00" height="34.00" fill="#000" />
<rect x="984.60" y="334.10" width="4.90" height="6.90" fill="#000" />
<rect x="989.20" y="326.00" width="1.40" height="60.00" fill="#000" />
<path d="M990,361.2 L984,362 L977.7,366.5 L982,368.9 L990,368.9 Z" fill="#fff" stroke="#000" stroke-width="0.9"/>
<rect x="981.80" y="380.00" width="9.80" height="7.00" fill="#fff" stroke="#000" stroke-width="0.9"/>
<rect x="996.40" y="330.60" width="6.30" height="2.80" fill="#000" />
<rect x="996.40" y="348.00" width="6.30" height="2.80" fill="#000" />
<circle cx="999.60" cy="340.40" r="2.6" fill="#fff" stroke="#000" stroke-width="1.0"/>
<rect x="998.50" y="335.00" width="2.20" height="1.50" fill="#000" />
<rect x="998.50" y="344.50" width="2.20" height="1.50" fill="#000" />
<circle cx="1004.50" cy="369.60" r="4.6" fill="#fff" stroke="#000" stroke-width="1.6"/>
<circle cx="1004.50" cy="369.60" r="1.6" fill="#fff" stroke="#000" stroke-width="0.9"/>
<g fill="rgb(115,190,230)" opacity="0.2">
<circle cx="235.6" cy="217.8" r="17.5"/>
<rect x="240" y="214.5" width="83.3" height="7.5"/>
<rect x="315.3" y="222" width="8" height="67"/>
<circle cx="281.6" cy="262.9" r="17.3"/>
<rect x="193.9" y="259.6" width="80" height="7.8"/>
<rect x="193.9" y="267.4" width="7.8" height="80.1"/>
<circle cx="235.6" cy="308.3" r="17.3"/>
<circle cx="281.5" cy="352.8" r="16.8"/>
<rect x="193.9" y="347.5" width="80" height="8.5"/>
</g>
<g fill="rgb(115,190,230)" opacity="0.2" font-family="Liberation Sans" font-weight="bold" font-size="109">
<text transform="translate(355.96,285.2) scale(0.827,1)">L</text>
<text transform="translate(413.6,285.2) scale(0.856,1)">a</text>
<text x="469.2 523 583.3 629.7 689.3" y="285.2">yer23</text>
</g>
<clipPath id="gc"><rect x="35" y="307.0" width="293" height="80"/><rect x="355.5" y="307.0" width="291.3" height="80"/><rect x="700" y="307.0" width="290.5" height="80"/></clipPath>
<g  fill="#000" opacity="0.06" font-family="Liberation Sans" font-size="75">
<text transform="translate(357.84,361.7) scale(0.93,1)">s</text>
<text x="396.6 456.1 475.0 500.2 540.4 583.5 603.3 644.4 689.5" y="361.7">witch.com</text>
</g>
<g clip-path="url(#gc)" fill="#000" opacity="0.08" font-family="Liberation Sans" font-size="75">
<text transform="translate(357.84,361.7) scale(0.93,1)">s</text>
<text x="396.6 456.1 475.0 500.2 540.4 583.5 603.3 644.4 689.5" y="361.7">witch.com</text>
</g>
<line x1="184" y1="240" x2="184" y2="316" stroke="#fff" stroke-width="4.4"/>
<line x1="184" y1="240" x2="184" y2="316" stroke="#3a3a3a" stroke-width="1.6"/>
<path d="M177.7,311.5 L184,315.5 L190.3,311.5 L184,327.8 Z" fill="#1a1a1a" stroke="#fff" stroke-width="1.0" stroke-linejoin="round"/>
<line x1="499.6" y1="240" x2="499.6" y2="316" stroke="#fff" stroke-width="4.4"/>
<line x1="499.6" y1="240" x2="499.6" y2="316" stroke="#3a3a3a" stroke-width="1.6"/>
<path d="M493.3,311.5 L499.6,315.5 L505.90000000000003,311.5 L499.6,327.8 Z" fill="#1a1a1a" stroke="#fff" stroke-width="1.0" stroke-linejoin="round"/>
<line x1="846" y1="240" x2="846" y2="316" stroke="#fff" stroke-width="4.4"/>
<line x1="846" y1="240" x2="846" y2="316" stroke="#3a3a3a" stroke-width="1.6"/>
<path d="M839.7,311.5 L846,315.5 L852.3,311.5 L846,327.8 Z" fill="#1a1a1a" stroke="#fff" stroke-width="1.0" stroke-linejoin="round"/>
<circle cx="184.00" cy="226.20" r="13.7" fill="#fff" stroke="#2a2a2a" stroke-width="1.35"/>
<path d="M183.0,232.4 L185.9,232.4 L185.9,219.3 L183.6,219.3 Q182.6,221.6 179.4,222.2 L179.4,224.3 L183.0,224.3 Z" fill="#1a1a1a"/>
<circle cx="499.60" cy="226.20" r="13.7" fill="#fff" stroke="#2a2a2a" stroke-width="1.35"/>
<text x="499.8" y="232.6" text-anchor="middle" font-family="Liberation Sans" font-weight="bold" font-size="18" fill="#1a1a1a">2</text>
<circle cx="846.00" cy="226.20" r="13.7" fill="#fff" stroke="#2a2a2a" stroke-width="1.35"/>
<text x="846.2" y="232.6" text-anchor="middle" font-family="Liberation Sans" font-weight="bold" font-size="18" fill="#1a1a1a">3</text>
</svg></body></html>
